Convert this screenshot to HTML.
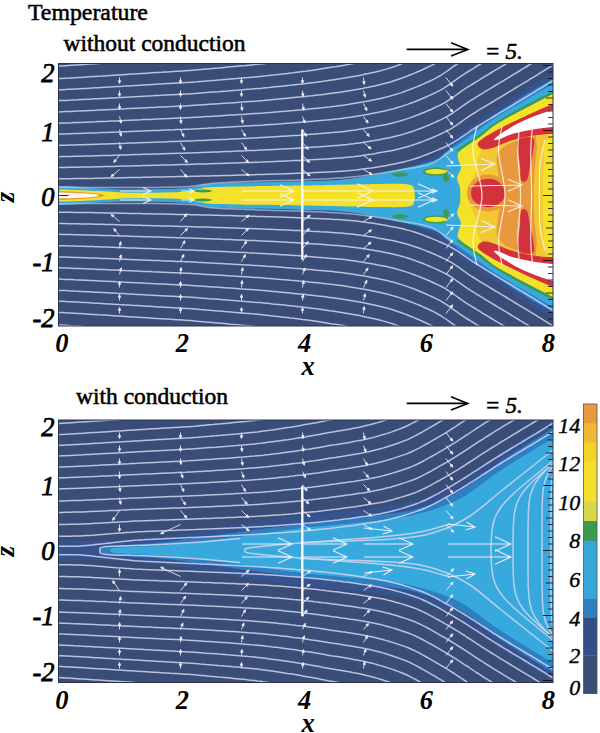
<!DOCTYPE html>
<html><head><meta charset="utf-8"><style>
html,body{margin:0;padding:0;background:#fff;}
body{width:600px;height:733px;overflow:hidden;}
svg{display:block;font-family:"Liberation Serif",serif;}
</style></head><body>
<svg width="600" height="733" viewBox="0 0 600 733">
<defs><clipPath id="ct"><rect x="58.5" y="63.5" width="494.5" height="262.5"/></clipPath>
<clipPath id="cb"><rect x="58.5" y="420.0" width="494.5" height="262.5"/></clipPath>
<filter id="bl" x="-5%" y="-5%" width="110%" height="110%"><feGaussianBlur stdDeviation="0.7"/></filter>
<filter id="bl2" x="-5%" y="-5%" width="110%" height="110%"><feGaussianBlur stdDeviation="0.45"/></filter></defs>
<g clip-path="url(#ct)">
<rect x="58.5" y="63.5" width="494.5" height="262.5" fill="#394d77"/>
<g filter="url(#bl)">
<path d="M380.0 182.0 C386.7 174.2 410.7 166.5 420.0 162.0 C429.3 157.5 430.7 158.8 436.0 155.0 C441.3 151.2 444.7 144.9 452.0 139.0 C459.3 133.1 468.7 127.2 480.0 119.5 C491.3 111.8 507.8 101.0 520.0 93.0 C532.2 85.0 544.7 76.8 553.0 71.5 C561.3 66.2 567.2 17.9 570.0 61.0 C572.8 104.1 572.8 286.9 570.0 330.0 C567.2 373.1 561.3 324.8 553.0 319.5 C544.7 314.2 532.2 306.0 520.0 298.0 C507.8 290.0 491.3 279.2 480.0 271.5 C468.7 263.8 459.3 257.9 452.0 252.0 C444.7 246.1 441.3 239.8 436.0 236.0 C430.7 232.2 429.3 233.5 420.0 229.0 C410.7 224.5 386.7 216.8 380.0 209.0 C373.3 201.2 373.3 189.8 380.0 182.0 Z" fill="#36528e" />
<path d="M380.0 182.5 C386.7 175.2 410.0 168.6 420.0 164.5 C430.0 160.4 434.3 161.2 440.0 158.0 C445.7 154.8 447.3 150.5 454.0 145.0 C460.7 139.5 469.0 132.8 480.0 125.0 C491.0 117.2 507.8 105.7 520.0 98.0 C532.2 90.3 544.7 83.7 553.0 79.0 C561.3 74.3 567.2 29.7 570.0 70.0 C572.8 110.3 572.8 280.7 570.0 321.0 C567.2 361.3 561.3 316.7 553.0 312.0 C544.7 307.3 532.2 300.7 520.0 293.0 C507.8 285.3 491.0 273.8 480.0 266.0 C469.0 258.2 460.7 251.5 454.0 246.0 C447.3 240.5 445.7 236.2 440.0 233.0 C434.3 229.8 430.0 230.6 420.0 226.5 C410.0 222.4 386.7 215.8 380.0 208.5 C373.3 201.2 373.3 189.8 380.0 182.5 Z" fill="#2f7fc2" />
<path d="M50.0 187.0 C58.3 184.4 86.7 188.1 100.0 188.5 C113.3 188.9 115.7 189.6 130.0 189.5 C144.3 189.4 171.8 189.0 186.0 188.0 C200.2 187.0 196.0 184.7 215.0 183.6 C234.0 182.5 277.2 182.2 300.0 181.3 C322.8 180.5 333.3 181.0 352.0 178.5 C370.7 176.0 398.0 169.4 412.0 166.5 C426.0 163.6 430.3 163.4 436.0 161.0 C441.7 158.6 442.0 154.9 446.0 152.0 C450.0 149.1 454.3 147.3 460.0 143.5 C465.7 139.7 473.3 133.8 480.0 129.0 C486.7 124.2 487.8 122.5 500.0 115.0 C512.2 107.5 541.3 90.8 553.0 84.0 C564.7 77.2 567.2 35.2 570.0 74.0 C572.8 112.8 572.8 278.2 570.0 317.0 C567.2 355.8 564.7 313.8 553.0 307.0 C541.3 300.2 512.2 283.5 500.0 276.0 C487.8 268.5 486.7 266.8 480.0 262.0 C473.3 257.2 465.7 251.3 460.0 247.5 C454.3 243.7 450.0 241.9 446.0 239.0 C442.0 236.1 441.7 232.4 436.0 230.0 C430.3 227.6 426.0 227.4 412.0 224.5 C398.0 221.6 370.7 215.0 352.0 212.5 C333.3 210.0 322.8 210.5 300.0 209.7 C277.2 208.8 234.0 208.5 215.0 207.4 C196.0 206.3 200.2 204.0 186.0 203.0 C171.8 202.0 144.3 201.6 130.0 201.5 C115.7 201.4 113.3 202.1 100.0 202.5 C86.7 202.9 58.3 206.6 50.0 204.0 C41.7 201.4 41.7 189.6 50.0 187.0 Z" fill="#38a9dc" />
<path d="M457.0 151.0 C460.8 148.4 472.8 140.5 480.0 135.5 C487.2 130.5 487.8 128.2 500.0 121.0 C512.2 113.8 541.3 98.5 553.0 92.5 C564.7 86.5 567.2 86.2 570.0 85.0" stroke="#3a9a52" stroke-width="2.6" fill="none" stroke-opacity="1"/>
<path d="M457.0 240.0 C460.8 242.6 472.8 250.5 480.0 255.5 C487.2 260.5 487.8 262.8 500.0 270.0 C512.2 277.2 541.3 292.5 553.0 298.5 C564.7 304.5 567.2 304.8 570.0 306.0" stroke="#3a9a52" stroke-width="2.6" fill="none" stroke-opacity="1"/>
<path d="M50.0 190.0 C58.3 188.3 86.7 190.6 100.0 191.0 C113.3 191.4 116.7 192.5 130.0 192.7 C143.3 192.9 168.3 192.6 180.0 192.0 C191.7 191.4 194.2 189.8 200.0 189.0 C205.8 188.2 198.3 187.6 215.0 187.0 C231.7 186.4 272.5 186.1 300.0 185.6 C327.5 185.1 362.0 184.2 380.0 184.0 C398.0 183.8 402.3 183.7 408.0 184.5 C413.7 185.3 413.0 186.1 414.0 189.0 C415.0 191.9 415.0 199.1 414.0 202.0 C413.0 204.9 413.7 205.7 408.0 206.5 C402.3 207.3 398.0 207.2 380.0 207.0 C362.0 206.8 327.5 205.9 300.0 205.4 C272.5 204.9 231.7 204.6 215.0 204.0 C198.3 203.4 205.8 202.8 200.0 202.0 C194.2 201.2 191.7 199.6 180.0 199.0 C168.3 198.4 143.3 198.1 130.0 198.3 C116.7 198.5 113.3 199.6 100.0 200.0 C86.7 200.4 58.3 202.7 50.0 201.0 C41.7 199.3 41.7 191.7 50.0 190.0 Z" fill="#f3e12c" />
<ellipse cx="400" cy="174.5" rx="8" ry="2.2" fill="#3a9a52"/>
<ellipse cx="400" cy="216.5" rx="8" ry="2.2" fill="#3a9a52"/>
<ellipse cx="203" cy="191" rx="9" ry="1.4" fill="#3a9a52"/>
<ellipse cx="203" cy="200.0" rx="9" ry="1.4" fill="#3a9a52"/>
<ellipse cx="446" cy="178" rx="3" ry="4" fill="#3a9a52"/>
<ellipse cx="446" cy="213.0" rx="3" ry="4" fill="#3a9a52"/>
<ellipse cx="436" cy="171.6" rx="13" ry="4" fill="#3a9a52"/>
<ellipse cx="436" cy="219.4" rx="13" ry="4" fill="#3a9a52"/>
<ellipse cx="436" cy="171.6" rx="11" ry="2.7" fill="#f3e12c"/>
<ellipse cx="436" cy="219.4" rx="11" ry="2.7" fill="#f3e12c"/>
<path d="M50.0 191.5 C55.0 190.2 72.3 191.7 80.0 192.0 C87.7 192.3 92.0 193.0 96.0 193.5 C100.0 194.0 102.7 194.6 104.0 195.0 C105.3 195.4 105.3 195.6 104.0 196.0 C102.7 196.4 100.0 197.0 96.0 197.5 C92.0 198.0 87.7 198.7 80.0 199.0 C72.3 199.3 55.0 200.8 50.0 199.5 C45.0 198.2 45.0 192.8 50.0 191.5 Z" fill="#e8993c"/>
<path d="M50.0 192.8 C55.0 192.0 72.8 193.0 80.0 193.2 C87.2 193.4 90.0 193.7 93.0 194.0 C96.0 194.3 97.2 194.7 98.0 195.0 C98.8 195.3 98.8 195.7 98.0 196.0 C97.2 196.3 96.0 196.7 93.0 197.0 C90.0 197.3 87.2 197.6 80.0 197.8 C72.8 198.0 55.0 199.0 50.0 198.2 C45.0 197.4 45.0 193.6 50.0 192.8 Z" fill="#fff6ee"/>
<path d="M570.0 86.0 C567.2 50.8 564.7 88.0 553.0 94.0 C541.3 100.0 512.2 114.8 500.0 122.0 C487.8 129.2 486.7 132.2 480.0 137.0 C473.3 141.8 463.7 147.5 460.0 151.0 C456.3 154.5 457.8 155.2 458.0 158.0 C458.2 160.8 461.2 164.7 461.0 168.0 C460.8 171.3 457.2 174.7 457.0 178.0 C456.8 181.3 459.5 183.8 460.0 188.0 C460.5 192.2 460.5 198.8 460.0 203.0 C459.5 207.2 456.8 209.7 457.0 213.0 C457.2 216.3 460.8 219.7 461.0 223.0 C461.2 226.3 458.2 230.2 458.0 233.0 C457.8 235.8 456.3 236.5 460.0 240.0 C463.7 243.5 473.3 249.2 480.0 254.0 C486.7 258.8 487.8 261.8 500.0 269.0 C512.2 276.2 541.3 291.0 553.0 297.0 C564.7 303.0 567.2 340.2 570.0 305.0 C572.8 269.8 572.8 121.2 570.0 86.0 Z" fill="#f3e12c" />
<path d="M570.0 98.0 C567.2 66.5 561.3 100.0 553.0 104.0 C544.7 108.0 528.8 117.2 520.0 122.0 C511.2 126.8 506.0 129.0 500.0 133.0 C494.0 137.0 487.7 141.8 484.0 146.0 C480.3 150.2 479.3 153.7 478.0 158.0 C476.7 162.3 477.3 167.3 476.0 172.0 C474.7 176.7 471.0 180.5 470.0 186.0 C469.0 191.5 469.0 199.5 470.0 205.0 C471.0 210.5 474.7 214.3 476.0 219.0 C477.3 223.7 476.7 228.7 478.0 233.0 C479.3 237.3 480.3 240.8 484.0 245.0 C487.7 249.2 494.0 254.0 500.0 258.0 C506.0 262.0 511.2 264.2 520.0 269.0 C528.8 273.8 544.7 283.0 553.0 287.0 C561.3 291.0 567.2 324.5 570.0 293.0 C572.8 261.5 572.8 129.5 570.0 98.0 Z" fill="#f2c732" />
<path d="M536.0 138.0 C533.3 119.2 525.2 138.7 520.0 140.0 C514.8 141.3 508.8 143.3 505.0 146.0 C501.2 148.7 498.2 151.7 497.0 156.0 C495.8 160.3 497.5 167.2 498.0 172.0 C498.5 176.8 499.7 179.3 500.0 185.0 C500.3 190.7 500.3 200.3 500.0 206.0 C499.7 211.7 498.5 214.2 498.0 219.0 C497.5 223.8 495.8 230.7 497.0 235.0 C498.2 239.3 501.2 242.3 505.0 245.0 C508.8 247.7 514.8 249.7 520.0 251.0 C525.2 252.3 533.3 271.8 536.0 253.0 C538.7 234.2 538.7 156.8 536.0 138.0 Z" fill="#e8993c" />
<path d="M553.0 136.0 C550.8 116.8 543.0 135.2 540.0 140.0 C537.0 144.8 536.0 155.8 535.0 165.0 C534.0 174.2 534.0 185.3 534.0 195.5 C534.0 205.7 534.0 216.8 535.0 226.0 C536.0 235.2 537.0 246.2 540.0 251.0 C543.0 255.8 550.8 274.2 553.0 255.0 C555.2 235.8 555.2 155.2 553.0 136.0 Z" fill="#f2c732"/>
<path d="M553.0 140.0 C551.7 122.0 546.7 138.0 545.0 143.0 C543.3 148.0 543.4 161.2 543.0 170.0 C542.6 178.8 542.5 187.0 542.5 195.5 C542.5 204.0 542.6 212.2 543.0 221.0 C543.4 229.8 543.3 243.0 545.0 248.0 C546.7 253.0 551.7 269.0 553.0 251.0 C554.3 233.0 554.3 158.0 553.0 140.0 Z" fill="#f3e12c"/>
<path d="M478.0 143.0 C479.3 140.5 483.8 137.7 490.0 134.0 C496.2 130.3 504.5 126.0 515.0 121.0 C525.5 116.0 543.8 107.5 553.0 104.0 C562.2 100.5 567.2 94.3 570.0 100.0 C572.8 105.7 572.8 132.3 570.0 138.0 C567.2 143.7 559.7 134.3 553.0 134.0 C546.3 133.7 537.2 134.8 530.0 136.0 C522.8 137.2 516.3 139.0 510.0 141.0 C503.7 143.0 496.7 146.7 492.0 148.0 C487.3 149.3 484.3 149.8 482.0 149.0 C479.7 148.2 476.7 145.5 478.0 143.0 Z" fill="#d3303c" />
<path d="M478.0 248.0 C479.3 250.5 483.8 253.3 490.0 257.0 C496.2 260.7 504.5 265.0 515.0 270.0 C525.5 275.0 543.8 283.5 553.0 287.0 C562.2 290.5 567.2 296.7 570.0 291.0 C572.8 285.3 572.8 258.7 570.0 253.0 C567.2 247.3 559.7 256.7 553.0 257.0 C546.3 257.3 537.2 256.2 530.0 255.0 C522.8 253.8 516.3 252.0 510.0 250.0 C503.7 248.0 496.7 244.3 492.0 243.0 C487.3 241.7 484.3 241.2 482.0 242.0 C479.7 242.8 476.7 245.5 478.0 248.0 Z" fill="#d3303c" />
<path d="M518.0 140.0 C520.5 137.7 530.5 136.0 533.0 138.0 C535.5 140.0 533.5 147.3 533.0 152.0 C532.5 156.7 531.0 161.3 530.0 166.0 C529.0 170.7 528.5 177.7 527.0 180.0 C525.5 182.3 522.2 182.5 521.0 180.0 C519.8 177.5 520.5 169.7 520.0 165.0 C519.5 160.3 518.3 156.2 518.0 152.0 C517.7 147.8 515.5 142.3 518.0 140.0 Z" fill="#d3303c" />
<path d="M518.0 251.0 C520.5 253.3 530.5 255.0 533.0 253.0 C535.5 251.0 533.5 243.7 533.0 239.0 C532.5 234.3 531.0 229.7 530.0 225.0 C529.0 220.3 528.5 213.3 527.0 211.0 C525.5 208.7 522.2 208.5 521.0 211.0 C519.8 213.5 520.5 221.3 520.0 226.0 C519.5 230.7 518.3 234.8 518.0 239.0 C517.7 243.2 515.5 248.7 518.0 251.0 Z" fill="#d3303c" />
<ellipse cx="488" cy="193.0" rx="21" ry="18.5" fill="#e8993c"/>
<ellipse cx="488" cy="193.0" rx="17" ry="14.3" fill="#d3303c"/>
<path d="M494.0 139.5 C494.8 138.2 499.8 134.2 505.0 131.0 C510.2 127.8 517.0 123.5 525.0 120.0 C533.0 116.5 545.5 112.0 553.0 110.0 C560.5 108.0 567.2 105.2 570.0 108.0 C572.8 110.8 572.8 123.8 570.0 127.0 C567.2 130.2 559.7 126.5 553.0 127.0 C546.3 127.5 536.8 128.8 530.0 130.0 C523.2 131.2 517.0 132.5 512.0 134.0 C507.0 135.5 503.0 138.1 500.0 139.0 C497.0 139.9 493.2 140.8 494.0 139.5 Z" fill="#ffffff" />
<path d="M494.0 251.5 C494.8 252.8 499.8 256.8 505.0 260.0 C510.2 263.2 517.0 267.5 525.0 271.0 C533.0 274.5 545.5 279.0 553.0 281.0 C560.5 283.0 567.2 285.8 570.0 283.0 C572.8 280.2 572.8 267.2 570.0 264.0 C567.2 260.8 559.7 264.5 553.0 264.0 C546.3 263.5 536.8 262.2 530.0 261.0 C523.2 259.8 517.0 258.5 512.0 257.0 C507.0 255.5 503.0 252.9 500.0 252.0 C497.0 251.1 493.2 250.2 494.0 251.5 Z" fill="#ffffff" />
</g>
<g stroke="#d0d6f0" stroke-width="1.5" fill="none" stroke-opacity="0.85" filter="url(#bl2)">
<path d="M56.5 66.2 L59.5 66.1 L62.5 65.9 L65.5 65.7 L68.5 65.5 L71.5 65.3 L74.5 65.1 L77.5 64.9 L80.5 64.7 L83.5 64.5 L86.5 64.3 L89.5 64.1 L92.5 63.9 L95.5 63.7 L98.5 63.5 L101.5 63.3 L104.5 63.1 L107.5 62.9 L110.5 62.7 L113.5 62.5 L116.5 62.2 L119.5 62.0 L122.5 61.8 L125.5 61.6 L128.5 61.4 L131.5 61.2 L134.5 61.0 L137.5 60.8 L140.5 60.6 L143.5 60.4 L146.5 60.2 L149.5 60.0 L152.5 59.8 L155.5 59.6 L158.5 59.4 L161.5 59.2 L164.5 59.0 L167.5 58.8 L170.5 58.6 L173.5 58.4 L176.5 58.2 L179.5 58.0 L182.5 57.8 L185.5 57.6 L188.5 57.4 L191.5 57.1 L194.5 56.8 L197.5 56.6 L200.5 56.3 L203.5 56.0 L206.5 55.7 L209.5 55.4 L212.5 55.1 L215.5 54.8 L218.5 54.5 L221.5 54.2 L224.5 53.9 L227.5 53.6 L230.5 53.3 L233.5 53.0 L236.5 52.7 L239.5 52.4 L242.5 52.1 L245.5 51.8 L248.5 51.5 L251.5 51.2 L254.5 50.9 L257.5 50.5 L260.5 50.2 L263.5 49.8 L266.5 49.4 L269.5 49.0 L272.5 48.6 L275.5 48.2 L278.5 47.8 L281.5 47.4 L284.5 47.0 L287.5 46.6 L290.5 46.1 L293.5 45.7 L296.5 45.3 L299.5 44.8 L302.5 44.4 L305.5 43.9 L308.5 43.5 L311.5 43.0 L314.5 42.5 L317.5 41.9 L320.5 41.4 L323.5 40.8 L326.5 40.1 L329.5 39.5 L332.5 39.0 L335.5 38.4 L338.5 37.9 L341.5 37.3 L344.5 36.7 L347.5 36.1 L350.5 35.5 L353.5 34.8 L356.5 34.2 L359.5 33.5 L362.5 32.8 L365.5 32.1 L368.5 31.3 L371.5 30.6 L374.5 29.7 L377.5 28.8 L380.5 27.8 L383.5 26.8 L386.5 25.7 L389.5 24.6 L392.5 23.4 L395.5 22.2 L398.5 20.9 L401.5 19.6 L404.5 18.3 L407.5 17.0 L410.5 15.6 L413.5 14.2 L416.5 12.8 L419.5 11.4 L422.5 9.8 L425.5 8.0 L428.5 6.1 L431.5 4.0 L434.5 1.9 L437.5 -0.3 L440.5 -2.5 L443.5 -4.6 L446.5 -6.7 L449.5 -8.6 L452.5 -10.5 L455.5 -12.4 L458.5 -14.3 L461.5 -16.2 L464.5 -18.1 L467.5 -19.9 L470.5 -21.8 L473.5 -23.6 L476.5 -25.5 L479.5 -27.4 L482.5 -29.2 L485.5 -31.1 L488.5 -33.0 L491.5 -34.9 L494.5 -36.7 L497.5 -38.6 L500.5 -40.5 L503.5 -42.4 L506.5 -44.3 L509.5 -46.2 L512.5 -48.1 L515.5 -50.0 L518.5 -51.9 L521.5 -53.8 L524.5 -55.8 L527.5 -57.7 L530.5 -59.7 L533.5 -61.6 L536.5 -63.6 L539.5 -65.6 L542.5 -67.6 L545.5 -69.6 L548.5 -71.5 L551.5 -73.5 L554.5 -75.5"/>
<path d="M56.5 324.8 L59.5 324.9 L62.5 325.1 L65.5 325.3 L68.5 325.5 L71.5 325.7 L74.5 325.9 L77.5 326.1 L80.5 326.3 L83.5 326.5 L86.5 326.7 L89.5 326.9 L92.5 327.1 L95.5 327.3 L98.5 327.5 L101.5 327.7 L104.5 327.9 L107.5 328.1 L110.5 328.3 L113.5 328.5 L116.5 328.8 L119.5 329.0 L122.5 329.2 L125.5 329.4 L128.5 329.6 L131.5 329.8 L134.5 330.0 L137.5 330.2 L140.5 330.4 L143.5 330.6 L146.5 330.8 L149.5 331.0 L152.5 331.2 L155.5 331.4 L158.5 331.6 L161.5 331.8 L164.5 332.0 L167.5 332.2 L170.5 332.4 L173.5 332.6 L176.5 332.8 L179.5 333.0 L182.5 333.2 L185.5 333.4 L188.5 333.6 L191.5 333.9 L194.5 334.2 L197.5 334.4 L200.5 334.7 L203.5 335.0 L206.5 335.3 L209.5 335.6 L212.5 335.9 L215.5 336.2 L218.5 336.5 L221.5 336.8 L224.5 337.1 L227.5 337.4 L230.5 337.7 L233.5 338.0 L236.5 338.3 L239.5 338.6 L242.5 338.9 L245.5 339.2 L248.5 339.5 L251.5 339.8 L254.5 340.1 L257.5 340.5 L260.5 340.8 L263.5 341.2 L266.5 341.6 L269.5 342.0 L272.5 342.4 L275.5 342.8 L278.5 343.2 L281.5 343.6 L284.5 344.0 L287.5 344.4 L290.5 344.9 L293.5 345.3 L296.5 345.7 L299.5 346.2 L302.5 346.6 L305.5 347.1 L308.5 347.5 L311.5 348.0 L314.5 348.5 L317.5 349.1 L320.5 349.6 L323.5 350.2 L326.5 350.9 L329.5 351.5 L332.5 352.0 L335.5 352.6 L338.5 353.1 L341.5 353.7 L344.5 354.3 L347.5 354.9 L350.5 355.5 L353.5 356.2 L356.5 356.8 L359.5 357.5 L362.5 358.2 L365.5 358.9 L368.5 359.7 L371.5 360.4 L374.5 361.3 L377.5 362.2 L380.5 363.2 L383.5 364.2 L386.5 365.3 L389.5 366.4 L392.5 367.6 L395.5 368.8 L398.5 370.1 L401.5 371.4 L404.5 372.7 L407.5 374.0 L410.5 375.4 L413.5 376.8 L416.5 378.2 L419.5 379.6 L422.5 381.2 L425.5 383.0 L428.5 384.9 L431.5 387.0 L434.5 389.1 L437.5 391.3 L440.5 393.5 L443.5 395.6 L446.5 397.7 L449.5 399.6 L452.5 401.5 L455.5 403.4 L458.5 405.3 L461.5 407.2 L464.5 409.1 L467.5 410.9 L470.5 412.8 L473.5 414.6 L476.5 416.5 L479.5 418.4 L482.5 420.2 L485.5 422.1 L488.5 424.0 L491.5 425.9 L494.5 427.7 L497.5 429.6 L500.5 431.5 L503.5 433.4 L506.5 435.3 L509.5 437.2 L512.5 439.1 L515.5 441.0 L518.5 442.9 L521.5 444.8 L524.5 446.8 L527.5 448.7 L530.5 450.7 L533.5 452.6 L536.5 454.6 L539.5 456.6 L542.5 458.6 L545.5 460.6 L548.5 462.5 L551.5 464.5 L554.5 466.5"/>
<path d="M56.5 78.7 L59.5 78.6 L62.5 78.4 L65.5 78.2 L68.5 78.1 L71.5 77.9 L74.5 77.7 L77.5 77.5 L80.5 77.4 L83.5 77.2 L86.5 77.0 L89.5 76.8 L92.5 76.6 L95.5 76.4 L98.5 76.2 L101.5 76.1 L104.5 75.9 L107.5 75.7 L110.5 75.5 L113.5 75.3 L116.5 75.1 L119.5 74.9 L122.5 74.7 L125.5 74.5 L128.5 74.3 L131.5 74.1 L134.5 74.0 L137.5 73.8 L140.5 73.6 L143.5 73.4 L146.5 73.2 L149.5 73.0 L152.5 72.8 L155.5 72.6 L158.5 72.4 L161.5 72.3 L164.5 72.1 L167.5 71.9 L170.5 71.7 L173.5 71.5 L176.5 71.3 L179.5 71.2 L182.5 71.0 L185.5 70.8 L188.5 70.6 L191.5 70.4 L194.5 70.1 L197.5 69.8 L200.5 69.6 L203.5 69.3 L206.5 69.0 L209.5 68.8 L212.5 68.5 L215.5 68.2 L218.5 68.0 L221.5 67.7 L224.5 67.4 L227.5 67.1 L230.5 66.8 L233.5 66.6 L236.5 66.3 L239.5 66.0 L242.5 65.7 L245.5 65.5 L248.5 65.2 L251.5 64.9 L254.5 64.6 L257.5 64.3 L260.5 64.0 L263.5 63.7 L266.5 63.3 L269.5 63.0 L272.5 62.6 L275.5 62.2 L278.5 61.8 L281.5 61.5 L284.5 61.1 L287.5 60.7 L290.5 60.3 L293.5 59.9 L296.5 59.5 L299.5 59.1 L302.5 58.7 L305.5 58.3 L308.5 57.9 L311.5 57.4 L314.5 57.0 L317.5 56.5 L320.5 56.0 L323.5 55.5 L326.5 54.9 L329.5 54.3 L332.5 53.8 L335.5 53.3 L338.5 52.8 L341.5 52.3 L344.5 51.7 L347.5 51.2 L350.5 50.6 L353.5 49.9 L356.5 49.3 L359.5 48.7 L362.5 48.0 L365.5 47.3 L368.5 46.6 L371.5 45.9 L374.5 45.2 L377.5 44.3 L380.5 43.5 L383.5 42.5 L386.5 41.5 L389.5 40.4 L392.5 39.3 L395.5 38.1 L398.5 36.9 L401.5 35.7 L404.5 34.4 L407.5 33.2 L410.5 31.9 L413.5 30.5 L416.5 29.1 L419.5 27.7 L422.5 26.3 L425.5 24.7 L428.5 23.0 L431.5 21.0 L434.5 19.0 L437.5 16.9 L440.5 14.7 L443.5 12.5 L446.5 10.4 L449.5 8.3 L452.5 6.4 L455.5 4.5 L458.5 2.6 L461.5 0.7 L464.5 -1.2 L467.5 -3.0 L470.5 -4.9 L473.5 -6.7 L476.5 -8.6 L479.5 -10.4 L482.5 -12.3 L485.5 -14.1 L488.5 -16.0 L491.5 -17.9 L494.5 -19.7 L497.5 -21.6 L500.5 -23.5 L503.5 -25.4 L506.5 -27.2 L509.5 -29.1 L512.5 -31.0 L515.5 -32.9 L518.5 -34.8 L521.5 -36.7 L524.5 -38.6 L527.5 -40.6 L530.5 -42.5 L533.5 -44.5 L536.5 -46.4 L539.5 -48.4 L542.5 -50.4 L545.5 -52.3 L548.5 -54.3 L551.5 -56.3 L554.5 -58.3"/>
<path d="M56.5 312.3 L59.5 312.4 L62.5 312.6 L65.5 312.8 L68.5 312.9 L71.5 313.1 L74.5 313.3 L77.5 313.5 L80.5 313.6 L83.5 313.8 L86.5 314.0 L89.5 314.2 L92.5 314.4 L95.5 314.6 L98.5 314.8 L101.5 314.9 L104.5 315.1 L107.5 315.3 L110.5 315.5 L113.5 315.7 L116.5 315.9 L119.5 316.1 L122.5 316.3 L125.5 316.5 L128.5 316.7 L131.5 316.9 L134.5 317.0 L137.5 317.2 L140.5 317.4 L143.5 317.6 L146.5 317.8 L149.5 318.0 L152.5 318.2 L155.5 318.4 L158.5 318.6 L161.5 318.7 L164.5 318.9 L167.5 319.1 L170.5 319.3 L173.5 319.5 L176.5 319.7 L179.5 319.8 L182.5 320.0 L185.5 320.2 L188.5 320.4 L191.5 320.6 L194.5 320.9 L197.5 321.2 L200.5 321.4 L203.5 321.7 L206.5 322.0 L209.5 322.2 L212.5 322.5 L215.5 322.8 L218.5 323.0 L221.5 323.3 L224.5 323.6 L227.5 323.9 L230.5 324.2 L233.5 324.4 L236.5 324.7 L239.5 325.0 L242.5 325.3 L245.5 325.5 L248.5 325.8 L251.5 326.1 L254.5 326.4 L257.5 326.7 L260.5 327.0 L263.5 327.3 L266.5 327.7 L269.5 328.0 L272.5 328.4 L275.5 328.8 L278.5 329.2 L281.5 329.5 L284.5 329.9 L287.5 330.3 L290.5 330.7 L293.5 331.1 L296.5 331.5 L299.5 331.9 L302.5 332.3 L305.5 332.7 L308.5 333.1 L311.5 333.6 L314.5 334.0 L317.5 334.5 L320.5 335.0 L323.5 335.5 L326.5 336.1 L329.5 336.7 L332.5 337.2 L335.5 337.7 L338.5 338.2 L341.5 338.7 L344.5 339.3 L347.5 339.8 L350.5 340.4 L353.5 341.1 L356.5 341.7 L359.5 342.3 L362.5 343.0 L365.5 343.7 L368.5 344.4 L371.5 345.1 L374.5 345.8 L377.5 346.7 L380.5 347.5 L383.5 348.5 L386.5 349.5 L389.5 350.6 L392.5 351.7 L395.5 352.9 L398.5 354.1 L401.5 355.3 L404.5 356.6 L407.5 357.8 L410.5 359.1 L413.5 360.5 L416.5 361.9 L419.5 363.3 L422.5 364.7 L425.5 366.3 L428.5 368.0 L431.5 370.0 L434.5 372.0 L437.5 374.1 L440.5 376.3 L443.5 378.5 L446.5 380.6 L449.5 382.7 L452.5 384.6 L455.5 386.5 L458.5 388.4 L461.5 390.3 L464.5 392.2 L467.5 394.0 L470.5 395.9 L473.5 397.7 L476.5 399.6 L479.5 401.4 L482.5 403.3 L485.5 405.1 L488.5 407.0 L491.5 408.9 L494.5 410.7 L497.5 412.6 L500.5 414.5 L503.5 416.4 L506.5 418.2 L509.5 420.1 L512.5 422.0 L515.5 423.9 L518.5 425.8 L521.5 427.7 L524.5 429.6 L527.5 431.6 L530.5 433.5 L533.5 435.5 L536.5 437.4 L539.5 439.4 L542.5 441.4 L545.5 443.3 L548.5 445.3 L551.5 447.3 L554.5 449.3"/>
<path d="M56.5 89.9 L59.5 89.8 L62.5 89.7 L65.5 89.5 L68.5 89.3 L71.5 89.2 L74.5 89.0 L77.5 88.9 L80.5 88.7 L83.5 88.5 L86.5 88.4 L89.5 88.2 L92.5 88.0 L95.5 87.8 L98.5 87.7 L101.5 87.5 L104.5 87.3 L107.5 87.1 L110.5 87.0 L113.5 86.8 L116.5 86.6 L119.5 86.4 L122.5 86.3 L125.5 86.1 L128.5 85.9 L131.5 85.7 L134.5 85.6 L137.5 85.4 L140.5 85.2 L143.5 85.0 L146.5 84.8 L149.5 84.7 L152.5 84.5 L155.5 84.3 L158.5 84.1 L161.5 84.0 L164.5 83.8 L167.5 83.6 L170.5 83.5 L173.5 83.3 L176.5 83.1 L179.5 83.0 L182.5 82.8 L185.5 82.6 L188.5 82.4 L191.5 82.2 L194.5 82.0 L197.5 81.8 L200.5 81.5 L203.5 81.3 L206.5 81.0 L209.5 80.8 L212.5 80.5 L215.5 80.3 L218.5 80.0 L221.5 79.8 L224.5 79.5 L227.5 79.3 L230.5 79.0 L233.5 78.7 L236.5 78.5 L239.5 78.2 L242.5 78.0 L245.5 77.7 L248.5 77.5 L251.5 77.2 L254.5 77.0 L257.5 76.7 L260.5 76.4 L263.5 76.1 L266.5 75.8 L269.5 75.4 L272.5 75.1 L275.5 74.8 L278.5 74.4 L281.5 74.1 L284.5 73.7 L287.5 73.4 L290.5 73.0 L293.5 72.7 L296.5 72.3 L299.5 71.9 L302.5 71.5 L305.5 71.2 L308.5 70.8 L311.5 70.4 L314.5 70.0 L317.5 69.6 L320.5 69.1 L323.5 68.6 L326.5 68.1 L329.5 67.6 L332.5 67.1 L335.5 66.7 L338.5 66.2 L341.5 65.7 L344.5 65.2 L347.5 64.6 L350.5 64.1 L353.5 63.5 L356.5 62.9 L359.5 62.3 L362.5 61.6 L365.5 61.0 L368.5 60.3 L371.5 59.6 L374.5 58.9 L377.5 58.2 L380.5 57.4 L383.5 56.5 L386.5 55.6 L389.5 54.6 L392.5 53.5 L395.5 52.4 L398.5 51.2 L401.5 50.1 L404.5 48.9 L407.5 47.6 L410.5 46.4 L413.5 45.1 L416.5 43.7 L419.5 42.3 L422.5 40.9 L425.5 39.5 L428.5 37.9 L431.5 36.2 L434.5 34.2 L437.5 32.2 L440.5 30.1 L443.5 27.9 L446.5 25.7 L449.5 23.6 L452.5 21.6 L455.5 19.6 L458.5 17.7 L461.5 15.9 L464.5 14.0 L467.5 12.1 L470.5 10.3 L473.5 8.4 L476.5 6.6 L479.5 4.7 L482.5 2.9 L485.5 1.0 L488.5 -0.8 L491.5 -2.7 L494.5 -4.5 L497.5 -6.4 L500.5 -8.3 L503.5 -10.1 L506.5 -12.0 L509.5 -13.9 L512.5 -15.7 L515.5 -17.6 L518.5 -19.5 L521.5 -21.4 L524.5 -23.3 L527.5 -25.2 L530.5 -27.2 L533.5 -29.1 L536.5 -31.0 L539.5 -33.0 L542.5 -34.9 L545.5 -36.9 L548.5 -38.9 L551.5 -40.8 L554.5 -42.8"/>
<path d="M56.5 301.1 L59.5 301.2 L62.5 301.3 L65.5 301.5 L68.5 301.7 L71.5 301.8 L74.5 302.0 L77.5 302.1 L80.5 302.3 L83.5 302.5 L86.5 302.6 L89.5 302.8 L92.5 303.0 L95.5 303.2 L98.5 303.3 L101.5 303.5 L104.5 303.7 L107.5 303.9 L110.5 304.0 L113.5 304.2 L116.5 304.4 L119.5 304.6 L122.5 304.7 L125.5 304.9 L128.5 305.1 L131.5 305.3 L134.5 305.4 L137.5 305.6 L140.5 305.8 L143.5 306.0 L146.5 306.2 L149.5 306.3 L152.5 306.5 L155.5 306.7 L158.5 306.9 L161.5 307.0 L164.5 307.2 L167.5 307.4 L170.5 307.5 L173.5 307.7 L176.5 307.9 L179.5 308.0 L182.5 308.2 L185.5 308.4 L188.5 308.6 L191.5 308.8 L194.5 309.0 L197.5 309.2 L200.5 309.5 L203.5 309.7 L206.5 310.0 L209.5 310.2 L212.5 310.5 L215.5 310.7 L218.5 311.0 L221.5 311.2 L224.5 311.5 L227.5 311.7 L230.5 312.0 L233.5 312.3 L236.5 312.5 L239.5 312.8 L242.5 313.0 L245.5 313.3 L248.5 313.5 L251.5 313.8 L254.5 314.0 L257.5 314.3 L260.5 314.6 L263.5 314.9 L266.5 315.2 L269.5 315.6 L272.5 315.9 L275.5 316.2 L278.5 316.6 L281.5 316.9 L284.5 317.3 L287.5 317.6 L290.5 318.0 L293.5 318.3 L296.5 318.7 L299.5 319.1 L302.5 319.5 L305.5 319.8 L308.5 320.2 L311.5 320.6 L314.5 321.0 L317.5 321.4 L320.5 321.9 L323.5 322.4 L326.5 322.9 L329.5 323.4 L332.5 323.9 L335.5 324.3 L338.5 324.8 L341.5 325.3 L344.5 325.8 L347.5 326.4 L350.5 326.9 L353.5 327.5 L356.5 328.1 L359.5 328.7 L362.5 329.4 L365.5 330.0 L368.5 330.7 L371.5 331.4 L374.5 332.1 L377.5 332.8 L380.5 333.6 L383.5 334.5 L386.5 335.4 L389.5 336.4 L392.5 337.5 L395.5 338.6 L398.5 339.8 L401.5 340.9 L404.5 342.1 L407.5 343.4 L410.5 344.6 L413.5 345.9 L416.5 347.3 L419.5 348.7 L422.5 350.1 L425.5 351.5 L428.5 353.1 L431.5 354.8 L434.5 356.8 L437.5 358.8 L440.5 360.9 L443.5 363.1 L446.5 365.3 L449.5 367.4 L452.5 369.4 L455.5 371.4 L458.5 373.3 L461.5 375.1 L464.5 377.0 L467.5 378.9 L470.5 380.7 L473.5 382.6 L476.5 384.4 L479.5 386.3 L482.5 388.1 L485.5 390.0 L488.5 391.8 L491.5 393.7 L494.5 395.5 L497.5 397.4 L500.5 399.3 L503.5 401.1 L506.5 403.0 L509.5 404.9 L512.5 406.7 L515.5 408.6 L518.5 410.5 L521.5 412.4 L524.5 414.3 L527.5 416.2 L530.5 418.2 L533.5 420.1 L536.5 422.0 L539.5 424.0 L542.5 425.9 L545.5 427.9 L548.5 429.9 L551.5 431.8 L554.5 433.8"/>
<path d="M56.5 100.7 L59.5 100.6 L62.5 100.5 L65.5 100.4 L68.5 100.2 L71.5 100.1 L74.5 99.9 L77.5 99.8 L80.5 99.6 L83.5 99.5 L86.5 99.3 L89.5 99.2 L92.5 99.0 L95.5 98.8 L98.5 98.7 L101.5 98.5 L104.5 98.4 L107.5 98.2 L110.5 98.0 L113.5 97.9 L116.5 97.7 L119.5 97.6 L122.5 97.4 L125.5 97.2 L128.5 97.1 L131.5 96.9 L134.5 96.7 L137.5 96.6 L140.5 96.4 L143.5 96.2 L146.5 96.1 L149.5 95.9 L152.5 95.8 L155.5 95.6 L158.5 95.4 L161.5 95.3 L164.5 95.1 L167.5 95.0 L170.5 94.8 L173.5 94.7 L176.5 94.5 L179.5 94.3 L182.5 94.2 L185.5 94.0 L188.5 93.9 L191.5 93.7 L194.5 93.5 L197.5 93.2 L200.5 93.0 L203.5 92.8 L206.5 92.6 L209.5 92.3 L212.5 92.1 L215.5 91.9 L218.5 91.7 L221.5 91.4 L224.5 91.2 L227.5 91.0 L230.5 90.7 L233.5 90.5 L236.5 90.3 L239.5 90.0 L242.5 89.8 L245.5 89.5 L248.5 89.3 L251.5 89.1 L254.5 88.8 L257.5 88.6 L260.5 88.4 L263.5 88.1 L266.5 87.8 L269.5 87.5 L272.5 87.1 L275.5 86.8 L278.5 86.5 L281.5 86.2 L284.5 85.9 L287.5 85.6 L290.5 85.3 L293.5 84.9 L296.5 84.6 L299.5 84.3 L302.5 83.9 L305.5 83.6 L308.5 83.2 L311.5 82.8 L314.5 82.5 L317.5 82.1 L320.5 81.7 L323.5 81.3 L326.5 80.8 L329.5 80.3 L332.5 79.9 L335.5 79.5 L338.5 79.1 L341.5 78.6 L344.5 78.1 L347.5 77.6 L350.5 77.1 L353.5 76.5 L356.5 76.0 L359.5 75.4 L362.5 74.8 L365.5 74.1 L368.5 73.5 L371.5 72.8 L374.5 72.2 L377.5 71.5 L380.5 70.8 L383.5 69.9 L386.5 69.1 L389.5 68.1 L392.5 67.2 L395.5 66.1 L398.5 65.0 L401.5 63.9 L404.5 62.7 L407.5 61.6 L410.5 60.3 L413.5 59.1 L416.5 57.8 L419.5 56.4 L422.5 55.0 L425.5 53.6 L428.5 52.2 L431.5 50.6 L434.5 48.8 L437.5 46.9 L440.5 44.9 L443.5 42.7 L446.5 40.6 L449.5 38.4 L452.5 36.3 L455.5 34.3 L458.5 32.4 L461.5 30.5 L464.5 28.6 L467.5 26.7 L470.5 24.9 L473.5 23.0 L476.5 21.2 L479.5 19.4 L482.5 17.5 L485.5 15.7 L488.5 13.8 L491.5 12.0 L494.5 10.2 L497.5 8.3 L500.5 6.4 L503.5 4.6 L506.5 2.7 L509.5 0.8 L512.5 -1.0 L515.5 -2.9 L518.5 -4.8 L521.5 -6.6 L524.5 -8.5 L527.5 -10.4 L530.5 -12.3 L533.5 -14.3 L536.5 -16.2 L539.5 -18.1 L542.5 -20.1 L545.5 -22.0 L548.5 -24.0 L551.5 -25.9 L554.5 -27.9"/>
<path d="M56.5 290.3 L59.5 290.4 L62.5 290.5 L65.5 290.6 L68.5 290.8 L71.5 290.9 L74.5 291.1 L77.5 291.2 L80.5 291.4 L83.5 291.5 L86.5 291.7 L89.5 291.8 L92.5 292.0 L95.5 292.2 L98.5 292.3 L101.5 292.5 L104.5 292.6 L107.5 292.8 L110.5 293.0 L113.5 293.1 L116.5 293.3 L119.5 293.4 L122.5 293.6 L125.5 293.8 L128.5 293.9 L131.5 294.1 L134.5 294.3 L137.5 294.4 L140.5 294.6 L143.5 294.8 L146.5 294.9 L149.5 295.1 L152.5 295.2 L155.5 295.4 L158.5 295.6 L161.5 295.7 L164.5 295.9 L167.5 296.0 L170.5 296.2 L173.5 296.3 L176.5 296.5 L179.5 296.7 L182.5 296.8 L185.5 297.0 L188.5 297.1 L191.5 297.3 L194.5 297.5 L197.5 297.8 L200.5 298.0 L203.5 298.2 L206.5 298.4 L209.5 298.7 L212.5 298.9 L215.5 299.1 L218.5 299.3 L221.5 299.6 L224.5 299.8 L227.5 300.0 L230.5 300.3 L233.5 300.5 L236.5 300.7 L239.5 301.0 L242.5 301.2 L245.5 301.5 L248.5 301.7 L251.5 301.9 L254.5 302.2 L257.5 302.4 L260.5 302.6 L263.5 302.9 L266.5 303.2 L269.5 303.5 L272.5 303.9 L275.5 304.2 L278.5 304.5 L281.5 304.8 L284.5 305.1 L287.5 305.4 L290.5 305.7 L293.5 306.1 L296.5 306.4 L299.5 306.7 L302.5 307.1 L305.5 307.4 L308.5 307.8 L311.5 308.2 L314.5 308.5 L317.5 308.9 L320.5 309.3 L323.5 309.7 L326.5 310.2 L329.5 310.7 L332.5 311.1 L335.5 311.5 L338.5 311.9 L341.5 312.4 L344.5 312.9 L347.5 313.4 L350.5 313.9 L353.5 314.5 L356.5 315.0 L359.5 315.6 L362.5 316.2 L365.5 316.9 L368.5 317.5 L371.5 318.2 L374.5 318.8 L377.5 319.5 L380.5 320.2 L383.5 321.1 L386.5 321.9 L389.5 322.9 L392.5 323.8 L395.5 324.9 L398.5 326.0 L401.5 327.1 L404.5 328.3 L407.5 329.4 L410.5 330.7 L413.5 331.9 L416.5 333.2 L419.5 334.6 L422.5 336.0 L425.5 337.4 L428.5 338.8 L431.5 340.4 L434.5 342.2 L437.5 344.1 L440.5 346.1 L443.5 348.3 L446.5 350.4 L449.5 352.6 L452.5 354.7 L455.5 356.7 L458.5 358.6 L461.5 360.5 L464.5 362.4 L467.5 364.3 L470.5 366.1 L473.5 368.0 L476.5 369.8 L479.5 371.6 L482.5 373.5 L485.5 375.3 L488.5 377.2 L491.5 379.0 L494.5 380.8 L497.5 382.7 L500.5 384.6 L503.5 386.4 L506.5 388.3 L509.5 390.2 L512.5 392.0 L515.5 393.9 L518.5 395.8 L521.5 397.6 L524.5 399.5 L527.5 401.4 L530.5 403.3 L533.5 405.3 L536.5 407.2 L539.5 409.1 L542.5 411.1 L545.5 413.0 L548.5 415.0 L551.5 416.9 L554.5 418.9"/>
<path d="M56.5 111.9 L59.5 111.9 L62.5 111.7 L65.5 111.6 L68.5 111.5 L71.5 111.4 L74.5 111.2 L77.5 111.1 L80.5 111.0 L83.5 110.8 L86.5 110.7 L89.5 110.5 L92.5 110.4 L95.5 110.3 L98.5 110.1 L101.5 110.0 L104.5 109.8 L107.5 109.7 L110.5 109.5 L113.5 109.4 L116.5 109.2 L119.5 109.1 L122.5 108.9 L125.5 108.8 L128.5 108.6 L131.5 108.5 L134.5 108.3 L137.5 108.2 L140.5 108.0 L143.5 107.9 L146.5 107.7 L149.5 107.6 L152.5 107.4 L155.5 107.3 L158.5 107.1 L161.5 107.0 L164.5 106.9 L167.5 106.7 L170.5 106.6 L173.5 106.4 L176.5 106.3 L179.5 106.1 L182.5 106.0 L185.5 105.9 L188.5 105.7 L191.5 105.5 L194.5 105.3 L197.5 105.1 L200.5 104.9 L203.5 104.7 L206.5 104.5 L209.5 104.3 L212.5 104.1 L215.5 103.9 L218.5 103.7 L221.5 103.5 L224.5 103.3 L227.5 103.1 L230.5 102.9 L233.5 102.7 L236.5 102.5 L239.5 102.2 L242.5 102.0 L245.5 101.8 L248.5 101.6 L251.5 101.4 L254.5 101.2 L257.5 101.0 L260.5 100.7 L263.5 100.5 L266.5 100.2 L269.5 99.9 L272.5 99.6 L275.5 99.4 L278.5 99.1 L281.5 98.8 L284.5 98.5 L287.5 98.2 L290.5 97.9 L293.5 97.6 L296.5 97.3 L299.5 97.0 L302.5 96.7 L305.5 96.4 L308.5 96.1 L311.5 95.8 L314.5 95.4 L317.5 95.1 L320.5 94.8 L323.5 94.4 L326.5 94.0 L329.5 93.6 L332.5 93.2 L335.5 92.8 L338.5 92.4 L341.5 92.0 L344.5 91.5 L347.5 91.0 L350.5 90.5 L353.5 90.0 L356.5 89.5 L359.5 88.9 L362.5 88.4 L365.5 87.8 L368.5 87.2 L371.5 86.5 L374.5 85.9 L377.5 85.2 L380.5 84.6 L383.5 83.8 L386.5 83.0 L389.5 82.2 L392.5 81.3 L395.5 80.3 L398.5 79.2 L401.5 78.2 L404.5 77.1 L407.5 76.0 L410.5 74.8 L413.5 73.6 L416.5 72.3 L419.5 71.0 L422.5 69.7 L425.5 68.3 L428.5 66.9 L431.5 65.4 L434.5 63.9 L437.5 62.1 L440.5 60.1 L443.5 58.1 L446.5 56.0 L449.5 53.8 L452.5 51.7 L455.5 49.6 L458.5 47.6 L461.5 45.7 L464.5 43.8 L467.5 41.9 L470.5 40.0 L473.5 38.2 L476.5 36.3 L479.5 34.5 L482.5 32.7 L485.5 30.9 L488.5 29.0 L491.5 27.2 L494.5 25.4 L497.5 23.5 L500.5 21.7 L503.5 19.8 L506.5 18.0 L509.5 16.1 L512.5 14.2 L515.5 12.4 L518.5 10.5 L521.5 8.7 L524.5 6.8 L527.5 4.9 L530.5 3.0 L533.5 1.1 L536.5 -0.8 L539.5 -2.7 L542.5 -4.7 L545.5 -6.6 L548.5 -8.6 L551.5 -10.5 L554.5 -12.4"/>
<path d="M56.5 279.1 L59.5 279.1 L62.5 279.3 L65.5 279.4 L68.5 279.5 L71.5 279.6 L74.5 279.8 L77.5 279.9 L80.5 280.0 L83.5 280.2 L86.5 280.3 L89.5 280.5 L92.5 280.6 L95.5 280.7 L98.5 280.9 L101.5 281.0 L104.5 281.2 L107.5 281.3 L110.5 281.5 L113.5 281.6 L116.5 281.8 L119.5 281.9 L122.5 282.1 L125.5 282.2 L128.5 282.4 L131.5 282.5 L134.5 282.7 L137.5 282.8 L140.5 283.0 L143.5 283.1 L146.5 283.3 L149.5 283.4 L152.5 283.6 L155.5 283.7 L158.5 283.9 L161.5 284.0 L164.5 284.1 L167.5 284.3 L170.5 284.4 L173.5 284.6 L176.5 284.7 L179.5 284.9 L182.5 285.0 L185.5 285.1 L188.5 285.3 L191.5 285.5 L194.5 285.7 L197.5 285.9 L200.5 286.1 L203.5 286.3 L206.5 286.5 L209.5 286.7 L212.5 286.9 L215.5 287.1 L218.5 287.3 L221.5 287.5 L224.5 287.7 L227.5 287.9 L230.5 288.1 L233.5 288.3 L236.5 288.5 L239.5 288.8 L242.5 289.0 L245.5 289.2 L248.5 289.4 L251.5 289.6 L254.5 289.8 L257.5 290.0 L260.5 290.3 L263.5 290.5 L266.5 290.8 L269.5 291.1 L272.5 291.4 L275.5 291.6 L278.5 291.9 L281.5 292.2 L284.5 292.5 L287.5 292.8 L290.5 293.1 L293.5 293.4 L296.5 293.7 L299.5 294.0 L302.5 294.3 L305.5 294.6 L308.5 294.9 L311.5 295.2 L314.5 295.6 L317.5 295.9 L320.5 296.2 L323.5 296.6 L326.5 297.0 L329.5 297.4 L332.5 297.8 L335.5 298.2 L338.5 298.6 L341.5 299.0 L344.5 299.5 L347.5 300.0 L350.5 300.5 L353.5 301.0 L356.5 301.5 L359.5 302.1 L362.5 302.6 L365.5 303.2 L368.5 303.8 L371.5 304.5 L374.5 305.1 L377.5 305.8 L380.5 306.4 L383.5 307.2 L386.5 308.0 L389.5 308.8 L392.5 309.7 L395.5 310.7 L398.5 311.8 L401.5 312.8 L404.5 313.9 L407.5 315.0 L410.5 316.2 L413.5 317.4 L416.5 318.7 L419.5 320.0 L422.5 321.3 L425.5 322.7 L428.5 324.1 L431.5 325.6 L434.5 327.1 L437.5 328.9 L440.5 330.9 L443.5 332.9 L446.5 335.0 L449.5 337.2 L452.5 339.3 L455.5 341.4 L458.5 343.4 L461.5 345.3 L464.5 347.2 L467.5 349.1 L470.5 351.0 L473.5 352.8 L476.5 354.7 L479.5 356.5 L482.5 358.3 L485.5 360.1 L488.5 362.0 L491.5 363.8 L494.5 365.6 L497.5 367.5 L500.5 369.3 L503.5 371.2 L506.5 373.0 L509.5 374.9 L512.5 376.8 L515.5 378.6 L518.5 380.5 L521.5 382.3 L524.5 384.2 L527.5 386.1 L530.5 388.0 L533.5 389.9 L536.5 391.8 L539.5 393.7 L542.5 395.7 L545.5 397.6 L548.5 399.6 L551.5 401.5 L554.5 403.4"/>
<path d="M56.5 123.3 L59.5 123.2 L62.5 123.1 L65.5 123.0 L68.5 122.9 L71.5 122.8 L74.5 122.6 L77.5 122.5 L80.5 122.4 L83.5 122.3 L86.5 122.2 L89.5 122.0 L92.5 121.9 L95.5 121.8 L98.5 121.6 L101.5 121.5 L104.5 121.4 L107.5 121.3 L110.5 121.1 L113.5 121.0 L116.5 120.9 L119.5 120.7 L122.5 120.6 L125.5 120.4 L128.5 120.3 L131.5 120.2 L134.5 120.0 L137.5 119.9 L140.5 119.8 L143.5 119.6 L146.5 119.5 L149.5 119.4 L152.5 119.2 L155.5 119.1 L158.5 119.0 L161.5 118.8 L164.5 118.7 L167.5 118.6 L170.5 118.4 L173.5 118.3 L176.5 118.2 L179.5 118.0 L182.5 117.9 L185.5 117.8 L188.5 117.7 L191.5 117.5 L194.5 117.3 L197.5 117.2 L200.5 117.0 L203.5 116.8 L206.5 116.6 L209.5 116.4 L212.5 116.3 L215.5 116.1 L218.5 115.9 L221.5 115.7 L224.5 115.5 L227.5 115.3 L230.5 115.1 L233.5 115.0 L236.5 114.8 L239.5 114.6 L242.5 114.4 L245.5 114.2 L248.5 114.0 L251.5 113.8 L254.5 113.6 L257.5 113.4 L260.5 113.2 L263.5 113.0 L266.5 112.7 L269.5 112.5 L272.5 112.3 L275.5 112.0 L278.5 111.8 L281.5 111.5 L284.5 111.3 L287.5 111.0 L290.5 110.7 L293.5 110.5 L296.5 110.2 L299.5 109.9 L302.5 109.7 L305.5 109.4 L308.5 109.1 L311.5 108.8 L314.5 108.5 L317.5 108.2 L320.5 107.9 L323.5 107.6 L326.5 107.2 L329.5 106.9 L332.5 106.5 L335.5 106.2 L338.5 105.8 L341.5 105.4 L344.5 105.0 L347.5 104.6 L350.5 104.1 L353.5 103.6 L356.5 103.1 L359.5 102.6 L362.5 102.1 L365.5 101.5 L368.5 100.9 L371.5 100.3 L374.5 99.7 L377.5 99.1 L380.5 98.5 L383.5 97.8 L386.5 97.1 L389.5 96.3 L392.5 95.4 L395.5 94.5 L398.5 93.6 L401.5 92.6 L404.5 91.5 L407.5 90.4 L410.5 89.3 L413.5 88.1 L416.5 86.9 L419.5 85.7 L422.5 84.4 L425.5 83.0 L428.5 81.7 L431.5 80.3 L434.5 78.8 L437.5 77.2 L440.5 75.5 L443.5 73.5 L446.5 71.5 L449.5 69.4 L452.5 67.2 L455.5 65.1 L458.5 63.0 L461.5 61.0 L464.5 59.1 L467.5 57.2 L470.5 55.3 L473.5 53.5 L476.5 51.7 L479.5 49.8 L482.5 48.0 L485.5 46.2 L488.5 44.4 L491.5 42.5 L494.5 40.7 L497.5 38.9 L500.5 37.0 L503.5 35.2 L506.5 33.3 L509.5 31.5 L512.5 29.6 L515.5 27.8 L518.5 25.9 L521.5 24.1 L524.5 22.2 L527.5 20.4 L530.5 18.5 L533.5 16.6 L536.5 14.7 L539.5 12.8 L542.5 10.9 L545.5 8.9 L548.5 7.0 L551.5 5.1 L554.5 3.1"/>
<path d="M56.5 267.7 L59.5 267.8 L62.5 267.9 L65.5 268.0 L68.5 268.1 L71.5 268.2 L74.5 268.4 L77.5 268.5 L80.5 268.6 L83.5 268.7 L86.5 268.8 L89.5 269.0 L92.5 269.1 L95.5 269.2 L98.5 269.4 L101.5 269.5 L104.5 269.6 L107.5 269.7 L110.5 269.9 L113.5 270.0 L116.5 270.1 L119.5 270.3 L122.5 270.4 L125.5 270.6 L128.5 270.7 L131.5 270.8 L134.5 271.0 L137.5 271.1 L140.5 271.2 L143.5 271.4 L146.5 271.5 L149.5 271.6 L152.5 271.8 L155.5 271.9 L158.5 272.0 L161.5 272.2 L164.5 272.3 L167.5 272.4 L170.5 272.6 L173.5 272.7 L176.5 272.8 L179.5 273.0 L182.5 273.1 L185.5 273.2 L188.5 273.3 L191.5 273.5 L194.5 273.7 L197.5 273.8 L200.5 274.0 L203.5 274.2 L206.5 274.4 L209.5 274.6 L212.5 274.7 L215.5 274.9 L218.5 275.1 L221.5 275.3 L224.5 275.5 L227.5 275.7 L230.5 275.9 L233.5 276.0 L236.5 276.2 L239.5 276.4 L242.5 276.6 L245.5 276.8 L248.5 277.0 L251.5 277.2 L254.5 277.4 L257.5 277.6 L260.5 277.8 L263.5 278.0 L266.5 278.3 L269.5 278.5 L272.5 278.7 L275.5 279.0 L278.5 279.2 L281.5 279.5 L284.5 279.7 L287.5 280.0 L290.5 280.3 L293.5 280.5 L296.5 280.8 L299.5 281.1 L302.5 281.3 L305.5 281.6 L308.5 281.9 L311.5 282.2 L314.5 282.5 L317.5 282.8 L320.5 283.1 L323.5 283.4 L326.5 283.8 L329.5 284.1 L332.5 284.5 L335.5 284.8 L338.5 285.2 L341.5 285.6 L344.5 286.0 L347.5 286.4 L350.5 286.9 L353.5 287.4 L356.5 287.9 L359.5 288.4 L362.5 288.9 L365.5 289.5 L368.5 290.1 L371.5 290.7 L374.5 291.3 L377.5 291.9 L380.5 292.5 L383.5 293.2 L386.5 293.9 L389.5 294.7 L392.5 295.6 L395.5 296.5 L398.5 297.4 L401.5 298.4 L404.5 299.5 L407.5 300.6 L410.5 301.7 L413.5 302.9 L416.5 304.1 L419.5 305.3 L422.5 306.6 L425.5 308.0 L428.5 309.3 L431.5 310.7 L434.5 312.2 L437.5 313.8 L440.5 315.5 L443.5 317.5 L446.5 319.5 L449.5 321.6 L452.5 323.8 L455.5 325.9 L458.5 328.0 L461.5 330.0 L464.5 331.9 L467.5 333.8 L470.5 335.7 L473.5 337.5 L476.5 339.3 L479.5 341.2 L482.5 343.0 L485.5 344.8 L488.5 346.6 L491.5 348.5 L494.5 350.3 L497.5 352.1 L500.5 354.0 L503.5 355.8 L506.5 357.7 L509.5 359.5 L512.5 361.4 L515.5 363.2 L518.5 365.1 L521.5 366.9 L524.5 368.8 L527.5 370.6 L530.5 372.5 L533.5 374.4 L536.5 376.3 L539.5 378.2 L542.5 380.1 L545.5 382.1 L548.5 384.0 L551.5 385.9 L554.5 387.9"/>
<path d="M56.5 134.2 L59.5 134.1 L62.5 134.0 L65.5 133.9 L68.5 133.8 L71.5 133.7 L74.5 133.6 L77.5 133.5 L80.5 133.4 L83.5 133.3 L86.5 133.2 L89.5 133.1 L92.5 133.0 L95.5 132.9 L98.5 132.8 L101.5 132.6 L104.5 132.5 L107.5 132.4 L110.5 132.3 L113.5 132.2 L116.5 132.1 L119.5 131.9 L122.5 131.8 L125.5 131.7 L128.5 131.6 L131.5 131.4 L134.5 131.3 L137.5 131.2 L140.5 131.1 L143.5 131.0 L146.5 130.8 L149.5 130.7 L152.5 130.6 L155.5 130.5 L158.5 130.4 L161.5 130.2 L164.5 130.1 L167.5 130.0 L170.5 129.9 L173.5 129.8 L176.5 129.6 L179.5 129.5 L182.5 129.4 L185.5 129.3 L188.5 129.2 L191.5 129.1 L194.5 128.9 L197.5 128.7 L200.5 128.6 L203.5 128.4 L206.5 128.3 L209.5 128.1 L212.5 127.9 L215.5 127.8 L218.5 127.6 L221.5 127.5 L224.5 127.3 L227.5 127.1 L230.5 127.0 L233.5 126.8 L236.5 126.6 L239.5 126.5 L242.5 126.3 L245.5 126.1 L248.5 126.0 L251.5 125.8 L254.5 125.6 L257.5 125.4 L260.5 125.3 L263.5 125.1 L266.5 124.8 L269.5 124.6 L272.5 124.4 L275.5 124.2 L278.5 124.0 L281.5 123.8 L284.5 123.5 L287.5 123.3 L290.5 123.1 L293.5 122.8 L296.5 122.6 L299.5 122.4 L302.5 122.1 L305.5 121.9 L308.5 121.6 L311.5 121.4 L314.5 121.1 L317.5 120.8 L320.5 120.6 L323.5 120.3 L326.5 120.0 L329.5 119.7 L332.5 119.4 L335.5 119.1 L338.5 118.8 L341.5 118.4 L344.5 118.0 L347.5 117.6 L350.5 117.2 L353.5 116.7 L356.5 116.3 L359.5 115.8 L362.5 115.3 L365.5 114.7 L368.5 114.2 L371.5 113.6 L374.5 113.0 L377.5 112.4 L380.5 111.8 L383.5 111.2 L386.5 110.6 L389.5 109.8 L392.5 109.1 L395.5 108.2 L398.5 107.3 L401.5 106.4 L404.5 105.4 L407.5 104.4 L410.5 103.3 L413.5 102.2 L416.5 101.0 L419.5 99.8 L422.5 98.5 L425.5 97.2 L428.5 95.9 L431.5 94.5 L434.5 93.1 L437.5 91.7 L440.5 90.1 L443.5 88.3 L446.5 86.4 L449.5 84.3 L452.5 82.2 L455.5 80.1 L458.5 77.9 L461.5 75.9 L464.5 73.9 L467.5 72.0 L470.5 70.1 L473.5 68.3 L476.5 66.4 L479.5 64.6 L482.5 62.8 L485.5 60.9 L488.5 59.1 L491.5 57.3 L494.5 55.5 L497.5 53.7 L500.5 51.9 L503.5 50.0 L506.5 48.2 L509.5 46.3 L512.5 44.5 L515.5 42.7 L518.5 40.8 L521.5 39.0 L524.5 37.1 L527.5 35.3 L530.5 33.4 L533.5 31.5 L536.5 29.6 L539.5 27.7 L542.5 25.8 L545.5 23.9 L548.5 22.0 L551.5 20.1 L554.5 18.2"/>
<path d="M56.5 256.8 L59.5 256.9 L62.5 257.0 L65.5 257.1 L68.5 257.2 L71.5 257.3 L74.5 257.4 L77.5 257.5 L80.5 257.6 L83.5 257.7 L86.5 257.8 L89.5 257.9 L92.5 258.0 L95.5 258.1 L98.5 258.2 L101.5 258.4 L104.5 258.5 L107.5 258.6 L110.5 258.7 L113.5 258.8 L116.5 258.9 L119.5 259.1 L122.5 259.2 L125.5 259.3 L128.5 259.4 L131.5 259.6 L134.5 259.7 L137.5 259.8 L140.5 259.9 L143.5 260.0 L146.5 260.2 L149.5 260.3 L152.5 260.4 L155.5 260.5 L158.5 260.6 L161.5 260.8 L164.5 260.9 L167.5 261.0 L170.5 261.1 L173.5 261.2 L176.5 261.4 L179.5 261.5 L182.5 261.6 L185.5 261.7 L188.5 261.8 L191.5 261.9 L194.5 262.1 L197.5 262.3 L200.5 262.4 L203.5 262.6 L206.5 262.7 L209.5 262.9 L212.5 263.1 L215.5 263.2 L218.5 263.4 L221.5 263.5 L224.5 263.7 L227.5 263.9 L230.5 264.0 L233.5 264.2 L236.5 264.4 L239.5 264.5 L242.5 264.7 L245.5 264.9 L248.5 265.0 L251.5 265.2 L254.5 265.4 L257.5 265.6 L260.5 265.7 L263.5 265.9 L266.5 266.2 L269.5 266.4 L272.5 266.6 L275.5 266.8 L278.5 267.0 L281.5 267.2 L284.5 267.5 L287.5 267.7 L290.5 267.9 L293.5 268.2 L296.5 268.4 L299.5 268.6 L302.5 268.9 L305.5 269.1 L308.5 269.4 L311.5 269.6 L314.5 269.9 L317.5 270.2 L320.5 270.4 L323.5 270.7 L326.5 271.0 L329.5 271.3 L332.5 271.6 L335.5 271.9 L338.5 272.2 L341.5 272.6 L344.5 273.0 L347.5 273.4 L350.5 273.8 L353.5 274.3 L356.5 274.7 L359.5 275.2 L362.5 275.7 L365.5 276.3 L368.5 276.8 L371.5 277.4 L374.5 278.0 L377.5 278.6 L380.5 279.2 L383.5 279.8 L386.5 280.4 L389.5 281.2 L392.5 281.9 L395.5 282.8 L398.5 283.7 L401.5 284.6 L404.5 285.6 L407.5 286.6 L410.5 287.7 L413.5 288.8 L416.5 290.0 L419.5 291.2 L422.5 292.5 L425.5 293.8 L428.5 295.1 L431.5 296.5 L434.5 297.9 L437.5 299.3 L440.5 300.9 L443.5 302.7 L446.5 304.6 L449.5 306.7 L452.5 308.8 L455.5 310.9 L458.5 313.1 L461.5 315.1 L464.5 317.1 L467.5 319.0 L470.5 320.9 L473.5 322.7 L476.5 324.6 L479.5 326.4 L482.5 328.2 L485.5 330.1 L488.5 331.9 L491.5 333.7 L494.5 335.5 L497.5 337.3 L500.5 339.1 L503.5 341.0 L506.5 342.8 L509.5 344.7 L512.5 346.5 L515.5 348.3 L518.5 350.2 L521.5 352.0 L524.5 353.9 L527.5 355.7 L530.5 357.6 L533.5 359.5 L536.5 361.4 L539.5 363.3 L542.5 365.2 L545.5 367.1 L548.5 369.0 L551.5 370.9 L554.5 372.8"/>
<path d="M56.5 145.4 L59.5 145.3 L62.5 145.3 L65.5 145.2 L68.5 145.1 L71.5 145.0 L74.5 144.9 L77.5 144.8 L80.5 144.8 L83.5 144.7 L86.5 144.6 L89.5 144.5 L92.5 144.4 L95.5 144.3 L98.5 144.2 L101.5 144.1 L104.5 144.0 L107.5 143.9 L110.5 143.8 L113.5 143.7 L116.5 143.6 L119.5 143.5 L122.5 143.4 L125.5 143.3 L128.5 143.1 L131.5 143.0 L134.5 142.9 L137.5 142.8 L140.5 142.7 L143.5 142.6 L146.5 142.5 L149.5 142.4 L152.5 142.3 L155.5 142.2 L158.5 142.1 L161.5 142.0 L164.5 141.9 L167.5 141.7 L170.5 141.6 L173.5 141.5 L176.5 141.4 L179.5 141.3 L182.5 141.2 L185.5 141.1 L188.5 141.0 L191.5 140.9 L194.5 140.8 L197.5 140.6 L200.5 140.5 L203.5 140.4 L206.5 140.2 L209.5 140.1 L212.5 140.0 L215.5 139.8 L218.5 139.7 L221.5 139.5 L224.5 139.4 L227.5 139.3 L230.5 139.1 L233.5 139.0 L236.5 138.8 L239.5 138.7 L242.5 138.5 L245.5 138.4 L248.5 138.2 L251.5 138.1 L254.5 137.9 L257.5 137.8 L260.5 137.6 L263.5 137.5 L266.5 137.3 L269.5 137.1 L272.5 136.9 L275.5 136.7 L278.5 136.5 L281.5 136.3 L284.5 136.2 L287.5 136.0 L290.5 135.8 L293.5 135.6 L296.5 135.4 L299.5 135.2 L302.5 134.9 L305.5 134.7 L308.5 134.5 L311.5 134.3 L314.5 134.1 L317.5 133.8 L320.5 133.6 L323.5 133.3 L326.5 133.1 L329.5 132.8 L332.5 132.6 L335.5 132.3 L338.5 132.0 L341.5 131.7 L344.5 131.4 L347.5 131.0 L350.5 130.6 L353.5 130.2 L356.5 129.8 L359.5 129.3 L362.5 128.8 L365.5 128.3 L368.5 127.8 L371.5 127.3 L374.5 126.7 L377.5 126.1 L380.5 125.6 L383.5 125.0 L386.5 124.4 L389.5 123.7 L392.5 123.0 L395.5 122.2 L398.5 121.4 L401.5 120.5 L404.5 119.6 L407.5 118.6 L410.5 117.6 L413.5 116.5 L416.5 115.4 L419.5 114.3 L422.5 113.0 L425.5 111.8 L428.5 110.5 L431.5 109.2 L434.5 107.8 L437.5 106.4 L440.5 105.0 L443.5 103.4 L446.5 101.6 L449.5 99.6 L452.5 97.6 L455.5 95.5 L458.5 93.3 L461.5 91.2 L464.5 89.2 L467.5 87.2 L470.5 85.3 L473.5 83.5 L476.5 81.6 L479.5 79.8 L482.5 77.9 L485.5 76.1 L488.5 74.3 L491.5 72.5 L494.5 70.7 L497.5 68.9 L500.5 67.1 L503.5 65.3 L506.5 63.4 L509.5 61.6 L512.5 59.8 L515.5 57.9 L518.5 56.1 L521.5 54.3 L524.5 52.4 L527.5 50.6 L530.5 48.7 L533.5 46.9 L536.5 45.0 L539.5 43.1 L542.5 41.2 L545.5 39.3 L548.5 37.4 L551.5 35.5 L554.5 33.6"/>
<path d="M56.5 245.6 L59.5 245.7 L62.5 245.7 L65.5 245.8 L68.5 245.9 L71.5 246.0 L74.5 246.1 L77.5 246.2 L80.5 246.2 L83.5 246.3 L86.5 246.4 L89.5 246.5 L92.5 246.6 L95.5 246.7 L98.5 246.8 L101.5 246.9 L104.5 247.0 L107.5 247.1 L110.5 247.2 L113.5 247.3 L116.5 247.4 L119.5 247.5 L122.5 247.6 L125.5 247.7 L128.5 247.9 L131.5 248.0 L134.5 248.1 L137.5 248.2 L140.5 248.3 L143.5 248.4 L146.5 248.5 L149.5 248.6 L152.5 248.7 L155.5 248.8 L158.5 248.9 L161.5 249.0 L164.5 249.1 L167.5 249.3 L170.5 249.4 L173.5 249.5 L176.5 249.6 L179.5 249.7 L182.5 249.8 L185.5 249.9 L188.5 250.0 L191.5 250.1 L194.5 250.2 L197.5 250.4 L200.5 250.5 L203.5 250.6 L206.5 250.8 L209.5 250.9 L212.5 251.0 L215.5 251.2 L218.5 251.3 L221.5 251.5 L224.5 251.6 L227.5 251.7 L230.5 251.9 L233.5 252.0 L236.5 252.2 L239.5 252.3 L242.5 252.5 L245.5 252.6 L248.5 252.8 L251.5 252.9 L254.5 253.1 L257.5 253.2 L260.5 253.4 L263.5 253.5 L266.5 253.7 L269.5 253.9 L272.5 254.1 L275.5 254.3 L278.5 254.5 L281.5 254.7 L284.5 254.8 L287.5 255.0 L290.5 255.2 L293.5 255.4 L296.5 255.6 L299.5 255.8 L302.5 256.1 L305.5 256.3 L308.5 256.5 L311.5 256.7 L314.5 256.9 L317.5 257.2 L320.5 257.4 L323.5 257.7 L326.5 257.9 L329.5 258.2 L332.5 258.4 L335.5 258.7 L338.5 259.0 L341.5 259.3 L344.5 259.6 L347.5 260.0 L350.5 260.4 L353.5 260.8 L356.5 261.2 L359.5 261.7 L362.5 262.2 L365.5 262.7 L368.5 263.2 L371.5 263.7 L374.5 264.3 L377.5 264.9 L380.5 265.4 L383.5 266.0 L386.5 266.6 L389.5 267.3 L392.5 268.0 L395.5 268.8 L398.5 269.6 L401.5 270.5 L404.5 271.4 L407.5 272.4 L410.5 273.4 L413.5 274.5 L416.5 275.6 L419.5 276.7 L422.5 278.0 L425.5 279.2 L428.5 280.5 L431.5 281.8 L434.5 283.2 L437.5 284.6 L440.5 286.0 L443.5 287.6 L446.5 289.4 L449.5 291.4 L452.5 293.4 L455.5 295.5 L458.5 297.7 L461.5 299.8 L464.5 301.8 L467.5 303.8 L470.5 305.7 L473.5 307.5 L476.5 309.4 L479.5 311.2 L482.5 313.1 L485.5 314.9 L488.5 316.7 L491.5 318.5 L494.5 320.3 L497.5 322.1 L500.5 323.9 L503.5 325.7 L506.5 327.6 L509.5 329.4 L512.5 331.2 L515.5 333.1 L518.5 334.9 L521.5 336.7 L524.5 338.6 L527.5 340.4 L530.5 342.3 L533.5 344.1 L536.5 346.0 L539.5 347.9 L542.5 349.8 L545.5 351.7 L548.5 353.6 L551.5 355.5 L554.5 357.4"/>
<path d="M56.5 156.7 L59.5 156.7 L62.5 156.6 L65.5 156.5 L68.5 156.5 L71.5 156.4 L74.5 156.3 L77.5 156.3 L80.5 156.2 L83.5 156.1 L86.5 156.0 L89.5 156.0 L92.5 155.9 L95.5 155.8 L98.5 155.7 L101.5 155.6 L104.5 155.5 L107.5 155.5 L110.5 155.4 L113.5 155.3 L116.5 155.2 L119.5 155.1 L122.5 155.0 L125.5 154.9 L128.5 154.8 L131.5 154.7 L134.5 154.6 L137.5 154.5 L140.5 154.4 L143.5 154.3 L146.5 154.3 L149.5 154.2 L152.5 154.1 L155.5 154.0 L158.5 153.9 L161.5 153.8 L164.5 153.7 L167.5 153.6 L170.5 153.5 L173.5 153.4 L176.5 153.3 L179.5 153.2 L182.5 153.2 L185.5 153.1 L188.5 153.0 L191.5 152.9 L194.5 152.8 L197.5 152.7 L200.5 152.5 L203.5 152.4 L206.5 152.3 L209.5 152.2 L212.5 152.1 L215.5 152.0 L218.5 151.9 L221.5 151.7 L224.5 151.6 L227.5 151.5 L230.5 151.4 L233.5 151.3 L236.5 151.1 L239.5 151.0 L242.5 150.9 L245.5 150.8 L248.5 150.6 L251.5 150.5 L254.5 150.4 L257.5 150.3 L260.5 150.1 L263.5 150.0 L266.5 149.8 L269.5 149.7 L272.5 149.5 L275.5 149.4 L278.5 149.2 L281.5 149.0 L284.5 148.9 L287.5 148.7 L290.5 148.6 L293.5 148.4 L296.5 148.2 L299.5 148.0 L302.5 147.9 L305.5 147.7 L308.5 147.5 L311.5 147.3 L314.5 147.1 L317.5 146.9 L320.5 146.7 L323.5 146.5 L326.5 146.3 L329.5 146.0 L332.5 145.8 L335.5 145.6 L338.5 145.4 L341.5 145.1 L344.5 144.8 L347.5 144.5 L350.5 144.1 L353.5 143.8 L356.5 143.3 L359.5 142.9 L362.5 142.5 L365.5 142.0 L368.5 141.5 L371.5 141.0 L374.5 140.5 L377.5 140.0 L380.5 139.4 L383.5 138.8 L386.5 138.2 L389.5 137.7 L392.5 137.0 L395.5 136.3 L398.5 135.6 L401.5 134.8 L404.5 133.9 L407.5 133.0 L410.5 132.0 L413.5 131.0 L416.5 129.9 L419.5 128.8 L422.5 127.7 L425.5 126.4 L428.5 125.2 L431.5 123.9 L434.5 122.6 L437.5 121.2 L440.5 119.9 L443.5 118.4 L446.5 116.8 L449.5 115.0 L452.5 113.1 L455.5 111.0 L458.5 108.9 L461.5 106.8 L464.5 104.7 L467.5 102.6 L470.5 100.7 L473.5 98.8 L476.5 96.9 L479.5 95.1 L482.5 93.3 L485.5 91.4 L488.5 89.6 L491.5 87.8 L494.5 86.0 L497.5 84.2 L500.5 82.4 L503.5 80.6 L506.5 78.8 L509.5 77.0 L512.5 75.1 L515.5 73.3 L518.5 71.5 L521.5 69.7 L524.5 67.8 L527.5 66.0 L530.5 64.2 L533.5 62.3 L536.5 60.5 L539.5 58.6 L542.5 56.7 L545.5 54.9 L548.5 53.0 L551.5 51.1 L554.5 49.2"/>
<path d="M56.5 234.3 L59.5 234.3 L62.5 234.4 L65.5 234.5 L68.5 234.5 L71.5 234.6 L74.5 234.7 L77.5 234.7 L80.5 234.8 L83.5 234.9 L86.5 235.0 L89.5 235.0 L92.5 235.1 L95.5 235.2 L98.5 235.3 L101.5 235.4 L104.5 235.5 L107.5 235.5 L110.5 235.6 L113.5 235.7 L116.5 235.8 L119.5 235.9 L122.5 236.0 L125.5 236.1 L128.5 236.2 L131.5 236.3 L134.5 236.4 L137.5 236.5 L140.5 236.6 L143.5 236.7 L146.5 236.7 L149.5 236.8 L152.5 236.9 L155.5 237.0 L158.5 237.1 L161.5 237.2 L164.5 237.3 L167.5 237.4 L170.5 237.5 L173.5 237.6 L176.5 237.7 L179.5 237.8 L182.5 237.8 L185.5 237.9 L188.5 238.0 L191.5 238.1 L194.5 238.2 L197.5 238.3 L200.5 238.5 L203.5 238.6 L206.5 238.7 L209.5 238.8 L212.5 238.9 L215.5 239.0 L218.5 239.1 L221.5 239.3 L224.5 239.4 L227.5 239.5 L230.5 239.6 L233.5 239.7 L236.5 239.9 L239.5 240.0 L242.5 240.1 L245.5 240.2 L248.5 240.4 L251.5 240.5 L254.5 240.6 L257.5 240.7 L260.5 240.9 L263.5 241.0 L266.5 241.2 L269.5 241.3 L272.5 241.5 L275.5 241.6 L278.5 241.8 L281.5 242.0 L284.5 242.1 L287.5 242.3 L290.5 242.4 L293.5 242.6 L296.5 242.8 L299.5 243.0 L302.5 243.1 L305.5 243.3 L308.5 243.5 L311.5 243.7 L314.5 243.9 L317.5 244.1 L320.5 244.3 L323.5 244.5 L326.5 244.7 L329.5 245.0 L332.5 245.2 L335.5 245.4 L338.5 245.6 L341.5 245.9 L344.5 246.2 L347.5 246.5 L350.5 246.9 L353.5 247.2 L356.5 247.7 L359.5 248.1 L362.5 248.5 L365.5 249.0 L368.5 249.5 L371.5 250.0 L374.5 250.5 L377.5 251.0 L380.5 251.6 L383.5 252.2 L386.5 252.8 L389.5 253.3 L392.5 254.0 L395.5 254.7 L398.5 255.4 L401.5 256.2 L404.5 257.1 L407.5 258.0 L410.5 259.0 L413.5 260.0 L416.5 261.1 L419.5 262.2 L422.5 263.3 L425.5 264.6 L428.5 265.8 L431.5 267.1 L434.5 268.4 L437.5 269.8 L440.5 271.1 L443.5 272.6 L446.5 274.2 L449.5 276.0 L452.5 277.9 L455.5 280.0 L458.5 282.1 L461.5 284.2 L464.5 286.3 L467.5 288.4 L470.5 290.3 L473.5 292.2 L476.5 294.1 L479.5 295.9 L482.5 297.7 L485.5 299.6 L488.5 301.4 L491.5 303.2 L494.5 305.0 L497.5 306.8 L500.5 308.6 L503.5 310.4 L506.5 312.2 L509.5 314.0 L512.5 315.9 L515.5 317.7 L518.5 319.5 L521.5 321.3 L524.5 323.2 L527.5 325.0 L530.5 326.8 L533.5 328.7 L536.5 330.5 L539.5 332.4 L542.5 334.3 L545.5 336.1 L548.5 338.0 L551.5 339.9 L554.5 341.8"/>
<path d="M56.5 167.5 L59.5 167.5 L62.5 167.4 L65.5 167.4 L68.5 167.3 L71.5 167.3 L74.5 167.2 L77.5 167.2 L80.5 167.1 L83.5 167.1 L86.5 167.0 L89.5 166.9 L92.5 166.9 L95.5 166.8 L98.5 166.7 L101.5 166.7 L104.5 166.6 L107.5 166.5 L110.5 166.4 L113.5 166.4 L116.5 166.3 L119.5 166.2 L122.5 166.1 L125.5 166.1 L128.5 166.0 L131.5 165.9 L134.5 165.8 L137.5 165.7 L140.5 165.7 L143.5 165.6 L146.5 165.5 L149.5 165.4 L152.5 165.3 L155.5 165.3 L158.5 165.2 L161.5 165.1 L164.5 165.0 L167.5 164.9 L170.5 164.9 L173.5 164.8 L176.5 164.7 L179.5 164.6 L182.5 164.6 L185.5 164.5 L188.5 164.4 L191.5 164.3 L194.5 164.2 L197.5 164.1 L200.5 164.0 L203.5 164.0 L206.5 163.9 L209.5 163.8 L212.5 163.7 L215.5 163.6 L218.5 163.5 L221.5 163.4 L224.5 163.3 L227.5 163.2 L230.5 163.1 L233.5 163.0 L236.5 162.9 L239.5 162.8 L242.5 162.7 L245.5 162.6 L248.5 162.5 L251.5 162.4 L254.5 162.3 L257.5 162.2 L260.5 162.1 L263.5 161.9 L266.5 161.8 L269.5 161.7 L272.5 161.6 L275.5 161.4 L278.5 161.3 L281.5 161.2 L284.5 161.0 L287.5 160.9 L290.5 160.8 L293.5 160.6 L296.5 160.5 L299.5 160.4 L302.5 160.2 L305.5 160.1 L308.5 159.9 L311.5 159.7 L314.5 159.6 L317.5 159.4 L320.5 159.2 L323.5 159.1 L326.5 158.9 L329.5 158.7 L332.5 158.5 L335.5 158.3 L338.5 158.1 L341.5 157.9 L344.5 157.6 L347.5 157.3 L350.5 157.0 L353.5 156.7 L356.5 156.3 L359.5 155.9 L362.5 155.5 L365.5 155.1 L368.5 154.6 L371.5 154.2 L374.5 153.7 L377.5 153.1 L380.5 152.6 L383.5 152.1 L386.5 151.5 L389.5 150.9 L392.5 150.4 L395.5 149.7 L398.5 149.1 L401.5 148.3 L404.5 147.5 L407.5 146.7 L410.5 145.8 L413.5 144.8 L416.5 143.8 L419.5 142.7 L422.5 141.6 L425.5 140.4 L428.5 139.2 L431.5 138.0 L434.5 136.7 L437.5 135.4 L440.5 134.0 L443.5 132.6 L446.5 131.2 L449.5 129.6 L452.5 127.8 L455.5 125.8 L458.5 123.8 L461.5 121.6 L464.5 119.5 L467.5 117.4 L470.5 115.4 L473.5 113.5 L476.5 111.6 L479.5 109.7 L482.5 107.9 L485.5 106.1 L488.5 104.3 L491.5 102.5 L494.5 100.7 L497.5 98.9 L500.5 97.1 L503.5 95.3 L506.5 93.5 L509.5 91.7 L512.5 89.9 L515.5 88.0 L518.5 86.2 L521.5 84.4 L524.5 82.6 L527.5 80.8 L530.5 78.9 L533.5 77.1 L536.5 75.3 L539.5 73.4 L542.5 71.6 L545.5 69.7 L548.5 67.8 L551.5 65.9 L554.5 64.0"/>
<path d="M56.5 223.5 L59.5 223.5 L62.5 223.6 L65.5 223.6 L68.5 223.7 L71.5 223.7 L74.5 223.8 L77.5 223.8 L80.5 223.9 L83.5 223.9 L86.5 224.0 L89.5 224.1 L92.5 224.1 L95.5 224.2 L98.5 224.3 L101.5 224.3 L104.5 224.4 L107.5 224.5 L110.5 224.6 L113.5 224.6 L116.5 224.7 L119.5 224.8 L122.5 224.9 L125.5 224.9 L128.5 225.0 L131.5 225.1 L134.5 225.2 L137.5 225.3 L140.5 225.3 L143.5 225.4 L146.5 225.5 L149.5 225.6 L152.5 225.7 L155.5 225.7 L158.5 225.8 L161.5 225.9 L164.5 226.0 L167.5 226.1 L170.5 226.1 L173.5 226.2 L176.5 226.3 L179.5 226.4 L182.5 226.4 L185.5 226.5 L188.5 226.6 L191.5 226.7 L194.5 226.8 L197.5 226.9 L200.5 227.0 L203.5 227.0 L206.5 227.1 L209.5 227.2 L212.5 227.3 L215.5 227.4 L218.5 227.5 L221.5 227.6 L224.5 227.7 L227.5 227.8 L230.5 227.9 L233.5 228.0 L236.5 228.1 L239.5 228.2 L242.5 228.3 L245.5 228.4 L248.5 228.5 L251.5 228.6 L254.5 228.7 L257.5 228.8 L260.5 228.9 L263.5 229.1 L266.5 229.2 L269.5 229.3 L272.5 229.4 L275.5 229.6 L278.5 229.7 L281.5 229.8 L284.5 230.0 L287.5 230.1 L290.5 230.2 L293.5 230.4 L296.5 230.5 L299.5 230.6 L302.5 230.8 L305.5 230.9 L308.5 231.1 L311.5 231.3 L314.5 231.4 L317.5 231.6 L320.5 231.8 L323.5 231.9 L326.5 232.1 L329.5 232.3 L332.5 232.5 L335.5 232.7 L338.5 232.9 L341.5 233.1 L344.5 233.4 L347.5 233.7 L350.5 234.0 L353.5 234.3 L356.5 234.7 L359.5 235.1 L362.5 235.5 L365.5 235.9 L368.5 236.4 L371.5 236.8 L374.5 237.3 L377.5 237.9 L380.5 238.4 L383.5 238.9 L386.5 239.5 L389.5 240.1 L392.5 240.6 L395.5 241.3 L398.5 241.9 L401.5 242.7 L404.5 243.5 L407.5 244.3 L410.5 245.2 L413.5 246.2 L416.5 247.2 L419.5 248.3 L422.5 249.4 L425.5 250.6 L428.5 251.8 L431.5 253.0 L434.5 254.3 L437.5 255.6 L440.5 257.0 L443.5 258.4 L446.5 259.8 L449.5 261.4 L452.5 263.2 L455.5 265.2 L458.5 267.2 L461.5 269.4 L464.5 271.5 L467.5 273.6 L470.5 275.6 L473.5 277.5 L476.5 279.4 L479.5 281.3 L482.5 283.1 L485.5 284.9 L488.5 286.7 L491.5 288.5 L494.5 290.3 L497.5 292.1 L500.5 293.9 L503.5 295.7 L506.5 297.5 L509.5 299.3 L512.5 301.1 L515.5 303.0 L518.5 304.8 L521.5 306.6 L524.5 308.4 L527.5 310.2 L530.5 312.1 L533.5 313.9 L536.5 315.7 L539.5 317.6 L542.5 319.4 L545.5 321.3 L548.5 323.2 L551.5 325.1 L554.5 327.0"/>
<path d="M56.5 178.8 L59.5 178.8 L62.5 178.8 L65.5 178.7 L68.5 178.7 L71.5 178.7 L74.5 178.6 L77.5 178.6 L80.5 178.5 L83.5 178.5 L86.5 178.4 L89.5 178.4 L92.5 178.4 L95.5 178.3 L98.5 178.2 L101.5 178.2 L104.5 178.1 L107.5 178.1 L110.5 178.0 L113.5 178.0 L116.5 177.9 L119.5 177.8 L122.5 177.8 L125.5 177.7 L128.5 177.6 L131.5 177.6 L134.5 177.5 L137.5 177.5 L140.5 177.4 L143.5 177.3 L146.5 177.3 L149.5 177.2 L152.5 177.1 L155.5 177.1 L158.5 177.0 L161.5 176.9 L164.5 176.9 L167.5 176.8 L170.5 176.7 L173.5 176.7 L176.5 176.6 L179.5 176.5 L182.5 176.5 L185.5 176.4 L188.5 176.4 L191.5 176.3 L194.5 176.2 L197.5 176.2 L200.5 176.1 L203.5 176.0 L206.5 175.9 L209.5 175.9 L212.5 175.8 L215.5 175.7 L218.5 175.7 L221.5 175.6 L224.5 175.5 L227.5 175.4 L230.5 175.4 L233.5 175.3 L236.5 175.2 L239.5 175.1 L242.5 175.0 L245.5 175.0 L248.5 174.9 L251.5 174.8 L254.5 174.7 L257.5 174.6 L260.5 174.5 L263.5 174.4 L266.5 174.3 L269.5 174.3 L272.5 174.2 L275.5 174.1 L278.5 174.0 L281.5 173.9 L284.5 173.8 L287.5 173.7 L290.5 173.6 L293.5 173.5 L296.5 173.3 L299.5 173.2 L302.5 173.1 L305.5 173.0 L308.5 172.9 L311.5 172.7 L314.5 172.6 L317.5 172.5 L320.5 172.3 L323.5 172.2 L326.5 172.0 L329.5 171.9 L332.5 171.7 L335.5 171.6 L338.5 171.4 L341.5 171.2 L344.5 171.0 L347.5 170.8 L350.5 170.5 L353.5 170.2 L356.5 169.9 L359.5 169.5 L362.5 169.1 L365.5 168.7 L368.5 168.3 L371.5 167.9 L374.5 167.4 L377.5 166.9 L380.5 166.4 L383.5 165.9 L386.5 165.4 L389.5 164.8 L392.5 164.3 L395.5 163.7 L398.5 163.1 L401.5 162.4 L404.5 161.7 L407.5 160.9 L410.5 160.1 L413.5 159.2 L416.5 158.2 L419.5 157.2 L422.5 156.1 L425.5 155.0 L428.5 153.8 L431.5 152.6 L434.5 151.4 L437.5 150.1 L440.5 148.8 L443.5 147.5 L446.5 146.1 L449.5 144.7 L452.5 143.0 L455.5 141.2 L458.5 139.3 L461.5 137.2 L464.5 135.1 L467.5 133.0 L470.5 130.9 L473.5 128.9 L476.5 127.0 L479.5 125.1 L482.5 123.3 L485.5 121.4 L488.5 119.6 L491.5 117.8 L494.5 116.0 L497.5 114.2 L500.5 112.4 L503.5 110.6 L506.5 108.9 L509.5 107.1 L512.5 105.3 L515.5 103.4 L518.5 101.6 L521.5 99.8 L524.5 98.0 L527.5 96.2 L530.5 94.4 L533.5 92.6 L536.5 90.7 L539.5 88.9 L542.5 87.1 L545.5 85.2 L548.5 83.3 L551.5 81.5 L554.5 79.6"/>
<path d="M56.5 212.2 L59.5 212.2 L62.5 212.2 L65.5 212.3 L68.5 212.3 L71.5 212.3 L74.5 212.4 L77.5 212.4 L80.5 212.5 L83.5 212.5 L86.5 212.6 L89.5 212.6 L92.5 212.6 L95.5 212.7 L98.5 212.8 L101.5 212.8 L104.5 212.9 L107.5 212.9 L110.5 213.0 L113.5 213.0 L116.5 213.1 L119.5 213.2 L122.5 213.2 L125.5 213.3 L128.5 213.4 L131.5 213.4 L134.5 213.5 L137.5 213.5 L140.5 213.6 L143.5 213.7 L146.5 213.7 L149.5 213.8 L152.5 213.9 L155.5 213.9 L158.5 214.0 L161.5 214.1 L164.5 214.1 L167.5 214.2 L170.5 214.3 L173.5 214.3 L176.5 214.4 L179.5 214.5 L182.5 214.5 L185.5 214.6 L188.5 214.6 L191.5 214.7 L194.5 214.8 L197.5 214.8 L200.5 214.9 L203.5 215.0 L206.5 215.1 L209.5 215.1 L212.5 215.2 L215.5 215.3 L218.5 215.3 L221.5 215.4 L224.5 215.5 L227.5 215.6 L230.5 215.6 L233.5 215.7 L236.5 215.8 L239.5 215.9 L242.5 216.0 L245.5 216.0 L248.5 216.1 L251.5 216.2 L254.5 216.3 L257.5 216.4 L260.5 216.5 L263.5 216.6 L266.5 216.7 L269.5 216.7 L272.5 216.8 L275.5 216.9 L278.5 217.0 L281.5 217.1 L284.5 217.2 L287.5 217.3 L290.5 217.4 L293.5 217.5 L296.5 217.7 L299.5 217.8 L302.5 217.9 L305.5 218.0 L308.5 218.1 L311.5 218.3 L314.5 218.4 L317.5 218.5 L320.5 218.7 L323.5 218.8 L326.5 219.0 L329.5 219.1 L332.5 219.3 L335.5 219.4 L338.5 219.6 L341.5 219.8 L344.5 220.0 L347.5 220.2 L350.5 220.5 L353.5 220.8 L356.5 221.1 L359.5 221.5 L362.5 221.9 L365.5 222.3 L368.5 222.7 L371.5 223.1 L374.5 223.6 L377.5 224.1 L380.5 224.6 L383.5 225.1 L386.5 225.6 L389.5 226.2 L392.5 226.7 L395.5 227.3 L398.5 227.9 L401.5 228.6 L404.5 229.3 L407.5 230.1 L410.5 230.9 L413.5 231.8 L416.5 232.8 L419.5 233.8 L422.5 234.9 L425.5 236.0 L428.5 237.2 L431.5 238.4 L434.5 239.6 L437.5 240.9 L440.5 242.2 L443.5 243.5 L446.5 244.9 L449.5 246.3 L452.5 248.0 L455.5 249.8 L458.5 251.7 L461.5 253.8 L464.5 255.9 L467.5 258.0 L470.5 260.1 L473.5 262.1 L476.5 264.0 L479.5 265.9 L482.5 267.7 L485.5 269.6 L488.5 271.4 L491.5 273.2 L494.5 275.0 L497.5 276.8 L500.5 278.6 L503.5 280.4 L506.5 282.1 L509.5 283.9 L512.5 285.7 L515.5 287.6 L518.5 289.4 L521.5 291.2 L524.5 293.0 L527.5 294.8 L530.5 296.6 L533.5 298.4 L536.5 300.3 L539.5 302.1 L542.5 303.9 L545.5 305.8 L548.5 307.7 L551.5 309.5 L554.5 311.4"/>
<path d="M56.0 187.0 C63.3 187.1 84.3 187.4 100.0 187.5 C115.7 187.6 135.0 187.7 150.0 187.5 C165.0 187.3 179.2 187.2 190.0 186.5 C200.8 185.8 203.3 183.9 215.0 183.0 C226.7 182.1 245.8 181.5 260.0 181.0 C274.2 180.5 284.7 180.7 300.0 180.0 C315.3 179.3 335.3 178.7 352.0 177.0 C368.7 175.3 387.0 172.2 400.0 170.0 C413.0 167.8 421.3 167.3 430.0 164.0 C438.7 160.7 448.3 152.3 452.0 150.0" stroke-opacity="0.6"/>
<path d="M56.0 204.0 C63.3 203.9 84.3 203.6 100.0 203.5 C115.7 203.4 135.0 203.3 150.0 203.5 C165.0 203.7 179.2 203.8 190.0 204.5 C200.8 205.2 203.3 207.1 215.0 208.0 C226.7 208.9 245.8 209.5 260.0 210.0 C274.2 210.5 284.7 210.3 300.0 211.0 C315.3 211.7 335.3 212.3 352.0 214.0 C368.7 215.7 387.0 218.8 400.0 221.0 C413.0 223.2 421.3 223.7 430.0 227.0 C438.7 230.3 448.3 238.7 452.0 241.0" stroke-opacity="0.6"/>
<g stroke="#fff8f0" stroke-opacity="0.8" stroke-width="1.3">
<path d="M477.0 126.0 C476.3 130.3 472.2 140.4 473.0 152.0 C473.8 163.6 482.0 181.0 482.0 195.5 C482.0 210.0 473.8 227.4 473.0 239.0 C472.2 250.6 476.3 260.7 477.0 265.0"/>
<path d="M502.0 126.0 C501.4 130.3 498.1 140.4 498.6 152.0 C499.1 163.6 505.0 181.0 505.0 195.5 C505.0 210.0 499.1 227.4 498.6 239.0 C498.1 250.6 501.4 260.7 502.0 265.0"/>
<path d="M519.7 126.0 C519.4 130.3 517.6 140.4 517.8 152.0 C517.9 163.6 520.6 181.0 520.6 195.5 C520.6 210.0 517.9 227.4 517.8 239.0 C517.6 250.6 519.4 260.7 519.7 265.0"/>
<path d="M532.5 126.0 C532.2 130.3 530.9 140.4 530.7 152.0 C530.6 163.6 531.6 181.0 531.6 195.5 C531.6 210.0 530.6 227.4 530.7 239.0 C530.9 250.6 532.2 260.7 532.5 265.0"/>
<path d="M545.0 140.0 C544.2 144.2 540.9 155.8 540.0 165.0 C539.1 174.2 539.5 185.3 539.5 195.5 C539.5 205.7 539.1 216.8 540.0 226.0 C540.9 235.2 544.2 246.8 545.0 251.0"/>
</g>
</g>
<path d="M119.5 77.5 L119.5 80.7 M119.5 83.5 L118.3 80.7 L120.7 80.7 Z M119.5 313.5 L119.5 310.3 M119.5 307.5 L120.7 310.3 L118.3 310.3 Z M119.5 90.5 L119.5 93.7 M119.5 96.5 L118.3 93.7 L120.7 93.7 Z M119.5 300.5 L119.5 297.3 M119.5 294.5 L120.7 297.3 L118.3 297.3 Z M119.5 103.5 L119.5 106.7 M119.5 109.5 L118.3 106.7 L120.7 106.7 Z M119.5 287.5 L119.5 284.3 M119.5 281.5 L120.7 284.3 L118.3 284.3 Z M119.5 116.5 L120.6 120.6 M121.3 123.3 L119.4 120.9 L121.7 120.2 Z M119.5 274.5 L120.6 270.4 M121.3 267.7 L121.7 270.8 L119.4 270.1 Z M119.5 129.5 L120.6 133.6 M121.3 136.3 L119.4 133.9 L121.7 133.2 Z M119.5 261.5 L120.6 257.4 M121.3 254.7 L121.7 257.8 L119.4 257.1 Z M119.5 142.5 L120.2 146.6 M120.7 149.4 L119.0 146.8 L121.4 146.4 Z M119.5 248.5 L120.2 244.4 M120.7 241.6 L121.4 244.6 L119.0 244.2 Z M119.5 155.5 L115.5 160.2 M113.7 162.4 L114.6 159.5 L116.4 161.0 Z M119.5 235.5 L115.5 230.8 M113.7 228.6 L116.4 230.0 L114.6 231.5 Z M119.5 169.5 L113.2 174.8 M111.1 176.6 L112.4 173.9 L114.0 175.7 Z M119.5 221.5 L113.2 216.2 M111.1 214.4 L114.0 215.3 L112.4 217.1 Z M180.5 77.5 L180.5 80.7 M180.5 83.5 L179.3 80.7 L181.7 80.7 Z M180.5 313.5 L180.5 310.3 M180.5 307.5 L181.7 310.3 L179.3 310.3 Z M180.5 90.5 L180.5 93.7 M180.5 96.5 L179.3 93.7 L181.7 93.7 Z M180.5 300.5 L180.5 297.3 M180.5 294.5 L181.7 297.3 L179.3 297.3 Z M180.5 103.5 L180.5 106.7 M180.5 109.5 L179.3 106.7 L181.7 106.7 Z M180.5 287.5 L180.5 284.3 M180.5 281.5 L181.7 284.3 L179.3 284.3 Z M180.5 116.5 L180.9 120.7 M181.1 123.5 L179.7 120.8 L182.1 120.6 Z M180.5 274.5 L180.9 270.3 M181.1 267.5 L182.1 270.4 L179.7 270.2 Z M180.5 129.5 L182.7 134.2 M183.9 136.8 L181.6 134.7 L183.8 133.7 Z M180.5 261.5 L182.7 256.8 M183.9 254.2 L183.8 257.3 L181.6 256.3 Z M180.5 142.5 L183.6 147.9 M185.0 150.3 L182.6 148.5 L184.6 147.3 Z M180.5 248.5 L183.6 243.1 M185.0 240.7 L184.6 243.7 L182.6 242.5 Z M180.5 155.5 L185.6 160.6 M187.6 162.6 L184.7 161.4 L186.4 159.7 Z M180.5 235.5 L185.6 230.4 M187.6 228.4 L186.4 231.3 L184.7 229.6 Z M180.5 169.5 L185.1 175.0 M186.9 177.2 L184.2 175.8 L186.0 174.2 Z M180.5 221.5 L185.1 216.0 M186.9 213.8 L186.0 216.8 L184.2 215.2 Z M241.5 77.5 L241.5 80.7 M241.5 83.5 L240.3 80.7 L242.7 80.7 Z M241.5 313.5 L241.5 310.3 M241.5 307.5 L242.7 310.3 L240.3 310.3 Z M241.5 90.5 L241.5 93.7 M241.5 96.5 L240.3 93.7 L242.7 93.7 Z M241.5 300.5 L241.5 297.3 M241.5 294.5 L242.7 297.3 L240.3 297.3 Z M241.5 103.5 L241.9 107.7 M242.1 110.5 L240.7 107.8 L243.1 107.6 Z M241.5 287.5 L241.9 283.3 M242.1 280.5 L243.1 283.4 L240.7 283.2 Z M241.5 116.5 L242.2 120.6 M242.7 123.4 L241.0 120.8 L243.4 120.4 Z M241.5 274.5 L242.2 270.4 M242.7 267.6 L243.4 270.6 L241.0 270.2 Z M241.5 129.5 L244.1 134.0 M245.5 136.4 L243.1 134.6 L245.1 133.4 Z M241.5 261.5 L244.1 257.0 M245.5 254.6 L245.1 257.6 L243.1 256.4 Z M241.5 142.5 L245.1 147.6 M246.7 149.9 L244.1 148.3 L246.0 146.9 Z M241.5 248.5 L245.1 243.4 M246.7 241.1 L246.0 244.1 L244.1 242.7 Z M241.5 155.5 L246.6 160.6 M248.6 162.6 L245.7 161.4 L247.4 159.7 Z M241.5 235.5 L246.6 230.4 M248.6 228.4 L247.4 231.3 L245.7 229.6 Z M241.5 169.5 L247.0 174.1 M249.2 175.9 L246.2 175.0 L247.8 173.2 Z M241.5 221.5 L247.0 216.9 M249.2 215.1 L247.8 217.8 L246.2 216.0 Z M302.5 77.5 L302.5 80.7 M302.5 83.5 L301.3 80.7 L303.7 80.7 Z M302.5 313.5 L302.5 310.3 M302.5 307.5 L303.7 310.3 L301.3 310.3 Z M302.5 90.5 L302.8 93.7 M303.0 96.5 L301.6 93.8 L304.0 93.6 Z M302.5 300.5 L302.8 297.3 M303.0 294.5 L304.0 297.4 L301.6 297.2 Z M302.5 103.5 L303.2 107.6 M303.7 110.4 L302.0 107.8 L304.4 107.4 Z M302.5 287.5 L303.2 283.4 M303.7 280.6 L304.4 283.6 L302.0 283.2 Z M302.5 116.5 L303.9 120.4 M304.9 123.1 L302.8 120.9 L305.1 120.0 Z M302.5 274.5 L303.9 270.6 M304.9 267.9 L305.1 271.0 L302.8 270.1 Z M302.5 129.5 L305.1 134.0 M306.5 136.4 L304.1 134.6 L306.1 133.4 Z M302.5 261.5 L305.1 257.0 M306.5 254.6 L306.1 257.6 L304.1 256.4 Z M302.5 142.5 L306.5 147.2 M308.3 149.4 L305.6 148.0 L307.4 146.5 Z M302.5 248.5 L306.5 243.8 M308.3 241.6 L307.4 244.5 L305.6 243.0 Z M302.5 155.5 L307.6 160.6 M309.6 162.6 L306.7 161.4 L308.4 159.7 Z M302.5 235.5 L307.6 230.4 M309.6 228.4 L308.4 231.3 L306.7 229.6 Z M302.5 169.5 L308.0 174.1 M310.2 175.9 L307.2 175.0 L308.8 173.2 Z M302.5 221.5 L308.0 216.9 M310.2 215.1 L308.8 217.8 L307.2 216.0 Z M363.5 77.5 L363.9 81.7 M364.1 84.5 L362.7 81.8 L365.1 81.6 Z M363.5 313.5 L363.9 309.3 M364.1 306.5 L365.1 309.4 L362.7 309.2 Z M363.5 90.5 L364.6 94.6 M365.3 97.3 L363.4 94.9 L365.7 94.2 Z M363.5 300.5 L364.6 296.4 M365.3 293.7 L365.7 296.8 L363.4 296.1 Z M363.5 103.5 L365.7 108.2 M366.9 110.8 L364.6 108.7 L366.8 107.7 Z M363.5 287.5 L365.7 282.8 M366.9 280.2 L366.8 283.3 L364.6 282.3 Z M363.5 116.5 L366.5 120.8 M368.1 123.1 L365.5 121.4 L367.5 120.1 Z M363.5 274.5 L366.5 270.2 M368.1 267.9 L367.5 270.9 L365.5 269.6 Z M363.5 129.5 L367.5 134.2 M369.3 136.4 L366.6 135.0 L368.4 133.5 Z M363.5 261.5 L367.5 256.8 M369.3 254.6 L368.4 257.5 L366.6 256.0 Z M363.5 142.5 L369.0 147.1 M371.2 148.9 L368.2 148.0 L369.8 146.2 Z M363.5 248.5 L369.0 243.9 M371.2 242.1 L369.8 244.8 L368.2 243.0 Z M363.5 155.5 L369.4 159.6 M371.7 161.2 L368.7 160.6 L370.1 158.6 Z M363.5 235.5 L369.4 231.4 M371.7 229.8 L370.1 232.4 L368.7 230.4 Z M363.5 169.5 L369.7 173.1 M372.2 174.5 L369.1 174.1 L370.3 172.1 Z M363.5 221.5 L369.7 217.9 M372.2 216.5 L370.3 218.9 L369.1 216.9 Z M446.0 77.5 L451.0 84.0 M452.8 86.2 L450.1 84.7 L452.0 83.2 Z M446.0 313.5 L451.0 307.0 M452.8 304.8 L452.0 307.8 L450.1 306.3 Z M446.0 90.5 L451.0 97.0 M452.8 99.2 L450.1 97.7 L452.0 96.2 Z M446.0 300.5 L451.0 294.0 M452.8 291.8 L452.0 294.8 L450.1 293.3 Z M446.0 103.5 L451.0 110.0 M452.8 112.2 L450.1 110.7 L452.0 109.2 Z M446.0 287.5 L451.0 281.0 M452.8 278.8 L452.0 281.8 L450.1 280.3 Z M446.0 116.5 L451.0 123.0 M452.8 125.2 L450.1 123.7 L452.0 122.2 Z M446.0 274.5 L451.0 268.0 M452.8 265.8 L452.0 268.8 L450.1 267.3 Z M446.0 129.5 L451.0 136.0 M452.8 138.2 L450.1 136.7 L452.0 135.2 Z M446.0 261.5 L451.0 255.0 M452.8 252.8 L452.0 255.8 L450.1 254.3 Z M446.0 142.5 L451.0 149.0 M452.8 151.2 L450.1 149.7 L452.0 148.2 Z M446.0 248.5 L451.0 242.0 M452.8 239.8 L452.0 242.8 L450.1 241.3 Z M446.0 155.5 L451.3 161.8 M453.1 163.9 L450.4 162.6 L452.2 161.0 Z M446.0 235.5 L451.3 229.2 M453.1 227.1 L452.2 230.0 L450.4 228.4 Z M446.0 169.5 L451.8 175.3 M453.8 177.3 L450.9 176.1 L452.6 174.4 Z M446.0 221.5 L451.8 215.7 M453.8 213.7 L452.6 216.6 L450.9 214.9 Z" stroke="#f4f0f8" stroke-width="0.95" fill="#f4f0f8" stroke-opacity="0.9" fill-opacity="0.9"/>
<path d="M120.0 191.0 L151.0 191.0 M143.0 194.6 L151.0 191.0 L143.0 187.4 M120.0 200.0 L151.0 200.0 M143.0 203.6 L151.0 200.0 L143.0 196.4 M181.0 191.0 L194.0 191.0 M189.0 193.2 L194.0 191.0 L189.0 188.8 M181.0 200.0 L194.0 200.0 M189.0 202.2 L194.0 200.0 L189.0 197.8 M242.0 191.0 L294.0 191.0 M280.0 197.3 L294.0 191.0 L280.0 184.7 M242.0 200.0 L294.0 200.0 M280.0 206.3 L294.0 200.0 L280.0 193.7 M303.0 191.0 L373.0 191.0 M357.0 198.2 L373.0 191.0 L357.0 183.8 M303.0 200.0 L373.0 200.0 M357.0 207.2 L373.0 200.0 L357.0 192.8 M364.0 191.0 L434.0 191.0 M418.0 198.2 L434.0 191.0 L418.0 183.8 M364.0 200.0 L434.0 200.0 M418.0 207.2 L434.0 200.0 L418.0 192.8 M425.0 191.0 L437.0 191.0 M432.0 193.2 L437.0 191.0 L432.0 188.8 M425.0 200.0 L437.0 200.0 M432.0 202.2 L437.0 200.0 L432.0 197.8 M446.0 166.0 L495.0 164.0 M481.3 170.6 L495.0 164.0 L480.8 158.6 M446.0 225.0 L495.0 227.0 M480.8 232.4 L495.0 227.0 L481.3 220.4 M470.0 186.0 L522.0 185.0 M508.1 191.3 L522.0 185.0 L507.9 179.3 M470.0 205.0 L522.0 206.0 M507.9 211.7 L522.0 206.0 L508.1 199.7" stroke="#f8f4ff" stroke-width="1.1" fill="none" stroke-opacity="0.9"/>
<path d="M553.0 319.0 h-5 M553.0 312.5 h-5 M553.0 306.0 h-5 M553.0 299.5 h-5 M553.0 293.0 h-7 M553.0 286.5 h-5 M553.0 280.0 h-5 M553.0 273.5 h-5 M553.0 267.0 h-5 M553.0 260.5 h-10 M553.0 254.0 h-5 M553.0 247.5 h-5 M553.0 241.0 h-5 M553.0 234.5 h-5 M553.0 228.0 h-7 M553.0 221.5 h-5 M553.0 215.0 h-5 M553.0 208.5 h-5 M553.0 202.0 h-5 M553.0 195.5 h-10 M553.0 189.0 h-5 M553.0 182.5 h-5 M553.0 176.0 h-5 M553.0 169.5 h-5 M553.0 163.0 h-7 M553.0 156.5 h-5 M553.0 150.0 h-5 M553.0 143.5 h-5 M553.0 137.0 h-5 M553.0 130.5 h-10 M553.0 124.0 h-5 M553.0 117.5 h-5 M553.0 111.0 h-5 M553.0 104.5 h-5 M553.0 98.0 h-7 M553.0 91.5 h-5 M553.0 85.0 h-5 M553.0 78.5 h-5 M553.0 72.0 h-5 M553.0 65.5 h-10" stroke="#111" stroke-width="1.1" stroke-opacity="0.85"/>
<path d="M58.5 195.5 h10" stroke="#222" stroke-width="1.2"/>
<path d="M302.3 129.5 V259.7" stroke="#fff" stroke-width="2.3"/>
</g>
<g clip-path="url(#cb)">
<rect x="58.5" y="420.0" width="494.5" height="262.5" fill="#394d77"/>
<g filter="url(#bl)">
<path d="M50.0 542.0 C58.3 539.0 83.3 541.7 100.0 541.0 C116.7 540.3 133.3 539.7 150.0 538.0 C166.7 536.3 183.3 533.6 200.0 531.0 C216.7 528.4 233.3 525.1 250.0 522.5 C266.7 519.9 278.3 518.1 300.0 515.5 C321.7 512.9 360.0 509.8 380.0 507.0 C400.0 504.2 406.7 503.0 420.0 499.0 C433.3 495.0 446.7 490.7 460.0 483.0 C473.3 475.3 485.0 463.3 500.0 453.0 C515.0 442.7 540.0 427.5 550.0 421.0 C560.0 414.5 558.3 369.7 560.0 414.0 C561.7 458.3 561.7 642.7 560.0 687.0 C558.3 731.3 560.0 686.5 550.0 680.0 C540.0 673.5 515.0 658.3 500.0 648.0 C485.0 637.7 473.3 625.7 460.0 618.0 C446.7 610.3 433.3 606.0 420.0 602.0 C406.7 598.0 400.0 596.8 380.0 594.0 C360.0 591.2 321.7 588.1 300.0 585.5 C278.3 582.9 266.7 581.1 250.0 578.5 C233.3 575.9 216.7 572.6 200.0 570.0 C183.3 567.4 166.7 564.7 150.0 563.0 C133.3 561.3 116.7 560.7 100.0 560.0 C83.3 559.3 58.3 562.0 50.0 559.0 C41.7 556.0 41.7 545.0 50.0 542.0 Z" fill="#36528e" />
<path d="M99.0 550.5 C99.5 550.0 98.5 548.3 102.0 547.5 C105.5 546.7 110.3 546.3 120.0 545.5 C129.7 544.7 146.7 543.8 160.0 542.5 C173.3 541.2 185.0 539.5 200.0 537.5 C215.0 535.5 233.3 532.7 250.0 530.5 C266.7 528.3 278.3 527.1 300.0 524.5 C321.7 521.9 360.0 517.8 380.0 515.0 C400.0 512.2 406.7 512.0 420.0 508.0 C433.3 504.0 446.7 498.7 460.0 491.0 C473.3 483.3 485.0 472.2 500.0 462.0 C515.0 451.8 540.0 436.3 550.0 430.0 C560.0 423.7 558.3 382.8 560.0 424.0 C561.7 465.2 561.7 635.8 560.0 677.0 C558.3 718.2 560.0 677.3 550.0 671.0 C540.0 664.7 515.0 649.2 500.0 639.0 C485.0 628.8 473.3 617.7 460.0 610.0 C446.7 602.3 433.3 597.0 420.0 593.0 C406.7 589.0 400.0 588.8 380.0 586.0 C360.0 583.2 321.7 579.1 300.0 576.5 C278.3 573.9 266.7 572.7 250.0 570.5 C233.3 568.3 215.0 565.5 200.0 563.5 C185.0 561.5 173.3 559.8 160.0 558.5 C146.7 557.2 129.7 556.3 120.0 555.5 C110.3 554.7 105.5 554.3 102.0 553.5 C98.5 552.7 99.5 551.0 99.0 550.5 C98.5 550.0 98.5 551.0 99.0 550.5 Z" fill="#2f7fc2" />
<path d="M110.0 550.5 C111.0 550.1 109.3 548.7 116.0 548.0 C122.7 547.3 136.0 547.5 150.0 546.5 C164.0 545.5 183.3 543.8 200.0 542.0 C216.7 540.2 233.3 537.8 250.0 535.5 C266.7 533.2 278.3 531.0 300.0 528.5 C321.7 526.0 360.0 523.0 380.0 520.5 C400.0 518.0 406.7 517.1 420.0 513.5 C433.3 509.9 446.7 506.1 460.0 499.0 C473.3 491.9 485.0 480.8 500.0 471.0 C515.0 461.2 540.0 446.2 550.0 440.0 C560.0 433.8 558.3 396.2 560.0 434.0 C561.7 471.8 561.7 629.2 560.0 667.0 C558.3 704.8 560.0 667.2 550.0 661.0 C540.0 654.8 515.0 639.8 500.0 630.0 C485.0 620.2 473.3 609.1 460.0 602.0 C446.7 594.9 433.3 591.1 420.0 587.5 C406.7 583.9 400.0 583.0 380.0 580.5 C360.0 578.0 321.7 575.0 300.0 572.5 C278.3 570.0 266.7 567.8 250.0 565.5 C233.3 563.2 216.7 560.8 200.0 559.0 C183.3 557.2 164.0 555.5 150.0 554.5 C136.0 553.5 122.7 553.7 116.0 553.0 C109.3 552.3 111.0 550.9 110.0 550.5 C109.0 550.1 109.0 550.9 110.0 550.5 Z" fill="#38a9dc" />
<path d="M110.0 550.5 C111.0 550.1 109.3 548.7 116.0 548.0 C122.7 547.3 136.0 547.5 150.0 546.5 C164.0 545.5 183.3 543.8 200.0 542.0 C216.7 540.2 233.3 537.8 250.0 535.5 C266.7 533.2 278.3 531.0 300.0 528.5 C321.7 526.0 360.0 523.0 380.0 520.5 C400.0 518.0 406.7 517.1 420.0 513.5 C433.3 509.9 446.7 506.1 460.0 499.0 C473.3 491.9 485.0 480.8 500.0 471.0 C515.0 461.2 540.0 446.2 550.0 440.0 C560.0 433.8 558.3 396.2 560.0 434.0 C561.7 471.8 561.7 629.2 560.0 667.0 C558.3 704.8 560.0 667.2 550.0 661.0 C540.0 654.8 515.0 639.8 500.0 630.0 C485.0 620.2 473.3 609.1 460.0 602.0 C446.7 594.9 433.3 591.1 420.0 587.5 C406.7 583.9 400.0 583.0 380.0 580.5 C360.0 578.0 321.7 575.0 300.0 572.5 C278.3 570.0 266.7 567.8 250.0 565.5 C233.3 563.2 216.7 560.8 200.0 559.0 C183.3 557.2 164.0 555.5 150.0 554.5 C136.0 553.5 122.7 553.7 116.0 553.0 C109.3 552.3 111.0 550.9 110.0 550.5 C109.0 550.1 109.0 550.9 110.0 550.5 Z" fill="#38a9dc" />
</g>
<g stroke="#d0d6f0" stroke-width="1.5" fill="none" stroke-opacity="0.85" filter="url(#bl2)">
<path d="M56.5 423.6 L59.5 423.5 L62.5 423.3 L65.5 423.1 L68.5 422.9 L71.5 422.7 L74.5 422.5 L77.5 422.3 L80.5 422.1 L83.5 421.9 L86.5 421.7 L89.5 421.5 L92.5 421.3 L95.5 421.1 L98.5 420.9 L101.5 420.7 L104.5 420.5 L107.5 420.3 L110.5 420.1 L113.5 419.9 L116.5 419.7 L119.5 419.5 L122.5 419.3 L125.5 419.1 L128.5 418.9 L131.5 418.7 L134.5 418.5 L137.5 418.3 L140.5 418.1 L143.5 417.9 L146.5 417.7 L149.5 417.5 L152.5 417.3 L155.5 417.1 L158.5 416.9 L161.5 416.7 L164.5 416.5 L167.5 416.3 L170.5 416.1 L173.5 415.9 L176.5 415.7 L179.5 415.5 L182.5 415.3 L185.5 415.1 L188.5 414.9 L191.5 414.7 L194.5 414.4 L197.5 414.1 L200.5 413.8 L203.5 413.5 L206.5 413.3 L209.5 413.0 L212.5 412.7 L215.5 412.4 L218.5 412.1 L221.5 411.8 L224.5 411.5 L227.5 411.2 L230.5 410.9 L233.5 410.5 L236.5 410.2 L239.5 409.9 L242.5 409.5 L245.5 409.2 L248.5 408.8 L251.5 408.5 L254.5 408.1 L257.5 407.7 L260.5 407.3 L263.5 406.9 L266.5 406.4 L269.5 405.9 L272.5 405.4 L275.5 404.9 L278.5 404.4 L281.5 403.9 L284.5 403.3 L287.5 402.8 L290.5 402.2 L293.5 401.7 L296.5 401.1 L299.5 400.5 L302.5 399.9 L305.5 399.3 L308.5 398.7 L311.5 398.1 L314.5 397.4 L317.5 396.8 L320.5 396.1 L323.5 395.4 L326.5 394.7 L329.5 394.0 L332.5 393.5 L335.5 392.9 L338.5 392.3 L341.5 391.8 L344.5 391.2 L347.5 390.6 L350.5 389.9 L353.5 389.3 L356.5 388.5 L359.5 387.8 L362.5 386.9 L365.5 386.1 L368.5 385.2 L371.5 384.2 L374.5 383.2 L377.5 382.2 L380.5 381.2 L383.5 380.1 L386.5 378.9 L389.5 377.7 L392.5 376.4 L395.5 375.0 L398.5 373.4 L401.5 371.8 L404.5 370.2 L407.5 368.5 L410.5 366.8 L413.5 365.0 L416.5 363.3 L419.5 361.5 L422.5 359.8 L425.5 358.0 L428.5 356.1 L431.5 354.3 L434.5 352.3 L437.5 350.4 L440.5 348.4 L443.5 346.4 L446.5 344.4 L449.5 342.4 L452.5 340.3 L455.5 338.3 L458.5 336.3 L461.5 334.3 L464.5 332.3 L467.5 330.4 L470.5 328.5 L473.5 326.6 L476.5 324.7 L479.5 322.8 L482.5 320.9 L485.5 319.1 L488.5 317.2 L491.5 315.3 L494.5 313.5 L497.5 311.6 L500.5 309.7 L503.5 307.8 L506.5 306.0 L509.5 304.1 L512.5 302.2 L515.5 300.3 L518.5 298.4 L521.5 296.4 L524.5 294.5 L527.5 292.5 L530.5 290.6 L533.5 288.6 L536.5 286.7 L539.5 284.7 L542.5 282.7 L545.5 280.7 L548.5 278.7 L551.5 276.7 L554.5 274.7"/>
<path d="M56.5 677.4 L59.5 677.5 L62.5 677.7 L65.5 677.9 L68.5 678.1 L71.5 678.3 L74.5 678.5 L77.5 678.7 L80.5 678.9 L83.5 679.1 L86.5 679.3 L89.5 679.5 L92.5 679.7 L95.5 679.9 L98.5 680.1 L101.5 680.3 L104.5 680.5 L107.5 680.7 L110.5 680.9 L113.5 681.1 L116.5 681.3 L119.5 681.5 L122.5 681.7 L125.5 681.9 L128.5 682.1 L131.5 682.3 L134.5 682.5 L137.5 682.7 L140.5 682.9 L143.5 683.1 L146.5 683.3 L149.5 683.5 L152.5 683.7 L155.5 683.9 L158.5 684.1 L161.5 684.3 L164.5 684.5 L167.5 684.7 L170.5 684.9 L173.5 685.1 L176.5 685.3 L179.5 685.5 L182.5 685.7 L185.5 685.9 L188.5 686.1 L191.5 686.3 L194.5 686.6 L197.5 686.9 L200.5 687.2 L203.5 687.5 L206.5 687.7 L209.5 688.0 L212.5 688.3 L215.5 688.6 L218.5 688.9 L221.5 689.2 L224.5 689.5 L227.5 689.8 L230.5 690.1 L233.5 690.5 L236.5 690.8 L239.5 691.1 L242.5 691.5 L245.5 691.8 L248.5 692.2 L251.5 692.5 L254.5 692.9 L257.5 693.3 L260.5 693.7 L263.5 694.1 L266.5 694.6 L269.5 695.1 L272.5 695.6 L275.5 696.1 L278.5 696.6 L281.5 697.1 L284.5 697.7 L287.5 698.2 L290.5 698.8 L293.5 699.3 L296.5 699.9 L299.5 700.5 L302.5 701.1 L305.5 701.7 L308.5 702.3 L311.5 702.9 L314.5 703.6 L317.5 704.2 L320.5 704.9 L323.5 705.6 L326.5 706.3 L329.5 707.0 L332.5 707.5 L335.5 708.1 L338.5 708.7 L341.5 709.2 L344.5 709.8 L347.5 710.4 L350.5 711.1 L353.5 711.7 L356.5 712.5 L359.5 713.2 L362.5 714.1 L365.5 714.9 L368.5 715.8 L371.5 716.8 L374.5 717.8 L377.5 718.8 L380.5 719.8 L383.5 720.9 L386.5 722.1 L389.5 723.3 L392.5 724.6 L395.5 726.0 L398.5 727.6 L401.5 729.2 L404.5 730.8 L407.5 732.5 L410.5 734.2 L413.5 736.0 L416.5 737.7 L419.5 739.5 L422.5 741.2 L425.5 743.0 L428.5 744.9 L431.5 746.7 L434.5 748.7 L437.5 750.6 L440.5 752.6 L443.5 754.6 L446.5 756.6 L449.5 758.6 L452.5 760.7 L455.5 762.7 L458.5 764.7 L461.5 766.7 L464.5 768.7 L467.5 770.6 L470.5 772.5 L473.5 774.4 L476.5 776.3 L479.5 778.2 L482.5 780.1 L485.5 781.9 L488.5 783.8 L491.5 785.7 L494.5 787.5 L497.5 789.4 L500.5 791.3 L503.5 793.2 L506.5 795.0 L509.5 796.9 L512.5 798.8 L515.5 800.7 L518.5 802.6 L521.5 804.6 L524.5 806.5 L527.5 808.5 L530.5 810.4 L533.5 812.4 L536.5 814.3 L539.5 816.3 L542.5 818.3 L545.5 820.3 L548.5 822.3 L551.5 824.3 L554.5 826.3"/>
<path d="M56.5 434.7 L59.5 434.6 L62.5 434.4 L65.5 434.3 L68.5 434.1 L71.5 433.9 L74.5 433.7 L77.5 433.5 L80.5 433.4 L83.5 433.2 L86.5 433.0 L89.5 432.8 L92.5 432.6 L95.5 432.4 L98.5 432.3 L101.5 432.1 L104.5 431.9 L107.5 431.7 L110.5 431.5 L113.5 431.3 L116.5 431.1 L119.5 430.9 L122.5 430.7 L125.5 430.5 L128.5 430.3 L131.5 430.2 L134.5 430.0 L137.5 429.8 L140.5 429.6 L143.5 429.4 L146.5 429.2 L149.5 429.0 L152.5 428.8 L155.5 428.7 L158.5 428.5 L161.5 428.3 L164.5 428.1 L167.5 427.9 L170.5 427.7 L173.5 427.6 L176.5 427.4 L179.5 427.2 L182.5 427.0 L185.5 426.8 L188.5 426.7 L191.5 426.4 L194.5 426.2 L197.5 425.9 L200.5 425.6 L203.5 425.4 L206.5 425.1 L209.5 424.8 L212.5 424.6 L215.5 424.3 L218.5 424.0 L221.5 423.8 L224.5 423.5 L227.5 423.2 L230.5 422.9 L233.5 422.6 L236.5 422.3 L239.5 422.0 L242.5 421.7 L245.5 421.4 L248.5 421.0 L251.5 420.7 L254.5 420.4 L257.5 420.0 L260.5 419.7 L263.5 419.2 L266.5 418.8 L269.5 418.3 L272.5 417.9 L275.5 417.4 L278.5 416.9 L281.5 416.5 L284.5 416.0 L287.5 415.5 L290.5 414.9 L293.5 414.4 L296.5 413.9 L299.5 413.3 L302.5 412.8 L305.5 412.2 L308.5 411.6 L311.5 411.0 L314.5 410.4 L317.5 409.8 L320.5 409.2 L323.5 408.5 L326.5 407.9 L329.5 407.2 L332.5 406.7 L335.5 406.2 L338.5 405.6 L341.5 405.1 L344.5 404.5 L347.5 403.9 L350.5 403.3 L353.5 402.7 L356.5 402.0 L359.5 401.3 L362.5 400.6 L365.5 399.8 L368.5 398.9 L371.5 398.0 L374.5 397.1 L377.5 396.1 L380.5 395.1 L383.5 394.0 L386.5 392.9 L389.5 391.8 L392.5 390.6 L395.5 389.3 L398.5 387.9 L401.5 386.4 L404.5 384.9 L407.5 383.2 L410.5 381.5 L413.5 379.8 L416.5 378.1 L419.5 376.3 L422.5 374.6 L425.5 372.8 L428.5 371.0 L431.5 369.2 L434.5 367.3 L437.5 365.4 L440.5 363.4 L443.5 361.5 L446.5 359.5 L449.5 357.5 L452.5 355.4 L455.5 353.4 L458.5 351.4 L461.5 349.4 L464.5 347.4 L467.5 345.5 L470.5 343.5 L473.5 341.6 L476.5 339.7 L479.5 337.8 L482.5 336.0 L485.5 334.1 L488.5 332.2 L491.5 330.4 L494.5 328.5 L497.5 326.6 L500.5 324.8 L503.5 322.9 L506.5 321.1 L509.5 319.2 L512.5 317.3 L515.5 315.4 L518.5 313.5 L521.5 311.6 L524.5 309.7 L527.5 307.7 L530.5 305.8 L533.5 303.9 L536.5 301.9 L539.5 299.9 L542.5 298.0 L545.5 296.0 L548.5 294.0 L551.5 292.0 L554.5 290.1"/>
<path d="M56.5 666.3 L59.5 666.4 L62.5 666.6 L65.5 666.7 L68.5 666.9 L71.5 667.1 L74.5 667.3 L77.5 667.5 L80.5 667.6 L83.5 667.8 L86.5 668.0 L89.5 668.2 L92.5 668.4 L95.5 668.6 L98.5 668.7 L101.5 668.9 L104.5 669.1 L107.5 669.3 L110.5 669.5 L113.5 669.7 L116.5 669.9 L119.5 670.1 L122.5 670.3 L125.5 670.5 L128.5 670.7 L131.5 670.8 L134.5 671.0 L137.5 671.2 L140.5 671.4 L143.5 671.6 L146.5 671.8 L149.5 672.0 L152.5 672.2 L155.5 672.3 L158.5 672.5 L161.5 672.7 L164.5 672.9 L167.5 673.1 L170.5 673.3 L173.5 673.4 L176.5 673.6 L179.5 673.8 L182.5 674.0 L185.5 674.2 L188.5 674.3 L191.5 674.6 L194.5 674.8 L197.5 675.1 L200.5 675.4 L203.5 675.6 L206.5 675.9 L209.5 676.2 L212.5 676.4 L215.5 676.7 L218.5 677.0 L221.5 677.2 L224.5 677.5 L227.5 677.8 L230.5 678.1 L233.5 678.4 L236.5 678.7 L239.5 679.0 L242.5 679.3 L245.5 679.6 L248.5 680.0 L251.5 680.3 L254.5 680.6 L257.5 681.0 L260.5 681.3 L263.5 681.8 L266.5 682.2 L269.5 682.7 L272.5 683.1 L275.5 683.6 L278.5 684.1 L281.5 684.5 L284.5 685.0 L287.5 685.5 L290.5 686.1 L293.5 686.6 L296.5 687.1 L299.5 687.7 L302.5 688.2 L305.5 688.8 L308.5 689.4 L311.5 690.0 L314.5 690.6 L317.5 691.2 L320.5 691.8 L323.5 692.5 L326.5 693.1 L329.5 693.8 L332.5 694.3 L335.5 694.8 L338.5 695.4 L341.5 695.9 L344.5 696.5 L347.5 697.1 L350.5 697.7 L353.5 698.3 L356.5 699.0 L359.5 699.7 L362.5 700.4 L365.5 701.2 L368.5 702.1 L371.5 703.0 L374.5 703.9 L377.5 704.9 L380.5 705.9 L383.5 707.0 L386.5 708.1 L389.5 709.2 L392.5 710.4 L395.5 711.7 L398.5 713.1 L401.5 714.6 L404.5 716.1 L407.5 717.8 L410.5 719.5 L413.5 721.2 L416.5 722.9 L419.5 724.7 L422.5 726.4 L425.5 728.2 L428.5 730.0 L431.5 731.8 L434.5 733.7 L437.5 735.6 L440.5 737.6 L443.5 739.5 L446.5 741.5 L449.5 743.5 L452.5 745.6 L455.5 747.6 L458.5 749.6 L461.5 751.6 L464.5 753.6 L467.5 755.5 L470.5 757.5 L473.5 759.4 L476.5 761.3 L479.5 763.2 L482.5 765.0 L485.5 766.9 L488.5 768.8 L491.5 770.6 L494.5 772.5 L497.5 774.4 L500.5 776.2 L503.5 778.1 L506.5 779.9 L509.5 781.8 L512.5 783.7 L515.5 785.6 L518.5 787.5 L521.5 789.4 L524.5 791.3 L527.5 793.3 L530.5 795.2 L533.5 797.1 L536.5 799.1 L539.5 801.1 L542.5 803.0 L545.5 805.0 L548.5 807.0 L551.5 809.0 L554.5 810.9"/>
<path d="M56.5 445.4 L59.5 445.3 L62.5 445.2 L65.5 445.0 L68.5 444.9 L71.5 444.7 L74.5 444.5 L77.5 444.4 L80.5 444.2 L83.5 444.0 L86.5 443.9 L89.5 443.7 L92.5 443.5 L95.5 443.3 L98.5 443.2 L101.5 443.0 L104.5 442.8 L107.5 442.6 L110.5 442.5 L113.5 442.3 L116.5 442.1 L119.5 441.9 L122.5 441.7 L125.5 441.6 L128.5 441.4 L131.5 441.2 L134.5 441.0 L137.5 440.9 L140.5 440.7 L143.5 440.5 L146.5 440.3 L149.5 440.2 L152.5 440.0 L155.5 439.8 L158.5 439.6 L161.5 439.5 L164.5 439.3 L167.5 439.1 L170.5 439.0 L173.5 438.8 L176.5 438.6 L179.5 438.5 L182.5 438.3 L185.5 438.1 L188.5 437.9 L191.5 437.7 L194.5 437.5 L197.5 437.3 L200.5 437.0 L203.5 436.8 L206.5 436.5 L209.5 436.3 L212.5 436.0 L215.5 435.8 L218.5 435.5 L221.5 435.3 L224.5 435.0 L227.5 434.8 L230.5 434.5 L233.5 434.2 L236.5 434.0 L239.5 433.7 L242.5 433.4 L245.5 433.1 L248.5 432.8 L251.5 432.5 L254.5 432.2 L257.5 431.9 L260.5 431.5 L263.5 431.1 L266.5 430.7 L269.5 430.3 L272.5 429.9 L275.5 429.4 L278.5 429.0 L281.5 428.6 L284.5 428.1 L287.5 427.6 L290.5 427.2 L293.5 426.7 L296.5 426.2 L299.5 425.7 L302.5 425.1 L305.5 424.6 L308.5 424.1 L311.5 423.5 L314.5 422.9 L317.5 422.4 L320.5 421.8 L323.5 421.2 L326.5 420.6 L329.5 419.9 L332.5 419.4 L335.5 418.9 L338.5 418.4 L341.5 417.8 L344.5 417.3 L347.5 416.8 L350.5 416.2 L353.5 415.6 L356.5 415.0 L359.5 414.3 L362.5 413.6 L365.5 412.9 L368.5 412.1 L371.5 411.2 L374.5 410.4 L377.5 409.4 L380.5 408.5 L383.5 407.5 L386.5 406.4 L389.5 405.3 L392.5 404.2 L395.5 403.1 L398.5 401.8 L401.5 400.4 L404.5 398.9 L407.5 397.3 L410.5 395.7 L413.5 394.0 L416.5 392.3 L419.5 390.6 L422.5 388.8 L425.5 387.1 L428.5 385.3 L431.5 383.5 L434.5 381.7 L437.5 379.8 L440.5 377.9 L443.5 376.0 L446.5 374.0 L449.5 372.0 L452.5 370.0 L455.5 368.0 L458.5 366.0 L461.5 364.0 L464.5 362.0 L467.5 360.0 L470.5 358.0 L473.5 356.1 L476.5 354.2 L479.5 352.3 L482.5 350.4 L485.5 348.6 L488.5 346.7 L491.5 344.8 L494.5 343.0 L497.5 341.1 L500.5 339.3 L503.5 337.4 L506.5 335.6 L509.5 333.7 L512.5 331.9 L515.5 330.0 L518.5 328.1 L521.5 326.2 L524.5 324.3 L527.5 322.4 L530.5 320.4 L533.5 318.5 L536.5 316.6 L539.5 314.6 L542.5 312.7 L545.5 310.7 L548.5 308.7 L551.5 306.7 L554.5 304.8"/>
<path d="M56.5 655.6 L59.5 655.7 L62.5 655.8 L65.5 656.0 L68.5 656.1 L71.5 656.3 L74.5 656.5 L77.5 656.6 L80.5 656.8 L83.5 657.0 L86.5 657.1 L89.5 657.3 L92.5 657.5 L95.5 657.7 L98.5 657.8 L101.5 658.0 L104.5 658.2 L107.5 658.4 L110.5 658.5 L113.5 658.7 L116.5 658.9 L119.5 659.1 L122.5 659.3 L125.5 659.4 L128.5 659.6 L131.5 659.8 L134.5 660.0 L137.5 660.1 L140.5 660.3 L143.5 660.5 L146.5 660.7 L149.5 660.8 L152.5 661.0 L155.5 661.2 L158.5 661.4 L161.5 661.5 L164.5 661.7 L167.5 661.9 L170.5 662.0 L173.5 662.2 L176.5 662.4 L179.5 662.5 L182.5 662.7 L185.5 662.9 L188.5 663.1 L191.5 663.3 L194.5 663.5 L197.5 663.7 L200.5 664.0 L203.5 664.2 L206.5 664.5 L209.5 664.7 L212.5 665.0 L215.5 665.2 L218.5 665.5 L221.5 665.7 L224.5 666.0 L227.5 666.2 L230.5 666.5 L233.5 666.8 L236.5 667.0 L239.5 667.3 L242.5 667.6 L245.5 667.9 L248.5 668.2 L251.5 668.5 L254.5 668.8 L257.5 669.1 L260.5 669.5 L263.5 669.9 L266.5 670.3 L269.5 670.7 L272.5 671.1 L275.5 671.6 L278.5 672.0 L281.5 672.4 L284.5 672.9 L287.5 673.4 L290.5 673.8 L293.5 674.3 L296.5 674.8 L299.5 675.3 L302.5 675.9 L305.5 676.4 L308.5 676.9 L311.5 677.5 L314.5 678.1 L317.5 678.6 L320.5 679.2 L323.5 679.8 L326.5 680.4 L329.5 681.1 L332.5 681.6 L335.5 682.1 L338.5 682.6 L341.5 683.2 L344.5 683.7 L347.5 684.2 L350.5 684.8 L353.5 685.4 L356.5 686.0 L359.5 686.7 L362.5 687.4 L365.5 688.1 L368.5 688.9 L371.5 689.8 L374.5 690.6 L377.5 691.6 L380.5 692.5 L383.5 693.5 L386.5 694.6 L389.5 695.7 L392.5 696.8 L395.5 697.9 L398.5 699.2 L401.5 700.6 L404.5 702.1 L407.5 703.7 L410.5 705.3 L413.5 707.0 L416.5 708.7 L419.5 710.4 L422.5 712.2 L425.5 713.9 L428.5 715.7 L431.5 717.5 L434.5 719.3 L437.5 721.2 L440.5 723.1 L443.5 725.0 L446.5 727.0 L449.5 729.0 L452.5 731.0 L455.5 733.0 L458.5 735.0 L461.5 737.0 L464.5 739.0 L467.5 741.0 L470.5 743.0 L473.5 744.9 L476.5 746.8 L479.5 748.7 L482.5 750.6 L485.5 752.4 L488.5 754.3 L491.5 756.2 L494.5 758.0 L497.5 759.9 L500.5 761.7 L503.5 763.6 L506.5 765.4 L509.5 767.3 L512.5 769.1 L515.5 771.0 L518.5 772.9 L521.5 774.8 L524.5 776.7 L527.5 778.6 L530.5 780.6 L533.5 782.5 L536.5 784.4 L539.5 786.4 L542.5 788.3 L545.5 790.3 L548.5 792.3 L551.5 794.3 L554.5 796.2"/>
<path d="M56.5 456.0 L59.5 455.9 L62.5 455.8 L65.5 455.7 L68.5 455.5 L71.5 455.4 L74.5 455.2 L77.5 455.1 L80.5 454.9 L83.5 454.8 L86.5 454.6 L89.5 454.5 L92.5 454.3 L95.5 454.1 L98.5 454.0 L101.5 453.8 L104.5 453.6 L107.5 453.5 L110.5 453.3 L113.5 453.2 L116.5 453.0 L119.5 452.8 L122.5 452.7 L125.5 452.5 L128.5 452.3 L131.5 452.2 L134.5 452.0 L137.5 451.8 L140.5 451.7 L143.5 451.5 L146.5 451.3 L149.5 451.2 L152.5 451.0 L155.5 450.8 L158.5 450.7 L161.5 450.5 L164.5 450.4 L167.5 450.2 L170.5 450.1 L173.5 449.9 L176.5 449.7 L179.5 449.6 L182.5 449.4 L185.5 449.3 L188.5 449.1 L191.5 448.9 L194.5 448.7 L197.5 448.5 L200.5 448.3 L203.5 448.1 L206.5 447.8 L209.5 447.6 L212.5 447.4 L215.5 447.2 L218.5 446.9 L221.5 446.7 L224.5 446.5 L227.5 446.2 L230.5 446.0 L233.5 445.7 L236.5 445.5 L239.5 445.2 L242.5 445.0 L245.5 444.7 L248.5 444.4 L251.5 444.2 L254.5 443.9 L257.5 443.6 L260.5 443.3 L263.5 442.9 L266.5 442.5 L269.5 442.1 L272.5 441.7 L275.5 441.3 L278.5 440.9 L281.5 440.5 L284.5 440.1 L287.5 439.7 L290.5 439.2 L293.5 438.8 L296.5 438.3 L299.5 437.8 L302.5 437.4 L305.5 436.9 L308.5 436.3 L311.5 435.8 L314.5 435.3 L317.5 434.8 L320.5 434.2 L323.5 433.6 L326.5 433.1 L329.5 432.5 L332.5 432.0 L335.5 431.5 L338.5 431.0 L341.5 430.5 L344.5 430.0 L347.5 429.4 L350.5 428.9 L353.5 428.3 L356.5 427.8 L359.5 427.2 L362.5 426.5 L365.5 425.8 L368.5 425.1 L371.5 424.3 L374.5 423.5 L377.5 422.6 L380.5 421.7 L383.5 420.7 L386.5 419.7 L389.5 418.7 L392.5 417.6 L395.5 416.5 L398.5 415.3 L401.5 414.1 L404.5 412.7 L407.5 411.2 L410.5 409.7 L413.5 408.0 L416.5 406.4 L419.5 404.6 L422.5 402.9 L425.5 401.2 L428.5 399.4 L431.5 397.7 L434.5 395.9 L437.5 394.1 L440.5 392.2 L443.5 390.3 L446.5 388.3 L449.5 386.3 L452.5 384.4 L455.5 382.4 L458.5 380.4 L461.5 378.4 L464.5 376.4 L467.5 374.4 L470.5 372.4 L473.5 370.5 L476.5 368.5 L479.5 366.7 L482.5 364.8 L485.5 362.9 L488.5 361.0 L491.5 359.2 L494.5 357.3 L497.5 355.5 L500.5 353.6 L503.5 351.8 L506.5 349.9 L509.5 348.1 L512.5 346.2 L515.5 344.4 L518.5 342.5 L521.5 340.6 L524.5 338.7 L527.5 336.8 L530.5 334.9 L533.5 333.0 L536.5 331.1 L539.5 329.1 L542.5 327.2 L545.5 325.2 L548.5 323.3 L551.5 321.3 L554.5 319.4"/>
<path d="M56.5 645.0 L59.5 645.1 L62.5 645.2 L65.5 645.3 L68.5 645.5 L71.5 645.6 L74.5 645.8 L77.5 645.9 L80.5 646.1 L83.5 646.2 L86.5 646.4 L89.5 646.5 L92.5 646.7 L95.5 646.9 L98.5 647.0 L101.5 647.2 L104.5 647.4 L107.5 647.5 L110.5 647.7 L113.5 647.8 L116.5 648.0 L119.5 648.2 L122.5 648.3 L125.5 648.5 L128.5 648.7 L131.5 648.8 L134.5 649.0 L137.5 649.2 L140.5 649.3 L143.5 649.5 L146.5 649.7 L149.5 649.8 L152.5 650.0 L155.5 650.2 L158.5 650.3 L161.5 650.5 L164.5 650.6 L167.5 650.8 L170.5 650.9 L173.5 651.1 L176.5 651.3 L179.5 651.4 L182.5 651.6 L185.5 651.7 L188.5 651.9 L191.5 652.1 L194.5 652.3 L197.5 652.5 L200.5 652.7 L203.5 652.9 L206.5 653.2 L209.5 653.4 L212.5 653.6 L215.5 653.8 L218.5 654.1 L221.5 654.3 L224.5 654.5 L227.5 654.8 L230.5 655.0 L233.5 655.3 L236.5 655.5 L239.5 655.8 L242.5 656.0 L245.5 656.3 L248.5 656.6 L251.5 656.8 L254.5 657.1 L257.5 657.4 L260.5 657.7 L263.5 658.1 L266.5 658.5 L269.5 658.9 L272.5 659.3 L275.5 659.7 L278.5 660.1 L281.5 660.5 L284.5 660.9 L287.5 661.3 L290.5 661.8 L293.5 662.2 L296.5 662.7 L299.5 663.2 L302.5 663.6 L305.5 664.1 L308.5 664.7 L311.5 665.2 L314.5 665.7 L317.5 666.2 L320.5 666.8 L323.5 667.4 L326.5 667.9 L329.5 668.5 L332.5 669.0 L335.5 669.5 L338.5 670.0 L341.5 670.5 L344.5 671.0 L347.5 671.6 L350.5 672.1 L353.5 672.7 L356.5 673.2 L359.5 673.8 L362.5 674.5 L365.5 675.2 L368.5 675.9 L371.5 676.7 L374.5 677.5 L377.5 678.4 L380.5 679.3 L383.5 680.3 L386.5 681.3 L389.5 682.3 L392.5 683.4 L395.5 684.5 L398.5 685.7 L401.5 686.9 L404.5 688.3 L407.5 689.8 L410.5 691.3 L413.5 693.0 L416.5 694.6 L419.5 696.4 L422.5 698.1 L425.5 699.8 L428.5 701.6 L431.5 703.3 L434.5 705.1 L437.5 706.9 L440.5 708.8 L443.5 710.7 L446.5 712.7 L449.5 714.7 L452.5 716.6 L455.5 718.6 L458.5 720.6 L461.5 722.6 L464.5 724.6 L467.5 726.6 L470.5 728.6 L473.5 730.5 L476.5 732.5 L479.5 734.3 L482.5 736.2 L485.5 738.1 L488.5 740.0 L491.5 741.8 L494.5 743.7 L497.5 745.5 L500.5 747.4 L503.5 749.2 L506.5 751.1 L509.5 752.9 L512.5 754.8 L515.5 756.6 L518.5 758.5 L521.5 760.4 L524.5 762.3 L527.5 764.2 L530.5 766.1 L533.5 768.0 L536.5 769.9 L539.5 771.9 L542.5 773.8 L545.5 775.8 L548.5 777.7 L551.5 779.7 L554.5 781.6"/>
<path d="M56.5 467.1 L59.5 467.1 L62.5 466.9 L65.5 466.8 L68.5 466.7 L71.5 466.6 L74.5 466.4 L77.5 466.3 L80.5 466.2 L83.5 466.0 L86.5 465.9 L89.5 465.7 L92.5 465.6 L95.5 465.4 L98.5 465.3 L101.5 465.1 L104.5 465.0 L107.5 464.8 L110.5 464.7 L113.5 464.5 L116.5 464.4 L119.5 464.2 L122.5 464.1 L125.5 463.9 L128.5 463.8 L131.5 463.6 L134.5 463.4 L137.5 463.3 L140.5 463.1 L143.5 463.0 L146.5 462.8 L149.5 462.7 L152.5 462.5 L155.5 462.4 L158.5 462.2 L161.5 462.1 L164.5 461.9 L167.5 461.8 L170.5 461.7 L173.5 461.5 L176.5 461.4 L179.5 461.2 L182.5 461.1 L185.5 460.9 L188.5 460.8 L191.5 460.6 L194.5 460.4 L197.5 460.2 L200.5 460.0 L203.5 459.8 L206.5 459.6 L209.5 459.4 L212.5 459.2 L215.5 459.0 L218.5 458.8 L221.5 458.6 L224.5 458.4 L227.5 458.2 L230.5 458.0 L233.5 457.7 L236.5 457.5 L239.5 457.3 L242.5 457.1 L245.5 456.8 L248.5 456.6 L251.5 456.3 L254.5 456.1 L257.5 455.8 L260.5 455.5 L263.5 455.2 L266.5 454.8 L269.5 454.5 L272.5 454.1 L275.5 453.8 L278.5 453.4 L281.5 453.0 L284.5 452.6 L287.5 452.2 L290.5 451.8 L293.5 451.4 L296.5 451.0 L299.5 450.6 L302.5 450.1 L305.5 449.6 L308.5 449.2 L311.5 448.7 L314.5 448.2 L317.5 447.7 L320.5 447.2 L323.5 446.7 L326.5 446.1 L329.5 445.6 L332.5 445.1 L335.5 444.7 L338.5 444.2 L341.5 443.7 L344.5 443.2 L347.5 442.7 L350.5 442.2 L353.5 441.6 L356.5 441.1 L359.5 440.5 L362.5 440.0 L365.5 439.3 L368.5 438.6 L371.5 437.9 L374.5 437.1 L377.5 436.3 L380.5 435.4 L383.5 434.5 L386.5 433.6 L389.5 432.6 L392.5 431.6 L395.5 430.5 L398.5 429.4 L401.5 428.3 L404.5 427.0 L407.5 425.7 L410.5 424.2 L413.5 422.6 L416.5 421.0 L419.5 419.3 L422.5 417.6 L425.5 415.9 L428.5 414.1 L431.5 412.4 L434.5 410.7 L437.5 408.9 L440.5 407.1 L443.5 405.2 L446.5 403.3 L449.5 401.3 L452.5 399.4 L455.5 397.4 L458.5 395.4 L461.5 393.4 L464.5 391.4 L467.5 389.4 L470.5 387.4 L473.5 385.5 L476.5 383.5 L479.5 381.6 L482.5 379.7 L485.5 377.9 L488.5 376.0 L491.5 374.1 L494.5 372.3 L497.5 370.5 L500.5 368.6 L503.5 366.8 L506.5 364.9 L509.5 363.1 L512.5 361.3 L515.5 359.4 L518.5 357.5 L521.5 355.7 L524.5 353.8 L527.5 351.9 L530.5 350.0 L533.5 348.1 L536.5 346.2 L539.5 344.3 L542.5 342.3 L545.5 340.4 L548.5 338.5 L551.5 336.5 L554.5 334.6"/>
<path d="M56.5 633.9 L59.5 633.9 L62.5 634.1 L65.5 634.2 L68.5 634.3 L71.5 634.4 L74.5 634.6 L77.5 634.7 L80.5 634.8 L83.5 635.0 L86.5 635.1 L89.5 635.3 L92.5 635.4 L95.5 635.6 L98.5 635.7 L101.5 635.9 L104.5 636.0 L107.5 636.2 L110.5 636.3 L113.5 636.5 L116.5 636.6 L119.5 636.8 L122.5 636.9 L125.5 637.1 L128.5 637.2 L131.5 637.4 L134.5 637.6 L137.5 637.7 L140.5 637.9 L143.5 638.0 L146.5 638.2 L149.5 638.3 L152.5 638.5 L155.5 638.6 L158.5 638.8 L161.5 638.9 L164.5 639.1 L167.5 639.2 L170.5 639.3 L173.5 639.5 L176.5 639.6 L179.5 639.8 L182.5 639.9 L185.5 640.1 L188.5 640.2 L191.5 640.4 L194.5 640.6 L197.5 640.8 L200.5 641.0 L203.5 641.2 L206.5 641.4 L209.5 641.6 L212.5 641.8 L215.5 642.0 L218.5 642.2 L221.5 642.4 L224.5 642.6 L227.5 642.8 L230.5 643.0 L233.5 643.3 L236.5 643.5 L239.5 643.7 L242.5 643.9 L245.5 644.2 L248.5 644.4 L251.5 644.7 L254.5 644.9 L257.5 645.2 L260.5 645.5 L263.5 645.8 L266.5 646.2 L269.5 646.5 L272.5 646.9 L275.5 647.2 L278.5 647.6 L281.5 648.0 L284.5 648.4 L287.5 648.8 L290.5 649.2 L293.5 649.6 L296.5 650.0 L299.5 650.4 L302.5 650.9 L305.5 651.4 L308.5 651.8 L311.5 652.3 L314.5 652.8 L317.5 653.3 L320.5 653.8 L323.5 654.3 L326.5 654.9 L329.5 655.4 L332.5 655.9 L335.5 656.3 L338.5 656.8 L341.5 657.3 L344.5 657.8 L347.5 658.3 L350.5 658.8 L353.5 659.4 L356.5 659.9 L359.5 660.5 L362.5 661.0 L365.5 661.7 L368.5 662.4 L371.5 663.1 L374.5 663.9 L377.5 664.7 L380.5 665.6 L383.5 666.5 L386.5 667.4 L389.5 668.4 L392.5 669.4 L395.5 670.5 L398.5 671.6 L401.5 672.7 L404.5 674.0 L407.5 675.3 L410.5 676.8 L413.5 678.4 L416.5 680.0 L419.5 681.7 L422.5 683.4 L425.5 685.1 L428.5 686.9 L431.5 688.6 L434.5 690.3 L437.5 692.1 L440.5 693.9 L443.5 695.8 L446.5 697.7 L449.5 699.7 L452.5 701.6 L455.5 703.6 L458.5 705.6 L461.5 707.6 L464.5 709.6 L467.5 711.6 L470.5 713.6 L473.5 715.5 L476.5 717.5 L479.5 719.4 L482.5 721.3 L485.5 723.1 L488.5 725.0 L491.5 726.9 L494.5 728.7 L497.5 730.5 L500.5 732.4 L503.5 734.2 L506.5 736.1 L509.5 737.9 L512.5 739.7 L515.5 741.6 L518.5 743.5 L521.5 745.3 L524.5 747.2 L527.5 749.1 L530.5 751.0 L533.5 752.9 L536.5 754.8 L539.5 756.7 L542.5 758.7 L545.5 760.6 L548.5 762.5 L551.5 764.5 L554.5 766.4"/>
<path d="M56.5 478.0 L59.5 477.9 L62.5 477.8 L65.5 477.7 L68.5 477.6 L71.5 477.4 L74.5 477.3 L77.5 477.2 L80.5 477.1 L83.5 477.0 L86.5 476.8 L89.5 476.7 L92.5 476.6 L95.5 476.4 L98.5 476.3 L101.5 476.1 L104.5 476.0 L107.5 475.9 L110.5 475.7 L113.5 475.6 L116.5 475.4 L119.5 475.3 L122.5 475.1 L125.5 475.0 L128.5 474.8 L131.5 474.7 L134.5 474.6 L137.5 474.4 L140.5 474.3 L143.5 474.1 L146.5 474.0 L149.5 473.9 L152.5 473.7 L155.5 473.6 L158.5 473.4 L161.5 473.3 L164.5 473.2 L167.5 473.0 L170.5 472.9 L173.5 472.8 L176.5 472.6 L179.5 472.5 L182.5 472.4 L185.5 472.3 L188.5 472.1 L191.5 472.0 L194.5 471.8 L197.5 471.6 L200.5 471.4 L203.5 471.3 L206.5 471.1 L209.5 470.9 L212.5 470.7 L215.5 470.5 L218.5 470.3 L221.5 470.2 L224.5 470.0 L227.5 469.8 L230.5 469.6 L233.5 469.4 L236.5 469.2 L239.5 469.0 L242.5 468.8 L245.5 468.6 L248.5 468.3 L251.5 468.1 L254.5 467.9 L257.5 467.6 L260.5 467.4 L263.5 467.1 L266.5 466.8 L269.5 466.4 L272.5 466.1 L275.5 465.8 L278.5 465.4 L281.5 465.1 L284.5 464.8 L287.5 464.4 L290.5 464.0 L293.5 463.6 L296.5 463.3 L299.5 462.9 L302.5 462.4 L305.5 462.0 L308.5 461.6 L311.5 461.1 L314.5 460.7 L317.5 460.2 L320.5 459.7 L323.5 459.3 L326.5 458.8 L329.5 458.3 L332.5 457.8 L335.5 457.4 L338.5 456.9 L341.5 456.5 L344.5 456.0 L347.5 455.5 L350.5 455.0 L353.5 454.5 L356.5 454.0 L359.5 453.4 L362.5 452.9 L365.5 452.3 L368.5 451.7 L371.5 451.0 L374.5 450.3 L377.5 449.5 L380.5 448.7 L383.5 447.9 L386.5 447.0 L389.5 446.0 L392.5 445.0 L395.5 444.0 L398.5 443.0 L401.5 441.9 L404.5 440.8 L407.5 439.6 L410.5 438.2 L413.5 436.7 L416.5 435.1 L419.5 433.5 L422.5 431.8 L425.5 430.1 L428.5 428.4 L431.5 426.7 L434.5 425.0 L437.5 423.2 L440.5 421.4 L443.5 419.6 L446.5 417.7 L449.5 415.8 L452.5 413.9 L455.5 411.9 L458.5 409.9 L461.5 408.0 L464.5 406.0 L467.5 404.0 L470.5 402.0 L473.5 400.0 L476.5 398.1 L479.5 396.1 L482.5 394.2 L485.5 392.4 L488.5 390.5 L491.5 388.6 L494.5 386.8 L497.5 385.0 L500.5 383.1 L503.5 381.3 L506.5 379.4 L509.5 377.6 L512.5 375.8 L515.5 373.9 L518.5 372.1 L521.5 370.2 L524.5 368.4 L527.5 366.5 L530.5 364.6 L533.5 362.8 L536.5 360.8 L539.5 358.9 L542.5 357.0 L545.5 355.1 L548.5 353.2 L551.5 351.2 L554.5 349.3"/>
<path d="M56.5 623.0 L59.5 623.1 L62.5 623.2 L65.5 623.3 L68.5 623.4 L71.5 623.6 L74.5 623.7 L77.5 623.8 L80.5 623.9 L83.5 624.0 L86.5 624.2 L89.5 624.3 L92.5 624.4 L95.5 624.6 L98.5 624.7 L101.5 624.9 L104.5 625.0 L107.5 625.1 L110.5 625.3 L113.5 625.4 L116.5 625.6 L119.5 625.7 L122.5 625.9 L125.5 626.0 L128.5 626.2 L131.5 626.3 L134.5 626.4 L137.5 626.6 L140.5 626.7 L143.5 626.9 L146.5 627.0 L149.5 627.1 L152.5 627.3 L155.5 627.4 L158.5 627.6 L161.5 627.7 L164.5 627.8 L167.5 628.0 L170.5 628.1 L173.5 628.2 L176.5 628.4 L179.5 628.5 L182.5 628.6 L185.5 628.7 L188.5 628.9 L191.5 629.0 L194.5 629.2 L197.5 629.4 L200.5 629.6 L203.5 629.7 L206.5 629.9 L209.5 630.1 L212.5 630.3 L215.5 630.5 L218.5 630.7 L221.5 630.8 L224.5 631.0 L227.5 631.2 L230.5 631.4 L233.5 631.6 L236.5 631.8 L239.5 632.0 L242.5 632.2 L245.5 632.4 L248.5 632.7 L251.5 632.9 L254.5 633.1 L257.5 633.4 L260.5 633.6 L263.5 633.9 L266.5 634.2 L269.5 634.6 L272.5 634.9 L275.5 635.2 L278.5 635.6 L281.5 635.9 L284.5 636.2 L287.5 636.6 L290.5 637.0 L293.5 637.4 L296.5 637.7 L299.5 638.1 L302.5 638.6 L305.5 639.0 L308.5 639.4 L311.5 639.9 L314.5 640.3 L317.5 640.8 L320.5 641.3 L323.5 641.7 L326.5 642.2 L329.5 642.7 L332.5 643.2 L335.5 643.6 L338.5 644.1 L341.5 644.5 L344.5 645.0 L347.5 645.5 L350.5 646.0 L353.5 646.5 L356.5 647.0 L359.5 647.6 L362.5 648.1 L365.5 648.7 L368.5 649.3 L371.5 650.0 L374.5 650.7 L377.5 651.5 L380.5 652.3 L383.5 653.1 L386.5 654.0 L389.5 655.0 L392.5 656.0 L395.5 657.0 L398.5 658.0 L401.5 659.1 L404.5 660.2 L407.5 661.4 L410.5 662.8 L413.5 664.3 L416.5 665.9 L419.5 667.5 L422.5 669.2 L425.5 670.9 L428.5 672.6 L431.5 674.3 L434.5 676.0 L437.5 677.8 L440.5 679.6 L443.5 681.4 L446.5 683.3 L449.5 685.2 L452.5 687.1 L455.5 689.1 L458.5 691.1 L461.5 693.0 L464.5 695.0 L467.5 697.0 L470.5 699.0 L473.5 701.0 L476.5 702.9 L479.5 704.9 L482.5 706.8 L485.5 708.6 L488.5 710.5 L491.5 712.4 L494.5 714.2 L497.5 716.0 L500.5 717.9 L503.5 719.7 L506.5 721.6 L509.5 723.4 L512.5 725.2 L515.5 727.1 L518.5 728.9 L521.5 730.8 L524.5 732.6 L527.5 734.5 L530.5 736.4 L533.5 738.2 L536.5 740.2 L539.5 742.1 L542.5 744.0 L545.5 745.9 L548.5 747.8 L551.5 749.8 L554.5 751.7"/>
<path d="M56.5 489.0 L59.5 488.9 L62.5 488.8 L65.5 488.7 L68.5 488.6 L71.5 488.5 L74.5 488.4 L77.5 488.3 L80.5 488.2 L83.5 488.1 L86.5 488.0 L89.5 487.8 L92.5 487.7 L95.5 487.6 L98.5 487.5 L101.5 487.3 L104.5 487.2 L107.5 487.1 L110.5 486.9 L113.5 486.8 L116.5 486.7 L119.5 486.5 L122.5 486.4 L125.5 486.2 L128.5 486.1 L131.5 486.0 L134.5 485.8 L137.5 485.7 L140.5 485.6 L143.5 485.4 L146.5 485.3 L149.5 485.2 L152.5 485.1 L155.5 484.9 L158.5 484.8 L161.5 484.7 L164.5 484.6 L167.5 484.4 L170.5 484.3 L173.5 484.2 L176.5 484.1 L179.5 483.9 L182.5 483.8 L185.5 483.7 L188.5 483.6 L191.5 483.5 L194.5 483.3 L197.5 483.1 L200.5 483.0 L203.5 482.8 L206.5 482.7 L209.5 482.5 L212.5 482.3 L215.5 482.2 L218.5 482.0 L221.5 481.8 L224.5 481.7 L227.5 481.5 L230.5 481.3 L233.5 481.1 L236.5 481.0 L239.5 480.8 L242.5 480.6 L245.5 480.4 L248.5 480.2 L251.5 480.0 L254.5 479.8 L257.5 479.6 L260.5 479.3 L263.5 479.1 L266.5 478.8 L269.5 478.5 L272.5 478.2 L275.5 477.9 L278.5 477.6 L281.5 477.3 L284.5 477.0 L287.5 476.7 L290.5 476.3 L293.5 476.0 L296.5 475.6 L299.5 475.3 L302.5 474.9 L305.5 474.5 L308.5 474.1 L311.5 473.7 L314.5 473.3 L317.5 472.9 L320.5 472.4 L323.5 472.0 L326.5 471.5 L329.5 471.0 L332.5 470.6 L335.5 470.2 L338.5 469.8 L341.5 469.3 L344.5 468.9 L347.5 468.4 L350.5 468.0 L353.5 467.5 L356.5 467.0 L359.5 466.5 L362.5 465.9 L365.5 465.4 L368.5 464.8 L371.5 464.2 L374.5 463.6 L377.5 462.8 L380.5 462.1 L383.5 461.3 L386.5 460.4 L389.5 459.5 L392.5 458.6 L395.5 457.6 L398.5 456.6 L401.5 455.6 L404.5 454.6 L407.5 453.5 L410.5 452.2 L413.5 450.8 L416.5 449.3 L419.5 447.8 L422.5 446.2 L425.5 444.5 L428.5 442.8 L431.5 441.1 L434.5 439.3 L437.5 437.6 L440.5 435.9 L443.5 434.1 L446.5 432.3 L449.5 430.4 L452.5 428.5 L455.5 426.6 L458.5 424.6 L461.5 422.6 L464.5 420.7 L467.5 418.7 L470.5 416.7 L473.5 414.7 L476.5 412.8 L479.5 410.8 L482.5 408.9 L485.5 407.0 L488.5 405.1 L491.5 403.3 L494.5 401.4 L497.5 399.6 L500.5 397.8 L503.5 395.9 L506.5 394.1 L509.5 392.3 L512.5 390.4 L515.5 388.6 L518.5 386.8 L521.5 384.9 L524.5 383.1 L527.5 381.2 L530.5 379.4 L533.5 377.5 L536.5 375.6 L539.5 373.7 L542.5 371.8 L545.5 369.9 L548.5 368.0 L551.5 366.1 L554.5 364.1"/>
<path d="M56.5 612.0 L59.5 612.1 L62.5 612.2 L65.5 612.3 L68.5 612.4 L71.5 612.5 L74.5 612.6 L77.5 612.7 L80.5 612.8 L83.5 612.9 L86.5 613.0 L89.5 613.2 L92.5 613.3 L95.5 613.4 L98.5 613.5 L101.5 613.7 L104.5 613.8 L107.5 613.9 L110.5 614.1 L113.5 614.2 L116.5 614.3 L119.5 614.5 L122.5 614.6 L125.5 614.8 L128.5 614.9 L131.5 615.0 L134.5 615.2 L137.5 615.3 L140.5 615.4 L143.5 615.6 L146.5 615.7 L149.5 615.8 L152.5 615.9 L155.5 616.1 L158.5 616.2 L161.5 616.3 L164.5 616.4 L167.5 616.6 L170.5 616.7 L173.5 616.8 L176.5 616.9 L179.5 617.1 L182.5 617.2 L185.5 617.3 L188.5 617.4 L191.5 617.5 L194.5 617.7 L197.5 617.9 L200.5 618.0 L203.5 618.2 L206.5 618.3 L209.5 618.5 L212.5 618.7 L215.5 618.8 L218.5 619.0 L221.5 619.2 L224.5 619.3 L227.5 619.5 L230.5 619.7 L233.5 619.9 L236.5 620.0 L239.5 620.2 L242.5 620.4 L245.5 620.6 L248.5 620.8 L251.5 621.0 L254.5 621.2 L257.5 621.4 L260.5 621.7 L263.5 621.9 L266.5 622.2 L269.5 622.5 L272.5 622.8 L275.5 623.1 L278.5 623.4 L281.5 623.7 L284.5 624.0 L287.5 624.3 L290.5 624.7 L293.5 625.0 L296.5 625.4 L299.5 625.7 L302.5 626.1 L305.5 626.5 L308.5 626.9 L311.5 627.3 L314.5 627.7 L317.5 628.1 L320.5 628.6 L323.5 629.0 L326.5 629.5 L329.5 630.0 L332.5 630.4 L335.5 630.8 L338.5 631.2 L341.5 631.7 L344.5 632.1 L347.5 632.6 L350.5 633.0 L353.5 633.5 L356.5 634.0 L359.5 634.5 L362.5 635.1 L365.5 635.6 L368.5 636.2 L371.5 636.8 L374.5 637.4 L377.5 638.2 L380.5 638.9 L383.5 639.7 L386.5 640.6 L389.5 641.5 L392.5 642.4 L395.5 643.4 L398.5 644.4 L401.5 645.4 L404.5 646.4 L407.5 647.5 L410.5 648.8 L413.5 650.2 L416.5 651.7 L419.5 653.2 L422.5 654.8 L425.5 656.5 L428.5 658.2 L431.5 659.9 L434.5 661.7 L437.5 663.4 L440.5 665.1 L443.5 666.9 L446.5 668.7 L449.5 670.6 L452.5 672.5 L455.5 674.4 L458.5 676.4 L461.5 678.4 L464.5 680.3 L467.5 682.3 L470.5 684.3 L473.5 686.3 L476.5 688.2 L479.5 690.2 L482.5 692.1 L485.5 694.0 L488.5 695.9 L491.5 697.7 L494.5 699.6 L497.5 701.4 L500.5 703.2 L503.5 705.1 L506.5 706.9 L509.5 708.7 L512.5 710.6 L515.5 712.4 L518.5 714.2 L521.5 716.1 L524.5 717.9 L527.5 719.8 L530.5 721.6 L533.5 723.5 L536.5 725.4 L539.5 727.3 L542.5 729.2 L545.5 731.1 L548.5 733.0 L551.5 734.9 L554.5 736.9"/>
<path d="M56.5 501.0 L59.5 500.9 L62.5 500.9 L65.5 500.8 L68.5 500.7 L71.5 500.6 L74.5 500.5 L77.5 500.5 L80.5 500.4 L83.5 500.2 L86.5 500.1 L89.5 500.0 L92.5 499.9 L95.5 499.7 L98.5 499.6 L101.5 499.5 L104.5 499.4 L107.5 499.2 L110.5 499.1 L113.5 499.0 L116.5 498.8 L119.5 498.7 L122.5 498.6 L125.5 498.4 L128.5 498.3 L131.5 498.1 L134.5 498.0 L137.5 497.9 L140.5 497.8 L143.5 497.7 L146.5 497.5 L149.5 497.4 L152.5 497.3 L155.5 497.2 L158.5 497.1 L161.5 497.0 L164.5 496.8 L167.5 496.7 L170.5 496.6 L173.5 496.5 L176.5 496.4 L179.5 496.3 L182.5 496.2 L185.5 496.1 L188.5 496.0 L191.5 495.8 L194.5 495.7 L197.5 495.6 L200.5 495.4 L203.5 495.3 L206.5 495.1 L209.5 495.0 L212.5 494.8 L215.5 494.7 L218.5 494.5 L221.5 494.4 L224.5 494.3 L227.5 494.1 L230.5 493.9 L233.5 493.8 L236.5 493.6 L239.5 493.5 L242.5 493.3 L245.5 493.1 L248.5 493.0 L251.5 492.8 L254.5 492.6 L257.5 492.4 L260.5 492.2 L263.5 492.0 L266.5 491.7 L269.5 491.5 L272.5 491.2 L275.5 491.0 L278.5 490.7 L281.5 490.4 L284.5 490.1 L287.5 489.8 L290.5 489.5 L293.5 489.2 L296.5 488.9 L299.5 488.6 L302.5 488.2 L305.5 487.9 L308.5 487.5 L311.5 487.2 L314.5 486.8 L317.5 486.4 L320.5 486.0 L323.5 485.6 L326.5 485.2 L329.5 484.7 L332.5 484.3 L335.5 484.0 L338.5 483.6 L341.5 483.1 L344.5 482.7 L347.5 482.3 L350.5 481.8 L353.5 481.4 L356.5 480.9 L359.5 480.4 L362.5 479.9 L365.5 479.4 L368.5 478.9 L371.5 478.3 L374.5 477.7 L377.5 477.1 L380.5 476.4 L383.5 475.6 L386.5 474.8 L389.5 474.0 L392.5 473.1 L395.5 472.2 L398.5 471.2 L401.5 470.3 L404.5 469.3 L407.5 468.2 L410.5 467.1 L413.5 465.9 L416.5 464.5 L419.5 463.0 L422.5 461.5 L425.5 459.9 L428.5 458.2 L431.5 456.5 L434.5 454.8 L437.5 453.1 L440.5 451.4 L443.5 449.6 L446.5 447.9 L449.5 446.0 L452.5 444.2 L455.5 442.3 L458.5 440.3 L461.5 438.4 L464.5 436.4 L467.5 434.5 L470.5 432.5 L473.5 430.5 L476.5 428.5 L479.5 426.6 L482.5 424.6 L485.5 422.7 L488.5 420.9 L491.5 419.0 L494.5 417.1 L497.5 415.3 L500.5 413.5 L503.5 411.6 L506.5 409.8 L509.5 408.0 L512.5 406.2 L515.5 404.3 L518.5 402.5 L521.5 400.7 L524.5 398.9 L527.5 397.0 L530.5 395.2 L533.5 393.3 L536.5 391.5 L539.5 389.6 L542.5 387.7 L545.5 385.8 L548.5 383.9 L551.5 382.0 L554.5 380.1"/>
<path d="M56.5 600.0 L59.5 600.1 L62.5 600.1 L65.5 600.2 L68.5 600.3 L71.5 600.4 L74.5 600.5 L77.5 600.5 L80.5 600.6 L83.5 600.8 L86.5 600.9 L89.5 601.0 L92.5 601.1 L95.5 601.3 L98.5 601.4 L101.5 601.5 L104.5 601.6 L107.5 601.8 L110.5 601.9 L113.5 602.0 L116.5 602.2 L119.5 602.3 L122.5 602.4 L125.5 602.6 L128.5 602.7 L131.5 602.9 L134.5 603.0 L137.5 603.1 L140.5 603.2 L143.5 603.3 L146.5 603.5 L149.5 603.6 L152.5 603.7 L155.5 603.8 L158.5 603.9 L161.5 604.0 L164.5 604.2 L167.5 604.3 L170.5 604.4 L173.5 604.5 L176.5 604.6 L179.5 604.7 L182.5 604.8 L185.5 604.9 L188.5 605.0 L191.5 605.2 L194.5 605.3 L197.5 605.4 L200.5 605.6 L203.5 605.7 L206.5 605.9 L209.5 606.0 L212.5 606.2 L215.5 606.3 L218.5 606.5 L221.5 606.6 L224.5 606.7 L227.5 606.9 L230.5 607.1 L233.5 607.2 L236.5 607.4 L239.5 607.5 L242.5 607.7 L245.5 607.9 L248.5 608.0 L251.5 608.2 L254.5 608.4 L257.5 608.6 L260.5 608.8 L263.5 609.0 L266.5 609.3 L269.5 609.5 L272.5 609.8 L275.5 610.0 L278.5 610.3 L281.5 610.6 L284.5 610.9 L287.5 611.2 L290.5 611.5 L293.5 611.8 L296.5 612.1 L299.5 612.4 L302.5 612.8 L305.5 613.1 L308.5 613.5 L311.5 613.8 L314.5 614.2 L317.5 614.6 L320.5 615.0 L323.5 615.4 L326.5 615.8 L329.5 616.3 L332.5 616.7 L335.5 617.0 L338.5 617.4 L341.5 617.9 L344.5 618.3 L347.5 618.7 L350.5 619.2 L353.5 619.6 L356.5 620.1 L359.5 620.6 L362.5 621.1 L365.5 621.6 L368.5 622.1 L371.5 622.7 L374.5 623.3 L377.5 623.9 L380.5 624.6 L383.5 625.4 L386.5 626.2 L389.5 627.0 L392.5 627.9 L395.5 628.8 L398.5 629.8 L401.5 630.7 L404.5 631.7 L407.5 632.8 L410.5 633.9 L413.5 635.1 L416.5 636.5 L419.5 638.0 L422.5 639.5 L425.5 641.1 L428.5 642.8 L431.5 644.5 L434.5 646.2 L437.5 647.9 L440.5 649.6 L443.5 651.4 L446.5 653.1 L449.5 655.0 L452.5 656.8 L455.5 658.7 L458.5 660.7 L461.5 662.6 L464.5 664.6 L467.5 666.5 L470.5 668.5 L473.5 670.5 L476.5 672.5 L479.5 674.4 L482.5 676.4 L485.5 678.3 L488.5 680.1 L491.5 682.0 L494.5 683.9 L497.5 685.7 L500.5 687.5 L503.5 689.4 L506.5 691.2 L509.5 693.0 L512.5 694.8 L515.5 696.7 L518.5 698.5 L521.5 700.3 L524.5 702.1 L527.5 704.0 L530.5 705.8 L533.5 707.7 L536.5 709.5 L539.5 711.4 L542.5 713.3 L545.5 715.2 L548.5 717.1 L551.5 719.0 L554.5 720.9"/>
<path d="M56.5 512.5 L59.5 512.5 L62.5 512.4 L65.5 512.3 L68.5 512.3 L71.5 512.2 L74.5 512.1 L77.5 512.1 L80.5 512.0 L83.5 511.9 L86.5 511.7 L89.5 511.6 L92.5 511.5 L95.5 511.3 L98.5 511.2 L101.5 511.1 L104.5 510.9 L107.5 510.8 L110.5 510.6 L113.5 510.5 L116.5 510.4 L119.5 510.2 L122.5 510.1 L125.5 509.9 L128.5 509.8 L131.5 509.6 L134.5 509.5 L137.5 509.4 L140.5 509.3 L143.5 509.2 L146.5 509.0 L149.5 508.9 L152.5 508.8 L155.5 508.7 L158.5 508.6 L161.5 508.5 L164.5 508.4 L167.5 508.3 L170.5 508.2 L173.5 508.1 L176.5 508.0 L179.5 507.9 L182.5 507.8 L185.5 507.7 L188.5 507.6 L191.5 507.4 L194.5 507.3 L197.5 507.2 L200.5 507.1 L203.5 506.9 L206.5 506.8 L209.5 506.7 L212.5 506.6 L215.5 506.4 L218.5 506.3 L221.5 506.2 L224.5 506.0 L227.5 505.9 L230.5 505.8 L233.5 505.6 L236.5 505.5 L239.5 505.3 L242.5 505.2 L245.5 505.0 L248.5 504.9 L251.5 504.7 L254.5 504.6 L257.5 504.4 L260.5 504.2 L263.5 504.0 L266.5 503.8 L269.5 503.6 L272.5 503.3 L275.5 503.1 L278.5 502.9 L281.5 502.6 L284.5 502.4 L287.5 502.1 L290.5 501.8 L293.5 501.5 L296.5 501.3 L299.5 501.0 L302.5 500.7 L305.5 500.3 L308.5 500.0 L311.5 499.7 L314.5 499.3 L317.5 499.0 L320.5 498.6 L323.5 498.2 L326.5 497.9 L329.5 497.5 L332.5 497.1 L335.5 496.7 L338.5 496.3 L341.5 495.9 L344.5 495.5 L347.5 495.1 L350.5 494.7 L353.5 494.3 L356.5 493.8 L359.5 493.3 L362.5 492.9 L365.5 492.4 L368.5 491.9 L371.5 491.4 L374.5 490.8 L377.5 490.2 L380.5 489.6 L383.5 488.9 L386.5 488.1 L389.5 487.4 L392.5 486.5 L395.5 485.7 L398.5 484.8 L401.5 483.8 L404.5 482.9 L407.5 481.9 L410.5 480.8 L413.5 479.7 L416.5 478.5 L419.5 477.1 L422.5 475.6 L425.5 474.1 L428.5 472.5 L431.5 470.8 L434.5 469.1 L437.5 467.4 L440.5 465.7 L443.5 464.0 L446.5 462.3 L449.5 460.5 L452.5 458.7 L455.5 456.8 L458.5 454.9 L461.5 453.0 L464.5 451.1 L467.5 449.1 L470.5 447.1 L473.5 445.2 L476.5 443.2 L479.5 441.2 L482.5 439.3 L485.5 437.4 L488.5 435.5 L491.5 433.6 L494.5 431.7 L497.5 429.9 L500.5 428.1 L503.5 426.2 L506.5 424.4 L509.5 422.6 L512.5 420.8 L515.5 419.0 L518.5 417.2 L521.5 415.3 L524.5 413.5 L527.5 411.7 L530.5 409.9 L533.5 408.0 L536.5 406.2 L539.5 404.3 L542.5 402.4 L545.5 400.6 L548.5 398.7 L551.5 396.8 L554.5 394.9"/>
<path d="M56.5 588.5 L59.5 588.5 L62.5 588.6 L65.5 588.7 L68.5 588.7 L71.5 588.8 L74.5 588.9 L77.5 588.9 L80.5 589.0 L83.5 589.1 L86.5 589.3 L89.5 589.4 L92.5 589.5 L95.5 589.7 L98.5 589.8 L101.5 589.9 L104.5 590.1 L107.5 590.2 L110.5 590.4 L113.5 590.5 L116.5 590.6 L119.5 590.8 L122.5 590.9 L125.5 591.1 L128.5 591.2 L131.5 591.4 L134.5 591.5 L137.5 591.6 L140.5 591.7 L143.5 591.8 L146.5 592.0 L149.5 592.1 L152.5 592.2 L155.5 592.3 L158.5 592.4 L161.5 592.5 L164.5 592.6 L167.5 592.7 L170.5 592.8 L173.5 592.9 L176.5 593.0 L179.5 593.1 L182.5 593.2 L185.5 593.3 L188.5 593.4 L191.5 593.6 L194.5 593.7 L197.5 593.8 L200.5 593.9 L203.5 594.1 L206.5 594.2 L209.5 594.3 L212.5 594.4 L215.5 594.6 L218.5 594.7 L221.5 594.8 L224.5 595.0 L227.5 595.1 L230.5 595.2 L233.5 595.4 L236.5 595.5 L239.5 595.7 L242.5 595.8 L245.5 596.0 L248.5 596.1 L251.5 596.3 L254.5 596.4 L257.5 596.6 L260.5 596.8 L263.5 597.0 L266.5 597.2 L269.5 597.4 L272.5 597.7 L275.5 597.9 L278.5 598.1 L281.5 598.4 L284.5 598.6 L287.5 598.9 L290.5 599.2 L293.5 599.5 L296.5 599.7 L299.5 600.0 L302.5 600.3 L305.5 600.7 L308.5 601.0 L311.5 601.3 L314.5 601.7 L317.5 602.0 L320.5 602.4 L323.5 602.8 L326.5 603.1 L329.5 603.5 L332.5 603.9 L335.5 604.3 L338.5 604.7 L341.5 605.1 L344.5 605.5 L347.5 605.9 L350.5 606.3 L353.5 606.7 L356.5 607.2 L359.5 607.7 L362.5 608.1 L365.5 608.6 L368.5 609.1 L371.5 609.6 L374.5 610.2 L377.5 610.8 L380.5 611.4 L383.5 612.1 L386.5 612.9 L389.5 613.6 L392.5 614.5 L395.5 615.3 L398.5 616.2 L401.5 617.2 L404.5 618.1 L407.5 619.1 L410.5 620.2 L413.5 621.3 L416.5 622.5 L419.5 623.9 L422.5 625.4 L425.5 626.9 L428.5 628.5 L431.5 630.2 L434.5 631.9 L437.5 633.6 L440.5 635.3 L443.5 637.0 L446.5 638.7 L449.5 640.5 L452.5 642.3 L455.5 644.2 L458.5 646.1 L461.5 648.0 L464.5 649.9 L467.5 651.9 L470.5 653.9 L473.5 655.8 L476.5 657.8 L479.5 659.8 L482.5 661.7 L485.5 663.6 L488.5 665.5 L491.5 667.4 L494.5 669.3 L497.5 671.1 L500.5 672.9 L503.5 674.8 L506.5 676.6 L509.5 678.4 L512.5 680.2 L515.5 682.0 L518.5 683.8 L521.5 685.7 L524.5 687.5 L527.5 689.3 L530.5 691.1 L533.5 693.0 L536.5 694.8 L539.5 696.7 L542.5 698.6 L545.5 700.4 L548.5 702.3 L551.5 704.2 L554.5 706.1"/>
<path d="M56.5 524.5 L59.5 524.5 L62.5 524.4 L65.5 524.4 L68.5 524.3 L71.5 524.3 L74.5 524.2 L77.5 524.2 L80.5 524.1 L83.5 524.0 L86.5 523.8 L89.5 523.7 L92.5 523.5 L95.5 523.3 L98.5 523.2 L101.5 523.0 L104.5 522.8 L107.5 522.7 L110.5 522.5 L113.5 522.3 L116.5 522.2 L119.5 522.0 L122.5 521.8 L125.5 521.7 L128.5 521.5 L131.5 521.3 L134.5 521.1 L137.5 521.0 L140.5 520.9 L143.5 520.8 L146.5 520.7 L149.5 520.6 L152.5 520.5 L155.5 520.4 L158.5 520.2 L161.5 520.1 L164.5 520.0 L167.5 519.9 L170.5 519.8 L173.5 519.7 L176.5 519.6 L179.5 519.5 L182.5 519.4 L185.5 519.3 L188.5 519.2 L191.5 519.1 L194.5 519.0 L197.5 518.8 L200.5 518.7 L203.5 518.6 L206.5 518.5 L209.5 518.4 L212.5 518.3 L215.5 518.1 L218.5 518.0 L221.5 517.9 L224.5 517.8 L227.5 517.6 L230.5 517.5 L233.5 517.4 L236.5 517.3 L239.5 517.1 L242.5 517.0 L245.5 516.9 L248.5 516.7 L251.5 516.6 L254.5 516.4 L257.5 516.3 L260.5 516.1 L263.5 515.9 L266.5 515.7 L269.5 515.5 L272.5 515.3 L275.5 515.1 L278.5 514.9 L281.5 514.7 L284.5 514.4 L287.5 514.2 L290.5 513.9 L293.5 513.7 L296.5 513.4 L299.5 513.1 L302.5 512.9 L305.5 512.6 L308.5 512.3 L311.5 512.0 L314.5 511.7 L317.5 511.4 L320.5 511.0 L323.5 510.7 L326.5 510.3 L329.5 510.0 L332.5 509.6 L335.5 509.3 L338.5 508.9 L341.5 508.5 L344.5 508.1 L347.5 507.7 L350.5 507.3 L353.5 506.9 L356.5 506.5 L359.5 506.0 L362.5 505.6 L365.5 505.1 L368.5 504.6 L371.5 504.1 L374.5 503.6 L377.5 503.1 L380.5 502.5 L383.5 501.9 L386.5 501.2 L389.5 500.4 L392.5 499.7 L395.5 498.8 L398.5 498.0 L401.5 497.1 L404.5 496.2 L407.5 495.2 L410.5 494.2 L413.5 493.2 L416.5 492.1 L419.5 490.8 L422.5 489.4 L425.5 488.0 L428.5 486.4 L431.5 484.8 L434.5 483.2 L437.5 481.5 L440.5 479.8 L443.5 478.1 L446.5 476.4 L449.5 474.7 L452.5 472.9 L455.5 471.1 L458.5 469.3 L461.5 467.4 L464.5 465.5 L467.5 463.5 L470.5 461.6 L473.5 459.6 L476.5 457.6 L479.5 455.7 L482.5 453.7 L485.5 451.8 L488.5 449.9 L491.5 448.0 L494.5 446.1 L497.5 444.3 L500.5 442.4 L503.5 440.6 L506.5 438.8 L509.5 437.0 L512.5 435.1 L515.5 433.3 L518.5 431.5 L521.5 429.7 L524.5 427.9 L527.5 426.1 L530.5 424.3 L533.5 422.5 L536.5 420.6 L539.5 418.8 L542.5 416.9 L545.5 415.1 L548.5 413.2 L551.5 411.3 L554.5 409.4"/>
<path d="M56.5 576.5 L59.5 576.5 L62.5 576.6 L65.5 576.6 L68.5 576.7 L71.5 576.7 L74.5 576.8 L77.5 576.8 L80.5 576.9 L83.5 577.0 L86.5 577.2 L89.5 577.3 L92.5 577.5 L95.5 577.7 L98.5 577.8 L101.5 578.0 L104.5 578.2 L107.5 578.3 L110.5 578.5 L113.5 578.7 L116.5 578.8 L119.5 579.0 L122.5 579.2 L125.5 579.3 L128.5 579.5 L131.5 579.7 L134.5 579.9 L137.5 580.0 L140.5 580.1 L143.5 580.2 L146.5 580.3 L149.5 580.4 L152.5 580.5 L155.5 580.6 L158.5 580.8 L161.5 580.9 L164.5 581.0 L167.5 581.1 L170.5 581.2 L173.5 581.3 L176.5 581.4 L179.5 581.5 L182.5 581.6 L185.5 581.7 L188.5 581.8 L191.5 581.9 L194.5 582.0 L197.5 582.2 L200.5 582.3 L203.5 582.4 L206.5 582.5 L209.5 582.6 L212.5 582.7 L215.5 582.9 L218.5 583.0 L221.5 583.1 L224.5 583.2 L227.5 583.4 L230.5 583.5 L233.5 583.6 L236.5 583.7 L239.5 583.9 L242.5 584.0 L245.5 584.1 L248.5 584.3 L251.5 584.4 L254.5 584.6 L257.5 584.7 L260.5 584.9 L263.5 585.1 L266.5 585.3 L269.5 585.5 L272.5 585.7 L275.5 585.9 L278.5 586.1 L281.5 586.3 L284.5 586.6 L287.5 586.8 L290.5 587.1 L293.5 587.3 L296.5 587.6 L299.5 587.9 L302.5 588.1 L305.5 588.4 L308.5 588.7 L311.5 589.0 L314.5 589.3 L317.5 589.6 L320.5 590.0 L323.5 590.3 L326.5 590.7 L329.5 591.0 L332.5 591.4 L335.5 591.7 L338.5 592.1 L341.5 592.5 L344.5 592.9 L347.5 593.3 L350.5 593.7 L353.5 594.1 L356.5 594.5 L359.5 595.0 L362.5 595.4 L365.5 595.9 L368.5 596.4 L371.5 596.9 L374.5 597.4 L377.5 597.9 L380.5 598.5 L383.5 599.1 L386.5 599.8 L389.5 600.6 L392.5 601.3 L395.5 602.2 L398.5 603.0 L401.5 603.9 L404.5 604.8 L407.5 605.8 L410.5 606.8 L413.5 607.8 L416.5 608.9 L419.5 610.2 L422.5 611.6 L425.5 613.0 L428.5 614.6 L431.5 616.2 L434.5 617.8 L437.5 619.5 L440.5 621.2 L443.5 622.9 L446.5 624.6 L449.5 626.3 L452.5 628.1 L455.5 629.9 L458.5 631.7 L461.5 633.6 L464.5 635.5 L467.5 637.5 L470.5 639.4 L473.5 641.4 L476.5 643.4 L479.5 645.3 L482.5 647.3 L485.5 649.2 L488.5 651.1 L491.5 653.0 L494.5 654.9 L497.5 656.7 L500.5 658.6 L503.5 660.4 L506.5 662.2 L509.5 664.0 L512.5 665.9 L515.5 667.7 L518.5 669.5 L521.5 671.3 L524.5 673.1 L527.5 674.9 L530.5 676.7 L533.5 678.5 L536.5 680.4 L539.5 682.2 L542.5 684.1 L545.5 685.9 L548.5 687.8 L551.5 689.7 L554.5 691.6"/>
<path d="M56.5 536.3 L59.5 536.3 L62.5 536.3 L65.5 536.2 L68.5 536.2 L71.5 536.2 L74.5 536.1 L77.5 536.1 L80.5 536.0 L83.5 535.8 L86.5 535.6 L89.5 535.4 L92.5 535.2 L95.5 534.9 L98.5 534.7 L101.5 534.5 L104.5 534.3 L107.5 534.0 L110.5 533.8 L113.5 533.6 L116.5 533.3 L119.5 533.1 L122.5 532.9 L125.5 532.6 L128.5 532.4 L131.5 532.2 L134.5 531.9 L137.5 531.8 L140.5 531.7 L143.5 531.6 L146.5 531.4 L149.5 531.3 L152.5 531.2 L155.5 531.1 L158.5 531.0 L161.5 530.8 L164.5 530.7 L167.5 530.6 L170.5 530.5 L173.5 530.4 L176.5 530.3 L179.5 530.1 L182.5 530.0 L185.5 529.9 L188.5 529.8 L191.5 529.7 L194.5 529.6 L197.5 529.4 L200.5 529.3 L203.5 529.2 L206.5 529.1 L209.5 529.0 L212.5 528.8 L215.5 528.7 L218.5 528.6 L221.5 528.5 L224.5 528.3 L227.5 528.2 L230.5 528.1 L233.5 527.9 L236.5 527.8 L239.5 527.7 L242.5 527.5 L245.5 527.4 L248.5 527.3 L251.5 527.1 L254.5 527.0 L257.5 526.8 L260.5 526.7 L263.5 526.5 L266.5 526.3 L269.5 526.1 L272.5 525.9 L275.5 525.7 L278.5 525.5 L281.5 525.3 L284.5 525.1 L287.5 524.8 L290.5 524.6 L293.5 524.4 L296.5 524.1 L299.5 523.9 L302.5 523.6 L305.5 523.3 L308.5 523.1 L311.5 522.8 L314.5 522.5 L317.5 522.2 L320.5 521.9 L323.5 521.6 L326.5 521.3 L329.5 520.9 L332.5 520.6 L335.5 520.2 L338.5 519.9 L341.5 519.5 L344.5 519.1 L347.5 518.8 L350.5 518.4 L353.5 517.9 L356.5 517.5 L359.5 517.1 L362.5 516.6 L365.5 516.2 L368.5 515.7 L371.5 515.2 L374.5 514.7 L377.5 514.2 L380.5 513.7 L383.5 513.1 L386.5 512.4 L389.5 511.8 L392.5 511.0 L395.5 510.2 L398.5 509.4 L401.5 508.6 L404.5 507.7 L407.5 506.7 L410.5 505.8 L413.5 504.8 L416.5 503.7 L419.5 502.6 L422.5 501.3 L425.5 500.0 L428.5 498.5 L431.5 497.0 L434.5 495.4 L437.5 493.8 L440.5 492.1 L443.5 490.4 L446.5 488.7 L449.5 487.0 L452.5 485.3 L455.5 483.5 L458.5 481.7 L461.5 479.9 L464.5 478.0 L467.5 476.1 L470.5 474.2 L473.5 472.2 L476.5 470.3 L479.5 468.3 L482.5 466.4 L485.5 464.4 L488.5 462.5 L491.5 460.6 L494.5 458.7 L497.5 456.8 L500.5 455.0 L503.5 453.1 L506.5 451.3 L509.5 449.5 L512.5 447.7 L515.5 445.9 L518.5 444.1 L521.5 442.3 L524.5 440.5 L527.5 438.7 L530.5 436.9 L533.5 435.1 L536.5 433.3 L539.5 431.5 L542.5 429.6 L545.5 427.8 L548.5 425.9 L551.5 424.0 L554.5 422.2"/>
<path d="M56.5 564.7 L59.5 564.7 L62.5 564.7 L65.5 564.8 L68.5 564.8 L71.5 564.8 L74.5 564.9 L77.5 564.9 L80.5 565.0 L83.5 565.2 L86.5 565.4 L89.5 565.6 L92.5 565.8 L95.5 566.1 L98.5 566.3 L101.5 566.5 L104.5 566.7 L107.5 567.0 L110.5 567.2 L113.5 567.4 L116.5 567.7 L119.5 567.9 L122.5 568.1 L125.5 568.4 L128.5 568.6 L131.5 568.8 L134.5 569.1 L137.5 569.2 L140.5 569.3 L143.5 569.4 L146.5 569.6 L149.5 569.7 L152.5 569.8 L155.5 569.9 L158.5 570.0 L161.5 570.2 L164.5 570.3 L167.5 570.4 L170.5 570.5 L173.5 570.6 L176.5 570.7 L179.5 570.9 L182.5 571.0 L185.5 571.1 L188.5 571.2 L191.5 571.3 L194.5 571.4 L197.5 571.6 L200.5 571.7 L203.5 571.8 L206.5 571.9 L209.5 572.0 L212.5 572.2 L215.5 572.3 L218.5 572.4 L221.5 572.5 L224.5 572.7 L227.5 572.8 L230.5 572.9 L233.5 573.1 L236.5 573.2 L239.5 573.3 L242.5 573.5 L245.5 573.6 L248.5 573.7 L251.5 573.9 L254.5 574.0 L257.5 574.2 L260.5 574.3 L263.5 574.5 L266.5 574.7 L269.5 574.9 L272.5 575.1 L275.5 575.3 L278.5 575.5 L281.5 575.7 L284.5 575.9 L287.5 576.2 L290.5 576.4 L293.5 576.6 L296.5 576.9 L299.5 577.1 L302.5 577.4 L305.5 577.7 L308.5 577.9 L311.5 578.2 L314.5 578.5 L317.5 578.8 L320.5 579.1 L323.5 579.4 L326.5 579.7 L329.5 580.1 L332.5 580.4 L335.5 580.8 L338.5 581.1 L341.5 581.5 L344.5 581.9 L347.5 582.2 L350.5 582.6 L353.5 583.1 L356.5 583.5 L359.5 583.9 L362.5 584.4 L365.5 584.8 L368.5 585.3 L371.5 585.8 L374.5 586.3 L377.5 586.8 L380.5 587.3 L383.5 587.9 L386.5 588.6 L389.5 589.2 L392.5 590.0 L395.5 590.8 L398.5 591.6 L401.5 592.4 L404.5 593.3 L407.5 594.3 L410.5 595.2 L413.5 596.2 L416.5 597.3 L419.5 598.4 L422.5 599.7 L425.5 601.0 L428.5 602.5 L431.5 604.0 L434.5 605.6 L437.5 607.2 L440.5 608.9 L443.5 610.6 L446.5 612.3 L449.5 614.0 L452.5 615.7 L455.5 617.5 L458.5 619.3 L461.5 621.1 L464.5 623.0 L467.5 624.9 L470.5 626.8 L473.5 628.8 L476.5 630.7 L479.5 632.7 L482.5 634.6 L485.5 636.6 L488.5 638.5 L491.5 640.4 L494.5 642.3 L497.5 644.2 L500.5 646.0 L503.5 647.9 L506.5 649.7 L509.5 651.5 L512.5 653.3 L515.5 655.1 L518.5 656.9 L521.5 658.7 L524.5 660.5 L527.5 662.3 L530.5 664.1 L533.5 665.9 L536.5 667.7 L539.5 669.5 L542.5 671.4 L545.5 673.2 L548.5 675.1 L551.5 677.0 L554.5 678.8"/>
<path d="M56.5 546.3 L59.5 546.3 L62.5 546.3 L65.5 546.3 L68.5 546.3 L71.5 546.2 L74.5 546.2 L77.5 546.2 L80.5 546.1 L83.5 545.8 L86.5 545.5 L89.5 545.2 L92.5 544.9 L95.5 544.5 L98.5 544.2 L101.5 543.9 L104.5 543.6 L107.5 543.2 L110.5 542.9 L113.5 542.6 L116.5 542.2 L119.5 541.9 L122.5 541.6 L125.5 541.2 L128.5 540.9 L131.5 540.6 L134.5 540.2 L137.5 540.1 L140.5 539.9 L143.5 539.8 L146.5 539.6 L149.5 539.5 L152.5 539.3 L155.5 539.2 L158.5 539.1 L161.5 538.9 L164.5 538.8 L167.5 538.6 L170.5 538.5 L173.5 538.3 L176.5 538.2 L179.5 538.1 L182.5 537.9 L185.5 537.8 L188.5 537.6 L191.5 537.5 L194.5 537.4 L197.5 537.2 L200.5 537.1 L203.5 536.9 L206.5 536.8 L209.5 536.7 L212.5 536.5 L215.5 536.4 L218.5 536.2 L221.5 536.1 L224.5 536.0 L227.5 535.8 L230.5 535.7 L233.5 535.5 L236.5 535.4 L239.5 535.2 L242.5 535.1 L245.5 534.9 L248.5 534.7 L251.5 534.6 L254.5 534.4 L257.5 534.3 L260.5 534.1 L263.5 533.9 L266.5 533.7 L269.5 533.5 L272.5 533.3 L275.5 533.1 L278.5 532.9 L281.5 532.7 L284.5 532.4 L287.5 532.2 L290.5 532.0 L293.5 531.7 L296.5 531.4 L299.5 531.2 L302.5 530.9 L305.5 530.7 L308.5 530.4 L311.5 530.2 L314.5 529.9 L317.5 529.6 L320.5 529.3 L323.5 529.0 L326.5 528.7 L329.5 528.4 L332.5 528.0 L335.5 527.7 L338.5 527.3 L341.5 527.0 L344.5 526.6 L347.5 526.2 L350.5 525.8 L353.5 525.4 L356.5 524.9 L359.5 524.5 L362.5 524.1 L365.5 523.6 L368.5 523.1 L371.5 522.6 L374.5 522.2 L377.5 521.7 L380.5 521.1 L383.5 520.6 L386.5 519.9 L389.5 519.3 L392.5 518.6 L395.5 517.8 L398.5 517.0 L401.5 516.2 L404.5 515.3 L407.5 514.4 L410.5 513.4 L413.5 512.4 L416.5 511.4 L419.5 510.3 L422.5 509.2 L425.5 508.0 L428.5 506.6 L431.5 505.1 L434.5 503.6 L437.5 502.0 L440.5 500.3 L443.5 498.7 L446.5 497.0 L449.5 495.3 L452.5 493.6 L455.5 491.9 L458.5 490.1 L461.5 488.3 L464.5 486.5 L467.5 484.6 L470.5 482.7 L473.5 480.8 L476.5 478.8 L479.5 476.9 L482.5 474.9 L485.5 473.0 L488.5 471.1 L491.5 469.1 L494.5 467.2 L497.5 465.3 L500.5 463.5 L503.5 461.7 L506.5 459.8 L509.5 458.0 L512.5 456.2 L515.5 454.4 L518.5 452.6 L521.5 450.8 L524.5 449.0 L527.5 447.2 L530.5 445.5 L533.5 443.7 L536.5 441.8 L539.5 440.0 L542.5 438.2 L545.5 436.4 L548.5 434.5 L551.5 432.7 L554.5 430.8"/>
<path d="M56.5 554.7 L59.5 554.7 L62.5 554.7 L65.5 554.7 L68.5 554.7 L71.5 554.8 L74.5 554.8 L77.5 554.8 L80.5 554.9 L83.5 555.2 L86.5 555.5 L89.5 555.8 L92.5 556.1 L95.5 556.5 L98.5 556.8 L101.5 557.1 L104.5 557.4 L107.5 557.8 L110.5 558.1 L113.5 558.4 L116.5 558.8 L119.5 559.1 L122.5 559.4 L125.5 559.8 L128.5 560.1 L131.5 560.4 L134.5 560.8 L137.5 560.9 L140.5 561.1 L143.5 561.2 L146.5 561.4 L149.5 561.5 L152.5 561.7 L155.5 561.8 L158.5 561.9 L161.5 562.1 L164.5 562.2 L167.5 562.4 L170.5 562.5 L173.5 562.7 L176.5 562.8 L179.5 562.9 L182.5 563.1 L185.5 563.2 L188.5 563.4 L191.5 563.5 L194.5 563.6 L197.5 563.8 L200.5 563.9 L203.5 564.1 L206.5 564.2 L209.5 564.3 L212.5 564.5 L215.5 564.6 L218.5 564.8 L221.5 564.9 L224.5 565.0 L227.5 565.2 L230.5 565.3 L233.5 565.5 L236.5 565.6 L239.5 565.8 L242.5 565.9 L245.5 566.1 L248.5 566.3 L251.5 566.4 L254.5 566.6 L257.5 566.7 L260.5 566.9 L263.5 567.1 L266.5 567.3 L269.5 567.5 L272.5 567.7 L275.5 567.9 L278.5 568.1 L281.5 568.3 L284.5 568.6 L287.5 568.8 L290.5 569.0 L293.5 569.3 L296.5 569.6 L299.5 569.8 L302.5 570.1 L305.5 570.3 L308.5 570.6 L311.5 570.8 L314.5 571.1 L317.5 571.4 L320.5 571.7 L323.5 572.0 L326.5 572.3 L329.5 572.6 L332.5 573.0 L335.5 573.3 L338.5 573.7 L341.5 574.0 L344.5 574.4 L347.5 574.8 L350.5 575.2 L353.5 575.6 L356.5 576.1 L359.5 576.5 L362.5 576.9 L365.5 577.4 L368.5 577.9 L371.5 578.4 L374.5 578.8 L377.5 579.3 L380.5 579.9 L383.5 580.4 L386.5 581.1 L389.5 581.7 L392.5 582.4 L395.5 583.2 L398.5 584.0 L401.5 584.8 L404.5 585.7 L407.5 586.6 L410.5 587.6 L413.5 588.6 L416.5 589.6 L419.5 590.7 L422.5 591.8 L425.5 593.0 L428.5 594.4 L431.5 595.9 L434.5 597.4 L437.5 599.0 L440.5 600.7 L443.5 602.3 L446.5 604.0 L449.5 605.7 L452.5 607.4 L455.5 609.1 L458.5 610.9 L461.5 612.7 L464.5 614.5 L467.5 616.4 L470.5 618.3 L473.5 620.2 L476.5 622.2 L479.5 624.1 L482.5 626.1 L485.5 628.0 L488.5 629.9 L491.5 631.9 L494.5 633.8 L497.5 635.7 L500.5 637.5 L503.5 639.3 L506.5 641.2 L509.5 643.0 L512.5 644.8 L515.5 646.6 L518.5 648.4 L521.5 650.2 L524.5 652.0 L527.5 653.8 L530.5 655.5 L533.5 657.3 L536.5 659.2 L539.5 661.0 L542.5 662.8 L545.5 664.6 L548.5 666.5 L551.5 668.3 L554.5 670.2"/>
<path d="M240.0 538.5 C233.3 539.1 215.0 540.9 200.0 542.0 C185.0 543.1 165.7 544.2 150.0 545.0 C134.3 545.8 114.3 545.6 106.0 546.5 C97.7 547.4 100.0 549.2 100.0 550.5 C100.0 551.8 97.7 553.6 106.0 554.5 C114.3 555.4 134.3 555.2 150.0 556.0 C165.7 556.8 185.0 557.9 200.0 559.0 C215.0 560.1 233.3 561.9 240.0 562.5"/>
<path d="M450.0 524.0 C445.0 525.3 431.7 529.8 420.0 532.0 C408.3 534.2 393.3 535.7 380.0 537.0 C366.7 538.3 353.3 539.0 340.0 540.0 C326.7 541.0 314.7 541.8 300.0 543.0 C285.3 544.2 261.2 546.2 252.0 547.5 C242.8 548.8 245.0 549.5 245.0 550.5 C245.0 551.5 242.8 552.2 252.0 553.5 C261.2 554.8 285.3 556.8 300.0 558.0 C314.7 559.2 326.7 560.0 340.0 561.0 C353.3 562.0 366.7 562.7 380.0 564.0 C393.3 565.3 408.3 566.8 420.0 569.0 C431.7 571.2 445.0 575.7 450.0 577.0"/>
<path d="M300.0 542.5 C316.7 541.8 376.7 540.5 400.0 538.5 C423.3 536.5 428.3 534.2 440.0 530.5 C451.7 526.8 460.0 522.4 470.0 516.0 C480.0 509.6 486.2 503.0 500.0 492.0 C513.8 481.0 544.2 457.0 553.0 450.0"/>
<path d="M300.0 558.5 C316.7 559.2 376.7 560.5 400.0 562.5 C423.3 564.5 428.3 566.8 440.0 570.5 C451.7 574.2 460.0 578.6 470.0 585.0 C480.0 591.4 486.2 598.0 500.0 609.0 C513.8 620.0 544.2 644.0 553.0 651.0"/>
<path d="M615.9 410.5 L612.1 413.5 L608.4 416.5 L604.6 419.5 L600.9 422.5 L597.1 425.5 L593.4 428.5 L589.6 431.5 L585.9 434.5 L582.1 437.5 L578.4 440.5 L574.6 443.5 L570.9 446.5 L567.1 449.5 L563.4 452.5 L559.6 455.5 L555.9 458.5 L552.2 461.5 L548.4 464.5 L544.7 467.5 L541.0 470.5 L537.3 473.5 L533.6 476.5 L530.0 479.5 L526.4 482.5 L522.8 485.5 L519.3 488.5 L515.9 491.5 L512.6 494.5 L509.5 497.5 L506.6 500.5 L503.9 503.5 L501.4 506.5 L499.3 509.5 L497.5 512.5 L496.0 515.5 L494.7 518.5 L493.8 521.5 L493.0 524.5 L492.5 527.5 L492.0 530.5 L491.7 533.5 L491.5 536.5 L491.3 539.5 L491.2 542.5 L491.1 545.5 L491.0 548.5 L491.0 551.5 L491.1 554.5 L491.2 557.5 L491.3 560.5 L491.4 563.5 L491.6 566.5 L491.9 569.5 L492.3 572.5 L492.8 575.5 L493.5 578.5 L494.4 581.5 L495.5 584.5 L496.9 587.5 L498.7 590.5 L500.7 593.5 L503.0 596.5 L505.6 599.5 L508.5 602.5 L511.6 605.5 L514.8 608.5 L518.2 611.5 L521.6 614.5 L525.2 617.5 L528.8 620.5 L532.4 623.5 L536.1 626.5 L539.8 629.5 L543.5 632.5 L547.2 635.5 L550.9 638.5 L554.7 641.5 L558.4 644.5 L562.1 647.5 L565.9 650.5 L569.6 653.5 L573.4 656.5 L577.1 659.5 L580.9 662.5 L584.6 665.5 L588.4 668.5 L592.1 671.5 L595.9 674.5 L599.6 677.5 L603.4 680.5 L607.1 683.5 L610.9 686.5 L614.6 689.5"/>
<path d="M619.2 410.5 L615.5 413.5 L611.7 416.5 L608.0 419.5 L604.2 422.5 L600.5 425.5 L596.7 428.5 L593.0 431.5 L589.2 434.5 L585.5 437.5 L581.8 440.5 L578.0 443.5 L574.3 446.5 L570.5 449.5 L566.8 452.5 L563.1 455.5 L559.4 458.5 L555.7 461.5 L552.1 464.5 L548.5 467.5 L544.9 470.5 L541.4 473.5 L538.0 476.5 L534.7 479.5 L531.6 482.5 L528.7 485.5 L526.0 488.5 L523.5 491.5 L521.4 494.5 L519.6 497.5 L518.1 500.5 L516.8 503.5 L515.9 506.5 L515.1 509.5 L514.6 512.5 L514.1 515.5 L513.8 518.5 L513.6 521.5 L513.4 524.5 L513.3 527.5 L513.2 530.5 L513.1 533.5 L513.1 536.5 L513.1 539.5 L513.0 542.5 L513.0 545.5 L513.0 548.5 L513.0 551.5 L513.0 554.5 L513.0 557.5 L513.1 560.5 L513.1 563.5 L513.1 566.5 L513.2 569.5 L513.3 572.5 L513.4 575.5 L513.5 578.5 L513.7 581.5 L514.0 584.5 L514.4 587.5 L514.9 590.5 L515.6 593.5 L516.5 596.5 L517.6 599.5 L519.1 602.5 L520.8 605.5 L522.8 608.5 L525.1 611.5 L527.7 614.5 L530.6 617.5 L533.7 620.5 L536.9 623.5 L540.3 626.5 L543.7 629.5 L547.3 632.5 L550.9 635.5 L554.5 638.5 L558.2 641.5 L561.9 644.5 L565.6 647.5 L569.3 650.5 L573.0 653.5 L576.8 656.5 L580.5 659.5 L584.2 662.5 L588.0 665.5 L591.7 668.5 L595.5 671.5 L599.2 674.5 L603.0 677.5 L606.7 680.5 L610.5 683.5 L614.2 686.5 L618.0 689.5"/>
<path d="M618.0 410.5 L614.2 413.5 L610.5 416.5 L606.8 419.5 L603.0 422.5 L599.3 425.5 L595.5 428.5 L591.8 431.5 L588.0 434.5 L584.3 437.5 L580.6 440.5 L576.9 443.5 L573.2 446.5 L569.5 449.5 L565.9 452.5 L562.3 455.5 L558.7 458.5 L555.3 461.5 L551.9 464.5 L548.7 467.5 L545.6 470.5 L542.8 473.5 L540.2 476.5 L537.8 479.5 L535.8 482.5 L534.1 485.5 L532.7 488.5 L531.5 491.5 L530.6 494.5 L529.9 497.5 L529.4 500.5 L529.0 503.5 L528.7 506.5 L528.5 509.5 L528.4 512.5 L528.3 515.5 L528.2 518.5 L528.1 521.5 L528.1 524.5 L528.1 527.5 L528.0 530.5 L528.0 533.5 L528.0 536.5 L528.0 539.5 L528.0 542.5 L528.0 545.5 L528.0 548.5 L528.0 551.5 L528.0 554.5 L528.0 557.5 L528.0 560.5 L528.0 563.5 L528.0 566.5 L528.0 569.5 L528.1 572.5 L528.1 575.5 L528.1 578.5 L528.2 581.5 L528.2 584.5 L528.3 587.5 L528.5 590.5 L528.7 593.5 L528.9 596.5 L529.3 599.5 L529.8 602.5 L530.4 605.5 L531.2 608.5 L532.2 611.5 L533.6 614.5 L535.2 617.5 L537.1 620.5 L539.3 623.5 L541.9 626.5 L544.6 629.5 L547.6 632.5 L550.8 635.5 L554.2 638.5 L557.6 641.5 L561.1 644.5 L564.7 647.5 L568.3 650.5 L572.0 653.5 L575.7 656.5 L579.4 659.5 L583.1 662.5 L586.8 665.5 L590.5 668.5 L594.3 671.5 L598.0 674.5 L601.8 677.5 L605.5 680.5 L609.3 683.5 L613.0 686.5 L616.7 689.5"/>
<path d="M617.0 410.5 L613.3 413.5 L609.5 416.5 L605.8 419.5 L602.1 422.5 L598.3 425.5 L594.6 428.5 L590.9 431.5 L587.2 434.5 L583.5 437.5 L579.9 440.5 L576.3 443.5 L572.8 446.5 L569.3 449.5 L565.9 452.5 L562.7 455.5 L559.6 458.5 L556.8 461.5 L554.2 464.5 L551.8 467.5 L549.8 470.5 L548.1 473.5 L546.7 476.5 L545.5 479.5 L544.6 482.5 L543.9 485.5 L543.4 488.5 L543.0 491.5 L542.8 494.5 L542.5 497.5 L542.4 500.5 L542.3 503.5 L542.2 506.5 L542.1 509.5 L542.1 512.5 L542.1 515.5 L542.1 518.5 L542.0 521.5 L542.0 524.5 L542.0 527.5 L542.0 530.5 L542.0 533.5 L542.0 536.5 L542.0 539.5 L542.0 542.5 L542.0 545.5 L542.0 548.5 L542.0 551.5 L542.0 554.5 L542.0 557.5 L542.0 560.5 L542.0 563.5 L542.0 566.5 L542.0 569.5 L542.0 572.5 L542.0 575.5 L542.0 578.5 L542.0 581.5 L542.1 584.5 L542.1 587.5 L542.1 590.5 L542.2 593.5 L542.3 596.5 L542.4 599.5 L542.5 602.5 L542.7 605.5 L542.9 608.5 L543.3 611.5 L543.8 614.5 L544.4 617.5 L545.2 620.5 L546.3 623.5 L547.6 626.5 L549.2 629.5 L551.1 632.5 L553.3 635.5 L555.9 638.5 L558.7 641.5 L561.7 644.5 L564.8 647.5 L568.2 650.5 L571.6 653.5 L575.1 656.5 L578.7 659.5 L582.3 662.5 L586.0 665.5 L589.7 668.5 L593.4 671.5 L597.1 674.5 L600.8 677.5 L604.5 680.5 L608.3 683.5 L612.0 686.5 L615.8 689.5"/>
<path d="M611.1 410.5 L607.3 413.5 L603.6 416.5 L599.9 419.5 L596.2 422.5 L592.5 425.5 L588.9 428.5 L585.3 431.5 L581.8 434.5 L578.3 437.5 L574.9 440.5 L571.7 443.5 L568.6 446.5 L565.8 449.5 L563.2 452.5 L560.8 455.5 L558.8 458.5 L557.1 461.5 L555.7 464.5 L554.5 467.5 L553.6 470.5 L552.9 473.5 L552.4 476.5 L552.0 479.5 L551.8 482.5 L551.5 485.5 L551.4 488.5 L551.3 491.5 L551.2 494.5 L551.1 497.5 L551.1 500.5 L551.1 503.5 L551.1 506.5 L551.0 509.5 L551.0 512.5 L551.0 515.5 L551.0 518.5 L551.0 521.5 L551.0 524.5 L551.0 527.5 L551.0 530.5 L551.0 533.5 L551.0 536.5 L551.0 539.5 L551.0 542.5 L551.0 545.5 L551.0 548.5 L551.0 551.5 L551.0 554.5 L551.0 557.5 L551.0 560.5 L551.0 563.5 L551.0 566.5 L551.0 569.5 L551.0 572.5 L551.0 575.5 L551.0 578.5 L551.0 581.5 L551.0 584.5 L551.0 587.5 L551.0 590.5 L551.0 593.5 L551.1 596.5 L551.1 599.5 L551.1 602.5 L551.2 605.5 L551.3 608.5 L551.4 611.5 L551.5 614.5 L551.7 617.5 L551.9 620.5 L552.3 623.5 L552.8 626.5 L553.4 629.5 L554.2 632.5 L555.3 635.5 L556.6 638.5 L558.2 641.5 L560.1 644.5 L562.4 647.5 L564.9 650.5 L567.7 653.5 L570.7 656.5 L573.8 659.5 L577.2 662.5 L580.6 665.5 L584.1 668.5 L587.7 671.5 L591.3 674.5 L595.0 677.5 L598.7 680.5 L602.4 683.5 L606.1 686.5 L609.8 689.5"/>
</g>
<path d="M119.5 432.5 L119.5 435.7 M119.5 438.5 L118.3 435.7 L120.7 435.7 Z M119.5 668.5 L119.5 665.3 M119.5 662.5 L120.7 665.3 L118.3 665.3 Z M119.5 445.5 L119.5 448.7 M119.5 451.5 L118.3 448.7 L120.7 448.7 Z M119.5 655.5 L119.5 652.3 M119.5 649.5 L120.7 652.3 L118.3 652.3 Z M119.5 458.5 L119.5 461.7 M119.5 464.5 L118.3 461.7 L120.7 461.7 Z M119.5 642.5 L119.5 639.3 M119.5 636.5 L120.7 639.3 L118.3 639.3 Z M119.5 471.5 L119.5 475.7 M119.5 478.5 L118.3 475.7 L120.7 475.7 Z M119.5 629.5 L119.5 625.3 M119.5 622.5 L120.7 625.3 L118.3 625.3 Z M119.5 484.5 L119.9 488.7 M120.1 491.5 L118.7 488.8 L121.1 488.6 Z M119.5 616.5 L119.9 612.3 M120.1 609.5 L121.1 612.4 L118.7 612.2 Z M119.5 497.5 L120.2 501.6 M120.7 504.4 L119.0 501.8 L121.4 501.4 Z M119.5 603.5 L120.2 599.4 M120.7 596.6 L121.4 599.6 L119.0 599.2 Z M119.5 510.5 L114.2 518.0 M112.6 520.3 L113.2 517.3 L115.2 518.7 Z M119.5 590.5 L114.2 583.0 M112.6 580.7 L115.2 582.3 L113.2 583.7 Z M119.5 524.5 L119.5 528.7 M119.5 531.5 L118.3 528.7 L120.7 528.7 Z M119.5 576.5 L119.5 572.3 M119.5 569.5 L120.7 572.3 L118.3 572.3 Z M180.5 432.5 L180.5 435.7 M180.5 438.5 L179.3 435.7 L181.7 435.7 Z M180.5 668.5 L180.5 665.3 M180.5 662.5 L181.7 665.3 L179.3 665.3 Z M180.5 445.5 L180.5 448.7 M180.5 451.5 L179.3 448.7 L181.7 448.7 Z M180.5 655.5 L180.5 652.3 M180.5 649.5 L181.7 652.3 L179.3 652.3 Z M180.5 458.5 L180.8 461.7 M181.0 464.5 L179.6 461.8 L182.0 461.6 Z M180.5 642.5 L180.8 639.3 M181.0 636.5 L182.0 639.4 L179.6 639.2 Z M180.5 471.5 L181.9 475.4 M182.9 478.1 L180.8 475.9 L183.1 475.0 Z M180.5 629.5 L181.9 625.6 M182.9 622.9 L183.1 626.0 L180.8 625.1 Z M180.5 484.5 L182.7 489.2 M183.9 491.8 L181.6 489.7 L183.8 488.7 Z M180.5 616.5 L182.7 611.8 M183.9 609.2 L183.8 612.3 L181.6 611.3 Z M180.5 497.5 L184.1 502.6 M185.7 504.9 L183.1 503.3 L185.0 501.9 Z M180.5 603.5 L184.1 598.4 M185.7 596.1 L185.0 599.1 L183.1 597.7 Z M180.5 510.5 L185.1 516.0 M186.9 518.2 L184.2 516.8 L186.0 515.2 Z M180.5 590.5 L185.1 585.0 M186.9 582.8 L186.0 585.8 L184.2 584.2 Z M180.5 524.5 L163.1 532.6 M160.6 533.8 L162.6 531.5 L163.6 533.7 Z M180.5 576.5 L163.1 568.4 M160.6 567.2 L163.6 567.3 L162.6 569.5 Z M241.5 432.5 L241.5 435.7 M241.5 438.5 L240.3 435.7 L242.7 435.7 Z M241.5 668.5 L241.5 665.3 M241.5 662.5 L242.7 665.3 L240.3 665.3 Z M241.5 445.5 L241.8 448.7 M242.0 451.5 L240.6 448.8 L243.0 448.6 Z M241.5 655.5 L241.8 652.3 M242.0 649.5 L243.0 652.4 L240.6 652.2 Z M241.5 458.5 L242.2 462.6 M242.7 465.4 L241.0 462.8 L243.4 462.4 Z M241.5 642.5 L242.2 638.4 M242.7 635.6 L243.4 638.6 L241.0 638.2 Z M241.5 471.5 L242.9 475.4 M243.9 478.1 L241.8 475.9 L244.1 475.0 Z M241.5 629.5 L242.9 625.6 M243.9 622.9 L244.1 626.0 L241.8 625.1 Z M241.5 484.5 L244.1 489.0 M245.5 491.4 L243.1 489.6 L245.1 488.4 Z M241.5 616.5 L244.1 612.0 M245.5 609.6 L245.1 612.6 L243.1 611.4 Z M241.5 497.5 L245.5 502.2 M247.3 504.4 L244.6 503.0 L246.4 501.5 Z M241.5 603.5 L245.5 598.8 M247.3 596.6 L246.4 599.5 L244.6 598.0 Z M241.5 510.5 L246.6 515.6 M248.6 517.6 L245.7 516.4 L247.4 514.7 Z M241.5 590.5 L246.6 585.4 M248.6 583.4 L247.4 586.3 L245.7 584.6 Z M241.5 524.5 L247.0 529.1 M249.2 530.9 L246.2 530.0 L247.8 528.2 Z M241.5 576.5 L247.0 571.9 M249.2 570.1 L247.8 572.8 L246.2 571.0 Z M302.5 432.5 L302.8 435.7 M303.0 438.5 L301.6 435.8 L304.0 435.6 Z M302.5 668.5 L302.8 665.3 M303.0 662.5 L304.0 665.4 L301.6 665.2 Z M302.5 445.5 L303.1 448.7 M303.5 451.4 L301.9 448.9 L304.2 448.4 Z M302.5 655.5 L303.1 652.3 M303.5 649.6 L304.2 652.6 L301.9 652.1 Z M302.5 458.5 L303.6 462.6 M304.3 465.3 L302.4 462.9 L304.7 462.2 Z M302.5 642.5 L303.6 638.4 M304.3 635.7 L304.7 638.8 L302.4 638.1 Z M302.5 471.5 L304.3 475.3 M305.5 477.8 L303.2 475.8 L305.4 474.8 Z M302.5 629.5 L304.3 625.7 M305.5 623.2 L305.4 626.2 L303.2 625.2 Z M302.5 484.5 L305.5 488.8 M307.1 491.1 L304.5 489.4 L306.5 488.1 Z M302.5 616.5 L305.5 612.2 M307.1 609.9 L306.5 612.9 L304.5 611.6 Z M302.5 497.5 L306.9 501.9 M308.9 503.9 L306.0 502.7 L307.7 501.0 Z M302.5 603.5 L306.9 599.1 M308.9 597.1 L307.7 600.0 L306.0 598.3 Z M302.5 510.5 L308.0 515.1 M310.2 516.9 L307.2 516.0 L308.8 514.2 Z M302.5 590.5 L308.0 585.9 M310.2 584.1 L308.8 586.8 L307.2 585.0 Z M302.5 524.5 L308.4 528.6 M310.7 530.2 L307.7 529.6 L309.1 527.6 Z M302.5 576.5 L308.4 572.4 M310.7 570.8 L309.1 573.4 L307.7 571.4 Z M363.5 432.5 L364.2 436.6 M364.7 439.4 L363.0 436.8 L365.4 436.4 Z M363.5 668.5 L364.2 664.4 M364.7 661.6 L365.4 664.6 L363.0 664.2 Z M363.5 445.5 L364.9 449.4 M365.9 452.1 L363.8 449.9 L366.1 449.0 Z M363.5 655.5 L364.9 651.6 M365.9 648.9 L366.1 652.0 L363.8 651.1 Z M363.5 458.5 L366.1 463.0 M367.5 465.4 L365.1 463.6 L367.1 462.4 Z M363.5 642.5 L366.1 638.0 M367.5 635.6 L367.1 638.6 L365.1 637.4 Z M363.5 471.5 L366.8 475.5 M368.6 477.6 L365.9 476.3 L367.8 474.7 Z M363.5 629.5 L366.8 625.5 M368.6 623.4 L367.8 626.3 L365.9 624.7 Z M363.5 484.5 L367.9 488.9 M369.9 490.9 L367.0 489.7 L368.7 488.0 Z M363.5 616.5 L367.9 612.1 M369.9 610.1 L368.7 613.0 L367.0 611.3 Z M363.5 497.5 L369.0 502.1 M371.2 503.9 L368.2 503.0 L369.8 501.2 Z M363.5 603.5 L369.0 598.9 M371.2 597.1 L369.8 599.8 L368.2 598.0 Z M363.5 510.5 L369.4 514.6 M371.7 516.2 L368.7 515.6 L370.1 513.6 Z M363.5 590.5 L369.4 586.4 M371.7 584.8 L370.1 587.4 L368.7 585.4 Z M363.5 524.5 L369.7 528.1 M372.2 529.5 L369.1 529.1 L370.3 527.1 Z M363.5 576.5 L369.7 572.9 M372.2 571.5 L370.3 573.9 L369.1 571.9 Z M446.0 432.5 L451.0 439.0 M452.8 441.2 L450.1 439.7 L452.0 438.2 Z M446.0 668.5 L451.0 662.0 M452.8 659.8 L452.0 662.8 L450.1 661.3 Z M446.0 445.5 L451.0 452.0 M452.8 454.2 L450.1 452.7 L452.0 451.2 Z M446.0 655.5 L451.0 649.0 M452.8 646.8 L452.0 649.8 L450.1 648.3 Z M446.0 458.5 L451.0 465.0 M452.8 467.2 L450.1 465.7 L452.0 464.2 Z M446.0 642.5 L451.0 636.0 M452.8 633.8 L452.0 636.8 L450.1 635.3 Z M446.0 471.5 L451.0 478.0 M452.8 480.2 L450.1 478.7 L452.0 477.2 Z M446.0 629.5 L451.0 623.0 M452.8 620.8 L452.0 623.8 L450.1 622.3 Z M446.0 484.5 L451.0 491.0 M452.8 493.2 L450.1 491.7 L452.0 490.2 Z M446.0 616.5 L451.0 610.0 M452.8 607.8 L452.0 610.8 L450.1 609.3 Z M446.0 497.5 L451.0 504.0 M452.8 506.2 L450.1 504.7 L452.0 503.2 Z M446.0 603.5 L451.0 597.0 M452.8 594.8 L452.0 597.8 L450.1 596.3 Z M446.0 510.5 L451.3 516.8 M453.1 518.9 L450.4 517.6 L452.2 516.0 Z M446.0 590.5 L451.3 584.2 M453.1 582.1 L452.2 585.0 L450.4 583.4 Z M446.0 524.5 L451.8 530.3 M453.8 532.3 L450.9 531.1 L452.6 529.4 Z M446.0 576.5 L451.8 570.7 M453.8 568.7 L452.6 571.6 L450.9 569.9 Z" stroke="#f4f0f8" stroke-width="0.95" fill="#f4f0f8" stroke-opacity="0.9" fill-opacity="0.9"/>
<path d="M242.0 544.0 L292.0 544.0 M278.0 550.3 L292.0 544.0 L278.0 537.7 M242.0 557.0 L292.0 557.0 M278.0 563.3 L292.0 557.0 L278.0 550.7 M303.0 544.0 L347.0 544.0 M333.0 550.3 L347.0 544.0 L333.0 537.7 M303.0 557.0 L347.0 557.0 M333.0 563.3 L347.0 557.0 L333.0 550.7 M364.0 544.0 L413.0 544.0 M399.0 550.3 L413.0 544.0 L399.0 537.7 M364.0 557.0 L413.0 557.0 M399.0 563.3 L413.0 557.0 L399.0 550.7 M448.0 544.0 L511.0 544.0 M495.0 551.2 L511.0 544.0 L495.0 536.8 M448.0 557.0 L511.0 557.0 M495.0 564.2 L511.0 557.0 L495.0 549.8 M448.0 524.0 L475.0 527.0 M465.6 530.0 L475.0 527.0 L466.5 522.0 M448.0 577.0 L475.0 574.0 M466.5 579.0 L475.0 574.0 L465.6 571.0 M364.0 528.0 L392.0 531.0 M382.6 534.0 L392.0 531.0 L383.5 526.1 M364.0 573.0 L392.0 570.0 M383.5 574.9 L392.0 570.0 L382.6 567.0" stroke="#f8f4ff" stroke-width="1.1" fill="none" stroke-opacity="0.9"/>
<path d="M553.0 680.5 h-10 M553.0 674.0 h-5 M553.0 667.5 h-5 M553.0 661.0 h-5 M553.0 654.5 h-5 M553.0 648.0 h-7 M553.0 641.5 h-5 M553.0 635.0 h-5 M553.0 628.5 h-5 M553.0 622.0 h-5 M553.0 615.5 h-10 M553.0 609.0 h-5 M553.0 602.5 h-5 M553.0 596.0 h-5 M553.0 589.5 h-5 M553.0 583.0 h-7 M553.0 576.5 h-5 M553.0 570.0 h-5 M553.0 563.5 h-5 M553.0 557.0 h-5 M553.0 550.5 h-10 M553.0 544.0 h-5 M553.0 537.5 h-5 M553.0 531.0 h-5 M553.0 524.5 h-5 M553.0 518.0 h-7 M553.0 511.5 h-5 M553.0 505.0 h-5 M553.0 498.5 h-5 M553.0 492.0 h-5 M553.0 485.5 h-10 M553.0 479.0 h-5 M553.0 472.5 h-5 M553.0 466.0 h-5 M553.0 459.5 h-5 M553.0 453.0 h-7 M553.0 446.5 h-5 M553.0 440.0 h-5 M553.0 433.5 h-5 M553.0 427.0 h-5" stroke="#111" stroke-width="1.1" stroke-opacity="0.85"/>
<path d="M302.3 486.0 V616.2" stroke="#fff" stroke-width="2.3"/>
</g>
<rect x="58.5" y="63.5" width="494.5" height="262.5" fill="none" stroke="#2a3450" stroke-width="1"/>
<rect x="58.5" y="420.0" width="494.5" height="262.5" fill="none" stroke="#2a3450" stroke-width="1"/>
<text x="28.0" y="20.0" font-size="23.8" font-style="normal" font-weight="normal" text-anchor="start" stroke="#000" stroke-width="0.55">Temperature</text>
<text x="63.5" y="50.5" font-size="23.5" font-style="normal" font-weight="normal" text-anchor="start" stroke="#000" stroke-width="0.55">without conduction</text>
<text x="76.0" y="404.0" font-size="23.5" font-style="normal" font-weight="normal" text-anchor="start" stroke="#000" stroke-width="0.55">with conduction</text>
<path d="M406.7 49.4 H467" stroke="#000" stroke-width="1.8" fill="none"/>
<path d="M451 42.8 L467.8 49.4 L451 56.1" stroke="#000" stroke-width="1.6" fill="none"/>
<text x="486.3" y="58.8" font-size="23" font-style="normal" font-weight="normal" text-anchor="start" stroke="#000" stroke-width="0.55">=</text>
<text x="505.5" y="58.8" font-size="23" font-style="italic" font-weight="normal" text-anchor="start" stroke="#000" stroke-width="0.55">5.</text>
<path d="M406.7 403.4 H467" stroke="#000" stroke-width="1.8" fill="none"/>
<path d="M451 396.8 L467.8 403.4 L451 410.1" stroke="#000" stroke-width="1.6" fill="none"/>
<text x="486.3" y="412.8" font-size="23" font-style="normal" font-weight="normal" text-anchor="start" stroke="#000" stroke-width="0.55">=</text>
<text x="505.5" y="412.8" font-size="23" font-style="italic" font-weight="normal" text-anchor="start" stroke="#000" stroke-width="0.55">5.</text>
<text x="54.5" y="81.5" font-size="26.5" font-style="italic" font-weight="normal" text-anchor="end" stroke="#000" stroke-width="0.75">2</text>
<text x="54.5" y="140.5" font-size="26.5" font-style="italic" font-weight="normal" text-anchor="end" stroke="#000" stroke-width="0.75">1</text>
<text x="54.5" y="205.5" font-size="26.5" font-style="italic" font-weight="normal" text-anchor="end" stroke="#000" stroke-width="0.75">0</text>
<text x="54.5" y="270.5" font-size="26.5" font-style="italic" font-weight="normal" text-anchor="end" stroke="#000" stroke-width="0.75">-1</text>
<text x="54.5" y="326.5" font-size="26.5" font-style="italic" font-weight="normal" text-anchor="end" stroke="#000" stroke-width="0.75">-2</text>
<text transform="translate(13.5,197) rotate(-90)" font-size="27" font-style="italic" font-weight="bold" text-anchor="middle">z</text>
<text x="61.8" y="352.0" font-size="26.5" font-style="italic" font-weight="bold" text-anchor="middle" >0</text>
<text x="182.3" y="352.0" font-size="26.5" font-style="italic" font-weight="bold" text-anchor="middle" >2</text>
<text x="304.7" y="352.0" font-size="26.5" font-style="italic" font-weight="bold" text-anchor="middle" >4</text>
<text x="426.3" y="352.0" font-size="26.5" font-style="italic" font-weight="bold" text-anchor="middle" >6</text>
<text x="548.3" y="352.0" font-size="26.5" font-style="italic" font-weight="bold" text-anchor="middle" >8</text>
<text x="308.0" y="374.5" font-size="26.5" font-style="italic" font-weight="bold" text-anchor="middle" >x</text>
<text x="54.5" y="435.8" font-size="26.5" font-style="italic" font-weight="normal" text-anchor="end" stroke="#000" stroke-width="0.75">2</text>
<text x="54.5" y="494.8" font-size="26.5" font-style="italic" font-weight="normal" text-anchor="end" stroke="#000" stroke-width="0.75">1</text>
<text x="54.5" y="559.8" font-size="26.5" font-style="italic" font-weight="normal" text-anchor="end" stroke="#000" stroke-width="0.75">0</text>
<text x="54.5" y="624.8" font-size="26.5" font-style="italic" font-weight="normal" text-anchor="end" stroke="#000" stroke-width="0.75">-1</text>
<text x="54.5" y="680.8" font-size="26.5" font-style="italic" font-weight="normal" text-anchor="end" stroke="#000" stroke-width="0.75">-2</text>
<text transform="translate(13.5,551.3) rotate(-90)" font-size="27" font-style="italic" font-weight="bold" text-anchor="middle">z</text>
<text x="61.8" y="709.0" font-size="26.5" font-style="italic" font-weight="bold" text-anchor="middle" >0</text>
<text x="182.3" y="709.0" font-size="26.5" font-style="italic" font-weight="bold" text-anchor="middle" >2</text>
<text x="304.7" y="709.0" font-size="26.5" font-style="italic" font-weight="bold" text-anchor="middle" >4</text>
<text x="426.3" y="709.0" font-size="26.5" font-style="italic" font-weight="bold" text-anchor="middle" >6</text>
<text x="548.3" y="709.0" font-size="26.5" font-style="italic" font-weight="bold" text-anchor="middle" >8</text>
<text x="308.0" y="731.5" font-size="26.5" font-style="italic" font-weight="bold" text-anchor="middle" >x</text>
<rect x="583.5" y="404" width="13.5" height="19.9" fill="#e89a3c"/>
<rect x="583.5" y="423.6" width="13.5" height="19.3" fill="#f0b834"/>
<rect x="583.5" y="442.6" width="13.5" height="19.7" fill="#f5d22a"/>
<rect x="583.5" y="462" width="13.5" height="39.8" fill="#f4e02c"/>
<rect x="583.5" y="501.5" width="13.5" height="19.8" fill="#d8d84a"/>
<rect x="583.5" y="521" width="13.5" height="20.1" fill="#3a9a52"/>
<rect x="583.5" y="540.8" width="13.5" height="57.9" fill="#36a8d8"/>
<rect x="583.5" y="598.4" width="13.5" height="19.3" fill="#2f80c0"/>
<rect x="583.5" y="617.4" width="13.5" height="38.3" fill="#344f88"/>
<rect x="583.5" y="655.4" width="13.5" height="38.4" fill="#3a4e78"/>
<rect x="583.5" y="404" width="13.5" height="289.5" fill="none" stroke="#555" stroke-width="0.8"/>
<text x="580.3" y="432.8" font-size="22" font-style="italic" font-weight="normal" text-anchor="end" stroke="#000" stroke-width="0.4">14</text>
<text x="580.3" y="471.0" font-size="22" font-style="italic" font-weight="normal" text-anchor="end" stroke="#000" stroke-width="0.4">12</text>
<text x="580.3" y="509.6" font-size="22" font-style="italic" font-weight="normal" text-anchor="end" stroke="#000" stroke-width="0.4">10</text>
<text x="580.3" y="548.2" font-size="22" font-style="italic" font-weight="normal" text-anchor="end" stroke="#000" stroke-width="0.4">8</text>
<text x="580.3" y="586.8" font-size="22" font-style="italic" font-weight="normal" text-anchor="end" stroke="#000" stroke-width="0.4">6</text>
<text x="580.3" y="625.7" font-size="22" font-style="italic" font-weight="normal" text-anchor="end" stroke="#000" stroke-width="0.4">4</text>
<text x="580.3" y="663.3" font-size="22" font-style="italic" font-weight="normal" text-anchor="end" stroke="#000" stroke-width="0.4">2</text>
<text x="580.3" y="694.8" font-size="22" font-style="italic" font-weight="normal" text-anchor="end" stroke="#000" stroke-width="0.4">0</text>
</svg></body></html>
